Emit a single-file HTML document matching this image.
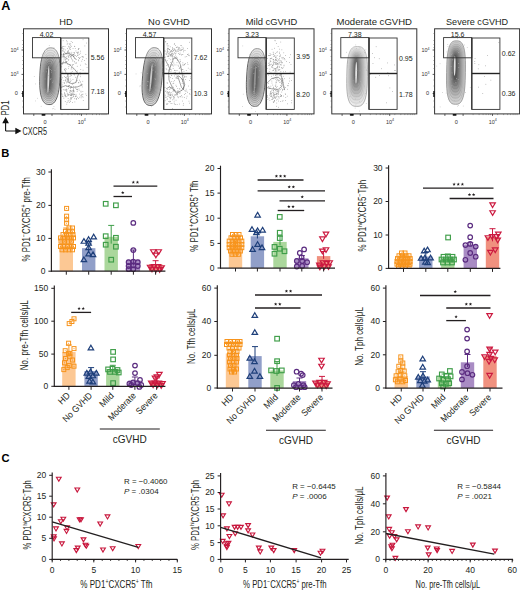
<!DOCTYPE html>
<html><head><meta charset="utf-8"><style>
html,body{margin:0;padding:0;background:#fff;}
svg{display:block;}
text{font-family:"Liberation Sans", sans-serif;}
</style></head><body>
<svg width="520" height="591" viewBox="0 0 520 591" fill="#231f20">
<rect width="520" height="591" fill="#fff"/>
<text x="1.20" y="10.40" font-size="12.6" font-weight="bold" fill="#000">A</text>
<text x="66.00" y="24.80" font-size="9" text-anchor="middle" textLength="13.40" lengthAdjust="spacingAndGlyphs">HD</text>
<g transform="rotate(2 49.90 76.20)"><path d="M60.00,76.20 L59.93,81.77 L59.72,85.83 L59.38,89.37 L58.90,92.51 L58.29,95.29 L57.55,97.72 L56.69,99.80 L55.70,101.51 L54.58,102.86 L53.33,103.82 L51.88,104.41 L49.90,104.60 L47.92,104.41 L46.47,103.82 L45.22,102.86 L44.10,101.51 L43.11,99.80 L42.25,97.72 L41.51,95.29 L40.90,92.51 L40.42,89.37 L40.08,85.83 L39.87,81.77 L39.80,76.20 L39.87,70.63 L40.08,66.57 L40.42,63.03 L40.90,59.89 L41.51,57.11 L42.25,54.68 L43.11,52.60 L44.10,50.89 L45.22,49.54 L46.47,48.58 L47.92,47.99 L49.90,47.80 L51.88,47.99 L53.33,48.58 L54.58,49.54 L55.70,50.89 L56.69,52.60 L57.55,54.68 L58.29,57.11 L58.90,59.89 L59.38,63.03 L59.72,66.57 L59.93,70.63 Z" fill="#dcdcdc" stroke="#3a3a3a" stroke-width="0.75"/><path d="M58.89,76.45 L58.83,81.60 L58.64,85.35 L58.33,88.62 L57.90,91.52 L57.35,94.09 L56.68,96.34 L55.90,98.25 L55.01,99.84 L54.00,101.08 L52.87,101.97 L51.56,102.51 L49.78,102.69 L47.99,102.51 L46.68,101.97 L45.55,101.08 L44.54,99.84 L43.65,98.25 L42.87,96.34 L42.20,94.09 L41.65,91.52 L41.22,88.62 L40.91,85.35 L40.72,81.60 L40.66,76.45 L40.72,71.30 L40.91,67.55 L41.22,64.28 L41.65,61.38 L42.20,58.81 L42.87,56.56 L43.65,54.65 L44.54,53.06 L45.55,51.82 L46.68,50.93 L47.99,50.39 L49.77,50.21 L51.56,50.39 L52.87,50.93 L54.00,51.82 L55.01,53.06 L55.90,54.65 L56.68,56.56 L57.35,58.81 L57.90,61.38 L58.33,64.28 L58.64,67.55 L58.83,71.30 Z" fill="#d3d3d3" stroke="#555555" stroke-width="0.3"/><path d="M57.78,76.70 L57.72,81.42 L57.56,84.87 L57.28,87.87 L56.90,90.53 L56.41,92.89 L55.81,94.95 L55.12,96.71 L54.32,98.16 L53.42,99.30 L52.41,100.12 L51.24,100.62 L49.65,100.78 L48.06,100.62 L46.89,100.12 L45.88,99.30 L44.98,98.16 L44.18,96.71 L43.49,94.95 L42.89,92.89 L42.40,90.53 L42.02,87.87 L41.74,84.87 L41.58,81.42 L41.52,76.70 L41.58,71.98 L41.74,68.53 L42.02,65.53 L42.40,62.87 L42.89,60.51 L43.49,58.45 L44.18,56.69 L44.98,55.24 L45.88,54.10 L46.89,53.28 L48.06,52.78 L49.65,52.62 L51.24,52.78 L52.41,53.28 L53.42,54.10 L54.32,55.24 L55.12,56.69 L55.81,58.45 L56.41,60.51 L56.90,62.87 L57.28,65.53 L57.56,68.53 L57.72,71.98 Z" fill="#c6c6c6" stroke="#555555" stroke-width="0.3"/><path d="M56.67,76.95 L56.62,81.25 L56.48,84.38 L56.23,87.12 L55.89,89.54 L55.46,91.69 L54.94,93.56 L54.33,95.16 L53.63,96.49 L52.84,97.53 L51.95,98.27 L50.93,98.72 L49.53,98.87 L48.12,98.72 L47.10,98.27 L46.21,97.53 L45.42,96.49 L44.72,95.16 L44.11,93.56 L43.59,91.69 L43.16,89.54 L42.82,87.12 L42.57,84.38 L42.43,81.25 L42.38,76.95 L42.43,72.65 L42.57,69.52 L42.82,66.78 L43.16,64.36 L43.59,62.21 L44.11,60.34 L44.72,58.74 L45.42,57.41 L46.21,56.37 L47.10,55.63 L48.12,55.18 L49.52,55.03 L50.93,55.18 L51.95,55.63 L52.84,56.37 L53.63,57.41 L54.33,58.74 L54.94,60.34 L55.46,62.21 L55.89,64.36 L56.23,66.78 L56.48,69.52 L56.62,72.65 Z" fill="#b8b8b8" stroke="#555555" stroke-width="0.3"/><path d="M55.56,77.20 L55.52,81.08 L55.39,83.90 L55.18,86.36 L54.89,88.55 L54.52,90.48 L54.07,92.18 L53.54,93.62 L52.94,94.81 L52.26,95.75 L51.49,96.42 L50.61,96.83 L49.40,96.96 L48.19,96.83 L47.31,96.42 L46.54,95.75 L45.86,94.81 L45.26,93.62 L44.73,92.18 L44.28,90.48 L43.91,88.55 L43.62,86.36 L43.41,83.90 L43.28,81.08 L43.24,77.20 L43.28,73.32 L43.41,70.50 L43.62,68.04 L43.91,65.85 L44.28,63.92 L44.73,62.22 L45.26,60.78 L45.86,59.59 L46.54,58.65 L47.31,57.98 L48.19,57.57 L49.40,57.44 L50.61,57.57 L51.49,57.98 L52.26,58.65 L52.94,59.59 L53.54,60.78 L54.07,62.22 L54.52,63.92 L54.89,65.85 L55.18,68.04 L55.39,70.50 L55.52,73.32 Z" fill="#a9a9a9" stroke="#555555" stroke-width="0.3"/><path d="M54.45,77.45 L54.42,80.90 L54.31,83.42 L54.13,85.61 L53.89,87.56 L53.58,89.28 L53.20,90.79 L52.75,92.08 L52.25,93.14 L51.68,93.97 L51.03,94.57 L50.29,94.93 L49.28,95.05 L48.26,94.93 L47.52,94.57 L46.87,93.97 L46.30,93.14 L45.80,92.08 L45.35,90.79 L44.97,89.28 L44.66,87.56 L44.42,85.61 L44.24,83.42 L44.13,80.90 L44.10,77.45 L44.13,74.00 L44.24,71.48 L44.42,69.29 L44.66,67.34 L44.97,65.62 L45.35,64.11 L45.80,62.82 L46.30,61.76 L46.87,60.93 L47.52,60.33 L48.26,59.97 L49.27,59.85 L50.29,59.97 L51.03,60.33 L51.68,60.93 L52.25,61.76 L52.75,62.82 L53.20,64.11 L53.58,65.62 L53.89,67.34 L54.13,69.29 L54.31,71.48 L54.42,74.00 Z" fill="#989898" stroke="#555555" stroke-width="0.3"/><path d="M53.34,77.70 L53.31,80.73 L53.23,82.94 L53.08,84.86 L52.89,86.57 L52.63,88.08 L52.33,89.40 L51.97,90.53 L51.56,91.46 L51.09,92.19 L50.57,92.72 L49.97,93.04 L49.15,93.14 L48.33,93.04 L47.73,92.72 L47.21,92.19 L46.74,91.46 L46.33,90.53 L45.97,89.40 L45.67,88.08 L45.41,86.57 L45.22,84.86 L45.07,82.94 L44.99,80.73 L44.96,77.70 L44.99,74.67 L45.07,72.46 L45.22,70.54 L45.41,68.83 L45.67,67.32 L45.97,66.00 L46.33,64.87 L46.74,63.94 L47.21,63.21 L47.73,62.68 L48.33,62.36 L49.15,62.26 L49.97,62.36 L50.57,62.68 L51.09,63.21 L51.56,63.94 L51.97,64.87 L52.33,66.00 L52.63,67.32 L52.89,68.83 L53.08,70.54 L53.23,72.46 L53.31,74.67 Z" fill="#878787" stroke="#555555" stroke-width="0.3"/><path d="M52.23,77.95 L52.21,80.55 L52.14,82.45 L52.03,84.11 L51.88,85.58 L51.69,86.88 L51.46,88.02 L51.18,88.99 L50.87,89.79 L50.51,90.42 L50.11,90.87 L49.65,91.14 L49.03,91.23 L48.40,91.14 L47.94,90.87 L47.54,90.42 L47.18,89.79 L46.87,88.99 L46.59,88.02 L46.36,86.88 L46.17,85.58 L46.02,84.11 L45.91,82.45 L45.84,80.55 L45.82,77.95 L45.84,75.35 L45.91,73.45 L46.02,71.79 L46.17,70.32 L46.36,69.02 L46.59,67.88 L46.87,66.91 L47.18,66.11 L47.54,65.48 L47.94,65.03 L48.40,64.76 L49.02,64.67 L49.65,64.76 L50.11,65.03 L50.51,65.48 L50.87,66.11 L51.18,66.91 L51.46,67.88 L51.69,69.02 L51.88,70.32 L52.03,71.79 L52.14,73.45 L52.21,75.35 Z" fill="#757575" stroke="#555555" stroke-width="0.3"/><path d="M51.12,78.20 L51.11,80.38 L51.06,81.97 L50.99,83.36 L50.88,84.59 L50.75,85.68 L50.58,86.63 L50.39,87.44 L50.18,88.11 L49.93,88.64 L49.65,89.02 L49.34,89.25 L48.90,89.32 L48.46,89.25 L48.15,89.02 L47.87,88.64 L47.62,88.11 L47.41,87.44 L47.22,86.63 L47.05,85.68 L46.92,84.59 L46.81,83.36 L46.74,81.97 L46.69,80.38 L46.68,78.20 L46.69,76.02 L46.74,74.43 L46.81,73.04 L46.92,71.81 L47.05,70.72 L47.22,69.77 L47.41,68.96 L47.62,68.29 L47.87,67.76 L48.15,67.38 L48.46,67.15 L48.90,67.08 L49.34,67.15 L49.65,67.38 L49.93,67.76 L50.18,68.29 L50.39,68.96 L50.58,69.77 L50.75,70.72 L50.88,71.81 L50.99,73.04 L51.06,74.43 L51.11,76.02 Z" fill="#626262" stroke="#555555" stroke-width="0.3"/><ellipse cx="48.50" cy="79.50" rx="0.9" ry="13.50" fill="#f2f2f2" opacity="0.85"/></g>
<rect x="32.50" y="37.6" width="28.2" height="20.2" fill="#fff" opacity="0.35"/>
<g fill="#b4b4b4"><rect x="46.0" y="55.6" width="0.7" height="0.7"/><rect x="52.6" y="60.1" width="0.7" height="0.7"/><rect x="50.2" y="69.0" width="0.7" height="0.7"/><rect x="44.6" y="88.8" width="0.7" height="0.7"/><rect x="33.9" y="76.0" width="0.7" height="0.7"/><rect x="45.9" y="71.5" width="0.7" height="0.7"/><rect x="46.2" y="103.2" width="0.7" height="0.7"/><rect x="46.7" y="68.4" width="0.7" height="0.7"/><rect x="41.8" y="53.8" width="0.7" height="0.7"/><rect x="56.8" y="87.3" width="0.7" height="0.7"/><rect x="53.6" y="106.1" width="0.7" height="0.7"/><rect x="44.7" y="78.6" width="0.7" height="0.7"/><rect x="51.1" y="70.3" width="0.7" height="0.7"/><rect x="42.1" y="61.5" width="0.7" height="0.7"/><rect x="54.6" y="108.9" width="0.7" height="0.7"/><rect x="50.1" y="79.0" width="0.7" height="0.7"/><rect x="35.3" y="83.6" width="0.7" height="0.7"/><rect x="53.4" y="108.1" width="0.7" height="0.7"/><rect x="46.8" y="104.4" width="0.7" height="0.7"/><rect x="53.7" y="54.4" width="0.7" height="0.7"/><rect x="52.3" y="108.5" width="0.7" height="0.7"/><rect x="40.8" y="105.9" width="0.7" height="0.7"/><rect x="48.9" y="45.3" width="0.7" height="0.7"/><rect x="48.3" y="75.0" width="0.7" height="0.7"/><rect x="51.1" y="71.8" width="0.7" height="0.7"/><rect x="47.3" y="49.5" width="0.7" height="0.7"/><rect x="49.6" y="65.5" width="0.7" height="0.7"/><rect x="50.6" y="78.2" width="0.7" height="0.7"/><rect x="53.6" y="47.4" width="0.7" height="0.7"/><rect x="49.6" y="94.1" width="0.7" height="0.7"/><rect x="57.0" y="67.1" width="0.7" height="0.7"/><rect x="44.5" y="52.4" width="0.7" height="0.7"/><rect x="35.0" y="100.6" width="0.7" height="0.7"/><rect x="40.5" y="83.8" width="0.7" height="0.7"/><rect x="43.1" y="70.7" width="0.7" height="0.7"/><rect x="53.1" y="55.3" width="0.7" height="0.7"/><rect x="52.1" y="55.5" width="0.7" height="0.7"/><rect x="52.8" y="80.7" width="0.7" height="0.7"/><rect x="53.7" y="94.5" width="0.7" height="0.7"/><rect x="53.9" y="51.5" width="0.7" height="0.7"/><rect x="37.0" y="97.9" width="0.7" height="0.7"/><rect x="51.0" y="62.7" width="0.7" height="0.7"/><rect x="52.4" y="82.3" width="0.7" height="0.7"/><rect x="54.6" y="70.1" width="0.7" height="0.7"/></g>
<g fill="#8e8e8e"><rect x="61.6" y="48.1" width="0.7" height="0.7"/><rect x="70.8" y="41.2" width="0.7" height="0.7"/><rect x="66.8" y="41.5" width="0.7" height="0.7"/><rect x="73.0" y="56.2" width="0.7" height="0.7"/><rect x="74.3" y="52.0" width="0.7" height="0.7"/><rect x="69.5" y="53.3" width="0.7" height="0.7"/><rect x="63.8" y="55.9" width="0.7" height="0.7"/><rect x="71.0" y="55.3" width="0.7" height="0.7"/><rect x="65.4" y="68.1" width="0.7" height="0.7"/><rect x="67.8" y="51.5" width="0.7" height="0.7"/><rect x="68.3" y="51.9" width="0.7" height="0.7"/><rect x="65.6" y="52.9" width="0.7" height="0.7"/><rect x="77.6" y="55.1" width="0.7" height="0.7"/><rect x="68.4" y="59.0" width="0.7" height="0.7"/><rect x="77.6" y="53.7" width="0.7" height="0.7"/><rect x="64.4" y="69.8" width="0.7" height="0.7"/><rect x="70.8" y="68.7" width="0.7" height="0.7"/><rect x="62.8" y="40.4" width="0.7" height="0.7"/><rect x="70.8" y="51.9" width="0.7" height="0.7"/><rect x="65.6" y="57.8" width="0.7" height="0.7"/><rect x="68.6" y="56.7" width="0.7" height="0.7"/><rect x="65.3" y="62.7" width="0.7" height="0.7"/><rect x="75.0" y="55.2" width="0.7" height="0.7"/><rect x="65.2" y="59.4" width="0.7" height="0.7"/><rect x="69.9" y="48.8" width="0.7" height="0.7"/><rect x="65.2" y="61.3" width="0.7" height="0.7"/><rect x="67.0" y="53.0" width="0.7" height="0.7"/><rect x="68.6" y="54.8" width="0.7" height="0.7"/><rect x="67.5" y="43.4" width="0.7" height="0.7"/><rect x="76.2" y="56.2" width="0.7" height="0.7"/><rect x="63.1" y="60.9" width="0.7" height="0.7"/><rect x="69.0" y="55.1" width="0.7" height="0.7"/><rect x="72.7" y="68.6" width="0.7" height="0.7"/><rect x="70.3" y="64.5" width="0.7" height="0.7"/><rect x="78.3" y="48.9" width="0.7" height="0.7"/><rect x="64.9" y="59.7" width="0.7" height="0.7"/><rect x="74.0" y="61.3" width="0.7" height="0.7"/><rect x="70.4" y="43.6" width="0.7" height="0.7"/><rect x="79.3" y="58.3" width="0.7" height="0.7"/><rect x="71.3" y="58.0" width="0.7" height="0.7"/><rect x="61.4" y="66.5" width="0.7" height="0.7"/><rect x="63.3" y="53.5" width="0.7" height="0.7"/><rect x="66.2" y="58.4" width="0.7" height="0.7"/><rect x="70.0" y="56.6" width="0.7" height="0.7"/><rect x="68.3" y="56.6" width="0.7" height="0.7"/><rect x="73.7" y="54.4" width="0.7" height="0.7"/><rect x="64.4" y="57.5" width="0.7" height="0.7"/><rect x="62.5" y="56.7" width="0.7" height="0.7"/><rect x="78.0" y="59.6" width="0.7" height="0.7"/><rect x="73.2" y="56.4" width="0.7" height="0.7"/><rect x="68.9" y="52.3" width="0.7" height="0.7"/><rect x="66.1" y="40.4" width="0.7" height="0.7"/><rect x="61.5" y="47.3" width="0.7" height="0.7"/><rect x="71.7" y="59.0" width="0.7" height="0.7"/><rect x="73.2" y="64.3" width="0.7" height="0.7"/><rect x="66.0" y="61.3" width="0.7" height="0.7"/><rect x="77.3" y="54.9" width="0.7" height="0.7"/><rect x="72.9" y="54.0" width="0.7" height="0.7"/><rect x="63.4" y="55.7" width="0.7" height="0.7"/><rect x="65.2" y="56.9" width="0.7" height="0.7"/><rect x="74.3" y="52.9" width="0.7" height="0.7"/><rect x="63.0" y="55.0" width="0.7" height="0.7"/><rect x="70.9" y="57.5" width="0.7" height="0.7"/><rect x="69.5" y="43.2" width="0.7" height="0.7"/><rect x="61.8" y="63.1" width="0.7" height="0.7"/><rect x="68.7" y="45.9" width="0.7" height="0.7"/><rect x="63.2" y="46.3" width="0.7" height="0.7"/><rect x="62.4" y="62.1" width="0.7" height="0.7"/><rect x="66.4" y="61.8" width="0.7" height="0.7"/><rect x="68.4" y="45.9" width="0.7" height="0.7"/><rect x="64.2" y="68.9" width="0.7" height="0.7"/><rect x="63.6" y="48.6" width="0.7" height="0.7"/><rect x="73.8" y="55.5" width="0.7" height="0.7"/><rect x="67.5" y="64.0" width="0.7" height="0.7"/><rect x="62.1" y="46.4" width="0.7" height="0.7"/><rect x="63.4" y="62.0" width="0.7" height="0.7"/><rect x="66.8" y="43.8" width="0.7" height="0.7"/><rect x="61.8" y="64.3" width="0.7" height="0.7"/><rect x="72.7" y="48.3" width="0.7" height="0.7"/><rect x="79.9" y="52.8" width="0.7" height="0.7"/><rect x="61.4" y="54.2" width="0.7" height="0.7"/><rect x="72.3" y="64.9" width="0.7" height="0.7"/><rect x="72.8" y="52.4" width="0.7" height="0.7"/><rect x="64.6" y="46.1" width="0.7" height="0.7"/><rect x="67.1" y="51.3" width="0.7" height="0.7"/><rect x="68.8" y="47.2" width="0.7" height="0.7"/><rect x="64.9" y="49.6" width="0.7" height="0.7"/><rect x="61.3" y="47.7" width="0.7" height="0.7"/><rect x="62.3" y="47.7" width="0.7" height="0.7"/><rect x="70.4" y="55.6" width="0.7" height="0.7"/><rect x="69.0" y="64.0" width="0.7" height="0.7"/><rect x="66.5" y="53.7" width="0.7" height="0.7"/><rect x="64.0" y="55.8" width="0.7" height="0.7"/><rect x="70.0" y="56.1" width="0.7" height="0.7"/><rect x="66.2" y="58.5" width="0.7" height="0.7"/><rect x="68.0" y="56.5" width="0.7" height="0.7"/><rect x="62.7" y="56.3" width="0.7" height="0.7"/><rect x="62.4" y="49.8" width="0.7" height="0.7"/><rect x="68.3" y="67.9" width="0.7" height="0.7"/><rect x="72.6" y="55.0" width="0.7" height="0.7"/><rect x="66.6" y="61.1" width="0.7" height="0.7"/><rect x="74.6" y="62.5" width="0.7" height="0.7"/><rect x="66.5" y="56.2" width="0.7" height="0.7"/><rect x="65.8" y="53.2" width="0.7" height="0.7"/><rect x="63.1" y="53.5" width="0.7" height="0.7"/><rect x="69.7" y="49.3" width="0.7" height="0.7"/><rect x="70.3" y="47.1" width="0.7" height="0.7"/><rect x="65.6" y="57.4" width="0.7" height="0.7"/><rect x="62.2" y="50.6" width="0.7" height="0.7"/><rect x="80.1" y="50.8" width="0.7" height="0.7"/><rect x="63.9" y="51.5" width="0.7" height="0.7"/><rect x="67.7" y="54.8" width="0.7" height="0.7"/><rect x="72.5" y="59.9" width="0.7" height="0.7"/><rect x="65.4" y="52.8" width="0.7" height="0.7"/><rect x="63.7" y="59.5" width="0.7" height="0.7"/><rect x="68.1" y="59.9" width="0.7" height="0.7"/><rect x="72.3" y="54.0" width="0.7" height="0.7"/><rect x="78.2" y="51.8" width="0.7" height="0.7"/><rect x="64.3" y="52.4" width="0.7" height="0.7"/><rect x="73.3" y="54.2" width="0.7" height="0.7"/><rect x="63.7" y="57.7" width="0.7" height="0.7"/><rect x="73.3" y="54.3" width="0.7" height="0.7"/><rect x="66.2" y="61.7" width="0.7" height="0.7"/><rect x="72.5" y="60.8" width="0.7" height="0.7"/><rect x="63.6" y="56.7" width="0.7" height="0.7"/><rect x="69.4" y="44.0" width="0.7" height="0.7"/><rect x="73.6" y="55.6" width="0.7" height="0.7"/><rect x="65.8" y="68.9" width="0.7" height="0.7"/><rect x="68.2" y="50.6" width="0.7" height="0.7"/><rect x="67.2" y="58.5" width="0.7" height="0.7"/><rect x="71.7" y="54.6" width="0.7" height="0.7"/><rect x="63.1" y="50.7" width="0.7" height="0.7"/><rect x="63.3" y="48.6" width="0.7" height="0.7"/><rect x="67.4" y="52.0" width="0.7" height="0.7"/><rect x="67.8" y="49.9" width="0.7" height="0.7"/><rect x="63.1" y="53.9" width="0.7" height="0.7"/><rect x="65.7" y="62.1" width="0.7" height="0.7"/><rect x="62.9" y="56.3" width="0.7" height="0.7"/><rect x="70.2" y="86.3" width="0.7" height="0.7"/><rect x="75.7" y="93.9" width="0.7" height="0.7"/><rect x="77.2" y="88.9" width="0.7" height="0.7"/><rect x="82.6" y="93.8" width="0.7" height="0.7"/><rect x="62.3" y="95.9" width="0.7" height="0.7"/><rect x="67.9" y="86.2" width="0.7" height="0.7"/><rect x="65.2" y="96.3" width="0.7" height="0.7"/><rect x="73.3" y="90.3" width="0.7" height="0.7"/><rect x="66.7" y="102.0" width="0.7" height="0.7"/><rect x="82.7" y="96.8" width="0.7" height="0.7"/><rect x="68.0" y="88.0" width="0.7" height="0.7"/><rect x="67.7" y="101.5" width="0.7" height="0.7"/><rect x="73.8" y="91.5" width="0.7" height="0.7"/><rect x="61.7" y="93.9" width="0.7" height="0.7"/><rect x="64.2" y="93.1" width="0.7" height="0.7"/><rect x="75.8" y="98.5" width="0.7" height="0.7"/><rect x="71.5" y="91.3" width="0.7" height="0.7"/><rect x="72.1" y="102.2" width="0.7" height="0.7"/><rect x="73.2" y="85.9" width="0.7" height="0.7"/><rect x="81.6" y="94.3" width="0.7" height="0.7"/><rect x="69.8" y="91.5" width="0.7" height="0.7"/><rect x="73.2" y="90.1" width="0.7" height="0.7"/><rect x="69.6" y="90.4" width="0.7" height="0.7"/><rect x="66.4" y="103.8" width="0.7" height="0.7"/><rect x="76.2" y="98.5" width="0.7" height="0.7"/><rect x="66.9" y="94.5" width="0.7" height="0.7"/><rect x="69.0" y="92.0" width="0.7" height="0.7"/><rect x="75.8" y="96.1" width="0.7" height="0.7"/><rect x="72.7" y="93.8" width="0.7" height="0.7"/><rect x="73.2" y="91.1" width="0.7" height="0.7"/><rect x="65.0" y="94.8" width="0.7" height="0.7"/><rect x="63.9" y="89.6" width="0.7" height="0.7"/><rect x="76.8" y="91.2" width="0.7" height="0.7"/><rect x="80.7" y="95.7" width="0.7" height="0.7"/><rect x="76.3" y="98.7" width="0.7" height="0.7"/><rect x="61.3" y="90.6" width="0.7" height="0.7"/><rect x="69.8" y="99.3" width="0.7" height="0.7"/><rect x="70.2" y="101.3" width="0.7" height="0.7"/><rect x="66.8" y="92.7" width="0.7" height="0.7"/><rect x="71.2" y="97.8" width="0.7" height="0.7"/><rect x="70.1" y="89.9" width="0.7" height="0.7"/><rect x="68.2" y="85.9" width="0.7" height="0.7"/><rect x="79.4" y="96.8" width="0.7" height="0.7"/><rect x="73.5" y="94.4" width="0.7" height="0.7"/><rect x="66.2" y="90.9" width="0.7" height="0.7"/><rect x="76.2" y="89.0" width="0.7" height="0.7"/><rect x="64.9" y="101.0" width="0.7" height="0.7"/><rect x="81.6" y="94.5" width="0.7" height="0.7"/><rect x="74.3" y="93.9" width="0.7" height="0.7"/><rect x="80.6" y="90.8" width="0.7" height="0.7"/><rect x="71.1" y="95.4" width="0.7" height="0.7"/><rect x="80.7" y="91.7" width="0.7" height="0.7"/><rect x="72.1" y="90.5" width="0.7" height="0.7"/><rect x="65.9" y="89.7" width="0.7" height="0.7"/><rect x="71.1" y="97.5" width="0.7" height="0.7"/><rect x="65.6" y="90.0" width="0.7" height="0.7"/><rect x="67.6" y="94.8" width="0.7" height="0.7"/><rect x="75.4" y="86.7" width="0.7" height="0.7"/><rect x="73.0" y="88.0" width="0.7" height="0.7"/><rect x="75.5" y="88.2" width="0.7" height="0.7"/><rect x="62.9" y="89.4" width="0.7" height="0.7"/><rect x="70.1" y="88.0" width="0.7" height="0.7"/><rect x="72.0" y="93.7" width="0.7" height="0.7"/><rect x="71.1" y="94.4" width="0.7" height="0.7"/><rect x="76.7" y="89.3" width="0.7" height="0.7"/><rect x="70.5" y="92.9" width="0.7" height="0.7"/><rect x="65.1" y="89.4" width="0.7" height="0.7"/><rect x="67.4" y="93.5" width="0.7" height="0.7"/><rect x="72.8" y="95.4" width="0.7" height="0.7"/><rect x="65.6" y="96.5" width="0.7" height="0.7"/><rect x="73.4" y="91.0" width="0.7" height="0.7"/><rect x="70.4" y="97.0" width="0.7" height="0.7"/><rect x="73.5" y="96.5" width="0.7" height="0.7"/><rect x="71.2" y="98.7" width="0.7" height="0.7"/><rect x="86.1" y="95.3" width="0.7" height="0.7"/><rect x="66.5" y="86.1" width="0.7" height="0.7"/><rect x="78.2" y="98.0" width="0.7" height="0.7"/><rect x="67.8" y="100.2" width="0.7" height="0.7"/><rect x="70.0" y="90.0" width="0.7" height="0.7"/><rect x="71.0" y="94.1" width="0.7" height="0.7"/><rect x="70.8" y="95.0" width="0.7" height="0.7"/><rect x="66.5" y="96.3" width="0.7" height="0.7"/><rect x="64.9" y="93.8" width="0.7" height="0.7"/><rect x="69.3" y="85.1" width="0.7" height="0.7"/><rect x="73.2" y="96.2" width="0.7" height="0.7"/><rect x="62.7" y="82.5" width="0.7" height="0.7"/><rect x="66.0" y="88.8" width="0.7" height="0.7"/><rect x="71.3" y="92.9" width="0.7" height="0.7"/><rect x="81.8" y="96.2" width="0.7" height="0.7"/><rect x="68.7" y="93.8" width="0.7" height="0.7"/><rect x="64.0" y="92.4" width="0.7" height="0.7"/><rect x="72.7" y="94.1" width="0.7" height="0.7"/><rect x="77.0" y="89.5" width="0.7" height="0.7"/><rect x="72.6" y="92.3" width="0.7" height="0.7"/><rect x="70.6" y="94.6" width="0.7" height="0.7"/><rect x="68.5" y="94.1" width="0.7" height="0.7"/><rect x="70.3" y="98.1" width="0.7" height="0.7"/><rect x="69.7" y="94.5" width="0.7" height="0.7"/><rect x="74.1" y="98.4" width="0.7" height="0.7"/><rect x="63.5" y="96.5" width="0.7" height="0.7"/><rect x="75.7" y="95.2" width="0.7" height="0.7"/><rect x="77.3" y="96.9" width="0.7" height="0.7"/><rect x="78.8" y="89.8" width="0.7" height="0.7"/><rect x="73.5" y="90.3" width="0.7" height="0.7"/><rect x="79.2" y="93.7" width="0.7" height="0.7"/><rect x="61.4" y="93.5" width="0.7" height="0.7"/><rect x="63.5" y="97.9" width="0.7" height="0.7"/><rect x="68.1" y="82.1" width="0.7" height="0.7"/><rect x="67.8" y="98.1" width="0.7" height="0.7"/><rect x="72.8" y="89.8" width="0.7" height="0.7"/><rect x="75.0" y="95.9" width="0.7" height="0.7"/><rect x="80.8" y="97.5" width="0.7" height="0.7"/><rect x="73.1" y="89.1" width="0.7" height="0.7"/><rect x="72.5" y="94.5" width="0.7" height="0.7"/><rect x="70.6" y="95.1" width="0.7" height="0.7"/><rect x="62.2" y="95.8" width="0.7" height="0.7"/><rect x="70.6" y="94.8" width="0.7" height="0.7"/><rect x="69.8" y="91.5" width="0.7" height="0.7"/><rect x="72.3" y="96.9" width="0.7" height="0.7"/><rect x="68.3" y="94.6" width="0.7" height="0.7"/><rect x="65.2" y="95.1" width="0.7" height="0.7"/><rect x="70.6" y="86.6" width="0.7" height="0.7"/><rect x="78.6" y="88.6" width="0.7" height="0.7"/><rect x="71.1" y="86.5" width="0.7" height="0.7"/><rect x="69.0" y="85.3" width="0.7" height="0.7"/><rect x="69.1" y="102.1" width="0.7" height="0.7"/><rect x="67.8" y="94.8" width="0.7" height="0.7"/><rect x="74.4" y="94.2" width="0.7" height="0.7"/><rect x="69.7" y="100.5" width="0.7" height="0.7"/><rect x="69.9" y="94.8" width="0.7" height="0.7"/><rect x="71.3" y="86.6" width="0.7" height="0.7"/><rect x="72.7" y="93.3" width="0.7" height="0.7"/><rect x="75.0" y="96.4" width="0.7" height="0.7"/><rect x="81.4" y="83.6" width="0.7" height="0.7"/><rect x="66.6" y="90.7" width="0.7" height="0.7"/><rect x="64.5" y="95.0" width="0.7" height="0.7"/><rect x="67.2" y="78.7" width="0.7" height="0.7"/><rect x="67.2" y="75.8" width="0.7" height="0.7"/><rect x="65.1" y="77.4" width="0.7" height="0.7"/><rect x="66.4" y="72.7" width="0.7" height="0.7"/><rect x="74.1" y="74.6" width="0.7" height="0.7"/><rect x="70.1" y="81.0" width="0.7" height="0.7"/><rect x="71.3" y="75.2" width="0.7" height="0.7"/><rect x="63.5" y="80.2" width="0.7" height="0.7"/><rect x="68.5" y="66.3" width="0.7" height="0.7"/><rect x="66.0" y="76.7" width="0.7" height="0.7"/><rect x="69.1" y="73.2" width="0.7" height="0.7"/><rect x="78.0" y="82.5" width="0.7" height="0.7"/><rect x="72.6" y="79.3" width="0.7" height="0.7"/><rect x="65.3" y="80.2" width="0.7" height="0.7"/><rect x="67.0" y="81.3" width="0.7" height="0.7"/><rect x="64.0" y="76.2" width="0.7" height="0.7"/><rect x="67.5" y="74.3" width="0.7" height="0.7"/><rect x="65.7" y="81.0" width="0.7" height="0.7"/><rect x="75.1" y="76.9" width="0.7" height="0.7"/><rect x="70.8" y="72.4" width="0.7" height="0.7"/><rect x="65.7" y="79.6" width="0.7" height="0.7"/><rect x="69.8" y="72.9" width="0.7" height="0.7"/><rect x="69.9" y="78.7" width="0.7" height="0.7"/><rect x="72.7" y="82.6" width="0.7" height="0.7"/><rect x="69.7" y="76.0" width="0.7" height="0.7"/><rect x="68.5" y="73.8" width="0.7" height="0.7"/><rect x="64.2" y="68.9" width="0.7" height="0.7"/><rect x="62.4" y="71.7" width="0.7" height="0.7"/><rect x="67.1" y="78.5" width="0.7" height="0.7"/><rect x="62.2" y="77.5" width="0.7" height="0.7"/><rect x="69.1" y="82.6" width="0.7" height="0.7"/><rect x="67.1" y="79.1" width="0.7" height="0.7"/><rect x="66.0" y="82.5" width="0.7" height="0.7"/><rect x="61.3" y="79.2" width="0.7" height="0.7"/><rect x="71.1" y="67.6" width="0.7" height="0.7"/><rect x="65.4" y="71.0" width="0.7" height="0.7"/><rect x="64.0" y="83.1" width="0.7" height="0.7"/><rect x="65.4" y="72.5" width="0.7" height="0.7"/><rect x="67.2" y="80.0" width="0.7" height="0.7"/><rect x="70.7" y="80.4" width="0.7" height="0.7"/><rect x="69.6" y="53.5" width="0.7" height="0.7"/><rect x="77.4" y="53.3" width="0.7" height="0.7"/><rect x="82.8" y="57.2" width="0.7" height="0.7"/><rect x="78.0" y="57.0" width="0.7" height="0.7"/><rect x="78.7" y="48.1" width="0.7" height="0.7"/><rect x="74.1" y="45.9" width="0.7" height="0.7"/><rect x="77.9" y="49.0" width="0.7" height="0.7"/><rect x="80.4" y="69.3" width="0.7" height="0.7"/><rect x="82.0" y="56.4" width="0.7" height="0.7"/><rect x="85.9" y="58.4" width="0.7" height="0.7"/><rect x="78.1" y="60.4" width="0.7" height="0.7"/><rect x="75.6" y="63.2" width="0.7" height="0.7"/><rect x="71.1" y="45.9" width="0.7" height="0.7"/><rect x="85.5" y="54.1" width="0.7" height="0.7"/><rect x="76.3" y="62.5" width="0.7" height="0.7"/><rect x="75.6" y="50.6" width="0.7" height="0.7"/><rect x="77.2" y="52.4" width="0.7" height="0.7"/><rect x="81.6" y="56.4" width="0.7" height="0.7"/><rect x="76.9" y="65.9" width="0.7" height="0.7"/><rect x="69.3" y="48.1" width="0.7" height="0.7"/><rect x="82.7" y="69.8" width="0.7" height="0.7"/><rect x="78.9" y="54.3" width="0.7" height="0.7"/><rect x="85.7" y="64.0" width="0.7" height="0.7"/><rect x="84.5" y="45.6" width="0.7" height="0.7"/><rect x="77.6" y="51.8" width="0.7" height="0.7"/><rect x="71.9" y="64.4" width="0.7" height="0.7"/><rect x="82.7" y="56.2" width="0.7" height="0.7"/><rect x="76.9" y="70.7" width="0.7" height="0.7"/><rect x="82.3" y="58.9" width="0.7" height="0.7"/><rect x="81.4" y="60.8" width="0.7" height="0.7"/><rect x="71.0" y="55.8" width="0.7" height="0.7"/><rect x="80.1" y="64.8" width="0.7" height="0.7"/><rect x="71.3" y="53.5" width="0.7" height="0.7"/><rect x="74.9" y="48.0" width="0.7" height="0.7"/><rect x="84.9" y="63.5" width="0.7" height="0.7"/><rect x="86.1" y="42.7" width="0.7" height="0.7"/><rect x="73.6" y="74.2" width="0.7" height="0.7"/><rect x="70.1" y="45.5" width="0.7" height="0.7"/><rect x="79.7" y="72.3" width="0.7" height="0.7"/><rect x="79.0" y="57.8" width="0.7" height="0.7"/><rect x="78.3" y="82.0" width="0.7" height="0.7"/><rect x="75.7" y="81.6" width="0.7" height="0.7"/><rect x="80.7" y="95.3" width="0.7" height="0.7"/><rect x="85.5" y="93.6" width="0.7" height="0.7"/><rect x="72.1" y="42.0" width="0.7" height="0.7"/><rect x="78.2" y="48.2" width="0.7" height="0.7"/><rect x="76.8" y="80.1" width="0.7" height="0.7"/><rect x="79.1" y="79.8" width="0.7" height="0.7"/><rect x="66.5" y="89.2" width="0.7" height="0.7"/><rect x="67.2" y="48.1" width="0.7" height="0.7"/><rect x="81.4" y="84.2" width="0.7" height="0.7"/><rect x="65.1" y="70.3" width="0.7" height="0.7"/><rect x="82.5" y="91.3" width="0.7" height="0.7"/><rect x="63.9" y="94.4" width="0.7" height="0.7"/><rect x="76.8" y="72.6" width="0.7" height="0.7"/><rect x="74.4" y="46.3" width="0.7" height="0.7"/><rect x="72.2" y="83.6" width="0.7" height="0.7"/><rect x="65.2" y="77.2" width="0.7" height="0.7"/><rect x="68.0" y="85.1" width="0.7" height="0.7"/><rect x="76.4" y="52.1" width="0.7" height="0.7"/><rect x="71.2" y="90.6" width="0.7" height="0.7"/><rect x="79.8" y="57.2" width="0.7" height="0.7"/><rect x="82.4" y="80.9" width="0.7" height="0.7"/><rect x="74.5" y="101.6" width="0.7" height="0.7"/><rect x="79.9" y="81.4" width="0.7" height="0.7"/><rect x="81.9" y="86.6" width="0.7" height="0.7"/><rect x="84.7" y="72.8" width="0.7" height="0.7"/><rect x="80.6" y="84.2" width="0.7" height="0.7"/><rect x="73.8" y="73.3" width="0.7" height="0.7"/><rect x="74.4" y="58.0" width="0.7" height="0.7"/><rect x="80.3" y="76.4" width="0.7" height="0.7"/><rect x="65.0" y="79.6" width="0.7" height="0.7"/><rect x="70.5" y="74.4" width="0.7" height="0.7"/><rect x="64.0" y="82.2" width="0.7" height="0.7"/><rect x="79.8" y="82.4" width="0.7" height="0.7"/><rect x="86.7" y="67.3" width="0.7" height="0.7"/><rect x="70.5" y="74.7" width="0.7" height="0.7"/><rect x="62.4" y="84.6" width="0.7" height="0.7"/><rect x="84.1" y="60.1" width="0.7" height="0.7"/><rect x="71.9" y="71.3" width="0.7" height="0.7"/><rect x="82.7" y="39.4" width="0.7" height="0.7"/><rect x="82.9" y="100.2" width="0.7" height="0.7"/><rect x="79.8" y="74.5" width="0.7" height="0.7"/><rect x="67.2" y="81.8" width="0.7" height="0.7"/><rect x="66.2" y="77.8" width="0.7" height="0.7"/><rect x="71.2" y="67.0" width="0.7" height="0.7"/></g>
<path d="M61.2,63.7 65.7,62.4 70.9,65.6 74.7,69.5 77.3,72.7" fill="none" stroke="#666" stroke-width="0.6" stroke-linejoin="round"/>
<path d="M67.7,74.0 68.9,82.4 72.2,83.9 76.0,82.4 77.3,77.2 78.6,74.0" fill="none" stroke="#666" stroke-width="0.6" stroke-linejoin="round"/>
<path d="M60.6,87.5 65.7,85.6 70.9,87.5 77.3,86.9 82.5,84.9" fill="none" stroke="#666" stroke-width="0.6" stroke-linejoin="round"/>
<path d="M62.5,55.0 67.5,53.0 72.5,55.5 76.5,60.0" fill="none" stroke="#666" stroke-width="0.6" stroke-linejoin="round"/>
<rect x="32.50" y="37.6" width="28.2" height="20.2" fill="none" stroke="#333" stroke-width="0.9"/>
<rect x="60.70" y="38.0" width="28.1" height="71.4" fill="none" stroke="#333" stroke-width="0.9"/>
<line x1="60.70" y1="73.50" x2="88.80" y2="73.50" stroke="#222" stroke-width="1.4"/>
<line x1="60.70" y1="38.00" x2="60.70" y2="109.40" stroke="#333" stroke-width="1.2"/>
<rect x="23.50" y="28.8" width="85.0" height="85.10" fill="none" stroke="#333" stroke-width="1"/>
<text x="46.50" y="37.30" font-size="7" text-anchor="middle">4.02</text>
<text x="90.70" y="59.90" font-size="7">5.56</text>
<text x="90.70" y="94.30" font-size="7">7.18</text>
<line x1="21.50" y1="50.00" x2="23.50" y2="50.00" stroke="#333" stroke-width="0.8"/>
<line x1="21.50" y1="74.40" x2="23.50" y2="74.40" stroke="#333" stroke-width="0.8"/>
<line x1="21.50" y1="93.50" x2="23.50" y2="93.50" stroke="#333" stroke-width="0.8"/>
<line x1="22.30" y1="33.50" x2="23.50" y2="33.50" stroke="#555" stroke-width="0.5"/>
<line x1="22.30" y1="40.50" x2="23.50" y2="40.50" stroke="#555" stroke-width="0.5"/>
<line x1="22.30" y1="44.50" x2="23.50" y2="44.50" stroke="#555" stroke-width="0.5"/>
<line x1="22.30" y1="47.50" x2="23.50" y2="47.50" stroke="#555" stroke-width="0.5"/>
<line x1="22.30" y1="56.50" x2="23.50" y2="56.50" stroke="#555" stroke-width="0.5"/>
<line x1="22.30" y1="60.50" x2="23.50" y2="60.50" stroke="#555" stroke-width="0.5"/>
<line x1="22.30" y1="64.50" x2="23.50" y2="64.50" stroke="#555" stroke-width="0.5"/>
<line x1="22.30" y1="68.50" x2="23.50" y2="68.50" stroke="#555" stroke-width="0.5"/>
<line x1="22.30" y1="80.00" x2="23.50" y2="80.00" stroke="#555" stroke-width="0.5"/>
<line x1="22.30" y1="86.00" x2="23.50" y2="86.00" stroke="#555" stroke-width="0.5"/>
<line x1="22.30" y1="101.00" x2="23.50" y2="101.00" stroke="#555" stroke-width="0.5"/>
<line x1="22.30" y1="107.00" x2="23.50" y2="107.00" stroke="#555" stroke-width="0.5"/>
<text x="18.50" y="52.00" font-size="5.4" text-anchor="end" fill="#333">10<tspan dy="-2.2" font-size="3.6">4</tspan></text>
<text x="18.50" y="76.40" font-size="5.4" text-anchor="end" fill="#333">10<tspan dy="-2.2" font-size="3.6">3</tspan></text>
<text x="17.90" y="95.20" font-size="5.6" text-anchor="end" fill="#333">0</text>
<line x1="33.80" y1="113.90" x2="33.80" y2="115.90" stroke="#333" stroke-width="0.8"/>
<line x1="52.00" y1="113.90" x2="52.00" y2="115.90" stroke="#333" stroke-width="0.8"/>
<line x1="81.40" y1="113.90" x2="81.40" y2="115.90" stroke="#333" stroke-width="0.8"/>
<line x1="62.00" y1="113.90" x2="62.00" y2="115.10" stroke="#555" stroke-width="0.5"/>
<line x1="68.00" y1="113.90" x2="68.00" y2="115.10" stroke="#555" stroke-width="0.5"/>
<line x1="72.00" y1="113.90" x2="72.00" y2="115.10" stroke="#555" stroke-width="0.5"/>
<line x1="75.00" y1="113.90" x2="75.00" y2="115.10" stroke="#555" stroke-width="0.5"/>
<line x1="77.50" y1="113.90" x2="77.50" y2="115.10" stroke="#555" stroke-width="0.5"/>
<line x1="79.50" y1="113.90" x2="79.50" y2="115.10" stroke="#555" stroke-width="0.5"/>
<line x1="86.50" y1="113.90" x2="86.50" y2="115.10" stroke="#555" stroke-width="0.5"/>
<line x1="92.50" y1="113.90" x2="92.50" y2="115.10" stroke="#555" stroke-width="0.5"/>
<line x1="96.50" y1="113.90" x2="96.50" y2="115.10" stroke="#555" stroke-width="0.5"/>
<line x1="99.50" y1="113.90" x2="99.50" y2="115.10" stroke="#555" stroke-width="0.5"/>
<line x1="102.00" y1="113.90" x2="102.00" y2="115.10" stroke="#555" stroke-width="0.5"/>
<line x1="104.00" y1="113.90" x2="104.00" y2="115.10" stroke="#555" stroke-width="0.5"/>
<line x1="106.00" y1="113.90" x2="106.00" y2="115.10" stroke="#555" stroke-width="0.5"/>
<rect x="41.50" y="113.90" width="4" height="1.8" rx="0.8" fill="#111"/>
<rect x="22.20" y="91" width="1.3" height="6" fill="#111"/>
<text x="45.10" y="123.60" font-size="5.6" text-anchor="middle" fill="#333">0</text>
<text x="81.70" y="123.60" font-size="5.4" text-anchor="middle" fill="#333">10<tspan dy="-2.2" font-size="3.6">4</tspan></text>
<text x="169.00" y="24.80" font-size="9" text-anchor="middle" textLength="41.80" lengthAdjust="spacingAndGlyphs">No GVHD</text>
<g transform="rotate(5 152.40 76.60)"><path d="M162.20,76.60 L162.13,82.29 L161.93,86.44 L161.60,90.05 L161.13,93.26 L160.54,96.10 L159.83,98.58 L158.99,100.70 L158.03,102.45 L156.94,103.82 L155.72,104.81 L154.32,105.40 L152.40,105.60 L150.48,105.40 L149.08,104.81 L147.86,103.82 L146.77,102.45 L145.81,100.70 L144.97,98.58 L144.26,96.10 L143.67,93.26 L143.20,90.05 L142.87,86.44 L142.67,82.29 L142.60,76.60 L142.67,70.91 L142.87,66.76 L143.20,63.15 L143.67,59.94 L144.26,57.10 L144.97,54.62 L145.81,52.50 L146.77,50.75 L147.86,49.38 L149.08,48.39 L150.48,47.80 L152.40,47.60 L154.32,47.80 L155.72,48.39 L156.94,49.38 L158.03,50.75 L158.99,52.50 L159.83,54.62 L160.54,57.10 L161.13,59.94 L161.60,63.15 L161.93,66.76 L162.13,70.91 Z" fill="#dcdcdc" stroke="#3a3a3a" stroke-width="0.75"/><path d="M161.12,76.85 L161.06,82.11 L160.88,85.94 L160.58,89.28 L160.16,92.24 L159.62,94.86 L158.98,97.16 L158.22,99.11 L157.35,100.73 L156.38,102.00 L155.27,102.91 L154.01,103.46 L152.28,103.64 L150.54,103.46 L149.28,102.91 L148.17,102.00 L147.20,100.73 L146.33,99.11 L145.57,97.16 L144.93,94.86 L144.39,92.24 L143.97,89.28 L143.67,85.94 L143.49,82.11 L143.43,76.85 L143.49,71.59 L143.67,67.76 L143.97,64.42 L144.39,61.46 L144.93,58.84 L145.57,56.54 L146.33,54.59 L147.20,52.97 L148.17,51.70 L149.28,50.79 L150.54,50.24 L152.27,50.06 L154.01,50.24 L155.27,50.79 L156.38,51.70 L157.35,52.97 L158.22,54.59 L158.98,56.54 L159.62,58.84 L160.16,61.46 L160.58,64.42 L160.88,67.76 L161.06,71.59 Z" fill="#d3d3d3" stroke="#555555" stroke-width="0.3"/><path d="M160.04,77.10 L159.98,81.92 L159.82,85.44 L159.55,88.50 L159.18,91.22 L158.71,93.63 L158.13,95.74 L157.45,97.53 L156.68,99.02 L155.81,100.18 L154.83,101.02 L153.70,101.52 L152.15,101.69 L150.60,101.52 L149.47,101.02 L148.49,100.18 L147.62,99.02 L146.85,97.53 L146.17,95.74 L145.59,93.63 L145.12,91.22 L144.75,88.50 L144.48,85.44 L144.32,81.92 L144.26,77.10 L144.32,72.28 L144.48,68.76 L144.75,65.70 L145.12,62.98 L145.59,60.57 L146.17,58.46 L146.85,56.67 L147.62,55.18 L148.49,54.02 L149.47,53.18 L150.60,52.68 L152.15,52.51 L153.70,52.68 L154.83,53.18 L155.81,54.02 L156.68,55.18 L157.45,56.67 L158.13,58.46 L158.71,60.57 L159.18,62.98 L159.55,65.70 L159.82,68.76 L159.98,72.28 Z" fill="#c6c6c6" stroke="#555555" stroke-width="0.3"/><path d="M158.96,77.35 L158.91,81.74 L158.77,84.94 L158.53,87.73 L158.20,90.21 L157.79,92.40 L157.28,94.31 L156.69,95.95 L156.01,97.30 L155.24,98.36 L154.38,99.12 L153.38,99.58 L152.03,99.73 L150.67,99.58 L149.67,99.12 L148.81,98.36 L148.04,97.30 L147.36,95.95 L146.77,94.31 L146.26,92.40 L145.85,90.21 L145.52,87.73 L145.28,84.94 L145.14,81.74 L145.09,77.35 L145.14,72.96 L145.28,69.76 L145.52,66.97 L145.85,64.49 L146.26,62.30 L146.77,60.39 L147.36,58.75 L148.04,57.40 L148.81,56.34 L149.67,55.58 L150.67,55.12 L152.02,54.97 L153.38,55.12 L154.38,55.58 L155.24,56.34 L156.01,57.40 L156.69,58.75 L157.28,60.39 L157.79,62.30 L158.20,64.49 L158.53,66.97 L158.77,69.76 L158.91,72.96 Z" fill="#b8b8b8" stroke="#555555" stroke-width="0.3"/><path d="M157.88,77.60 L157.84,81.56 L157.71,84.44 L157.51,86.96 L157.23,89.19 L156.87,91.17 L156.43,92.89 L155.92,94.37 L155.33,95.58 L154.67,96.54 L153.93,97.23 L153.07,97.64 L151.90,97.78 L150.73,97.64 L149.87,97.23 L149.13,96.54 L148.47,95.58 L147.88,94.37 L147.37,92.89 L146.93,91.17 L146.57,89.19 L146.29,86.96 L146.09,84.44 L145.96,81.56 L145.92,77.60 L145.96,73.64 L146.09,70.76 L146.29,68.24 L146.57,66.01 L146.93,64.03 L147.37,62.31 L147.88,60.83 L148.47,59.62 L149.13,58.66 L149.87,57.97 L150.73,57.56 L151.90,57.42 L153.07,57.56 L153.93,57.97 L154.67,58.66 L155.33,59.62 L155.92,60.83 L156.43,62.31 L156.87,64.03 L157.23,66.01 L157.51,68.24 L157.71,70.76 L157.84,73.64 Z" fill="#a9a9a9" stroke="#555555" stroke-width="0.3"/><path d="M156.80,77.85 L156.76,81.38 L156.66,83.95 L156.49,86.18 L156.25,88.17 L155.95,89.93 L155.58,91.47 L155.15,92.78 L154.66,93.87 L154.10,94.72 L153.48,95.33 L152.76,95.70 L151.78,95.82 L150.79,95.70 L150.07,95.33 L149.45,94.72 L148.89,93.87 L148.40,92.78 L147.97,91.47 L147.60,89.93 L147.30,88.17 L147.06,86.18 L146.89,83.95 L146.79,81.38 L146.75,77.85 L146.79,74.32 L146.89,71.75 L147.06,69.52 L147.30,67.53 L147.60,65.77 L147.97,64.23 L148.40,62.92 L148.89,61.83 L149.45,60.98 L150.07,60.37 L150.79,60.00 L151.77,59.88 L152.76,60.00 L153.48,60.37 L154.10,60.98 L154.66,61.83 L155.15,62.92 L155.58,64.23 L155.95,65.77 L156.25,67.53 L156.49,69.52 L156.66,71.75 L156.76,74.32 Z" fill="#989898" stroke="#555555" stroke-width="0.3"/><path d="M155.72,78.10 L155.69,81.19 L155.61,83.45 L155.47,85.41 L155.27,87.16 L155.03,88.70 L154.73,90.05 L154.38,91.20 L153.99,92.15 L153.54,92.90 L153.03,93.44 L152.45,93.76 L151.65,93.87 L150.85,93.76 L150.27,93.44 L149.76,92.90 L149.31,92.15 L148.92,91.20 L148.57,90.05 L148.27,88.70 L148.03,87.16 L147.83,85.41 L147.69,83.45 L147.61,81.19 L147.58,78.10 L147.61,75.01 L147.69,72.75 L147.83,70.79 L148.03,69.04 L148.27,67.50 L148.57,66.15 L148.92,65.00 L149.31,64.05 L149.76,63.30 L150.27,62.76 L150.85,62.44 L151.65,62.33 L152.45,62.44 L153.03,62.76 L153.54,63.30 L153.99,64.05 L154.38,65.00 L154.73,66.15 L155.03,67.50 L155.27,69.04 L155.47,70.79 L155.61,72.75 L155.69,75.01 Z" fill="#878787" stroke="#555555" stroke-width="0.3"/><path d="M154.64,78.35 L154.62,81.01 L154.55,82.95 L154.45,84.64 L154.30,86.14 L154.11,87.47 L153.88,88.63 L153.62,89.62 L153.31,90.44 L152.97,91.08 L152.58,91.54 L152.14,91.82 L151.53,91.91 L150.91,91.82 L150.47,91.54 L150.08,91.08 L149.74,90.44 L149.43,89.62 L149.17,88.63 L148.94,87.47 L148.75,86.14 L148.60,84.64 L148.50,82.95 L148.43,81.01 L148.41,78.35 L148.43,75.69 L148.50,73.75 L148.60,72.06 L148.75,70.56 L148.94,69.23 L149.17,68.07 L149.43,67.08 L149.74,66.26 L150.08,65.62 L150.47,65.16 L150.91,64.88 L151.52,64.79 L152.14,64.88 L152.58,65.16 L152.97,65.62 L153.31,66.26 L153.62,67.08 L153.88,68.07 L154.11,69.23 L154.30,70.56 L154.45,72.06 L154.55,73.75 L154.62,75.69 Z" fill="#757575" stroke="#555555" stroke-width="0.3"/><path d="M153.56,78.60 L153.54,80.83 L153.50,82.45 L153.42,83.87 L153.32,85.12 L153.19,86.23 L153.03,87.21 L152.85,88.04 L152.64,88.72 L152.40,89.26 L152.13,89.65 L151.82,89.88 L151.40,89.96 L150.98,89.88 L150.67,89.65 L150.40,89.26 L150.16,88.72 L149.95,88.04 L149.77,87.21 L149.61,86.23 L149.48,85.12 L149.38,83.87 L149.30,82.45 L149.26,80.83 L149.24,78.60 L149.26,76.37 L149.30,74.75 L149.38,73.33 L149.48,72.08 L149.61,70.97 L149.77,69.99 L149.95,69.16 L150.16,68.48 L150.40,67.94 L150.67,67.55 L150.98,67.32 L151.40,67.24 L151.82,67.32 L152.13,67.55 L152.40,67.94 L152.64,68.48 L152.85,69.16 L153.03,69.99 L153.19,70.97 L153.32,72.08 L153.42,73.33 L153.50,74.75 L153.54,76.37 Z" fill="#626262" stroke="#555555" stroke-width="0.3"/><ellipse cx="151.10" cy="78.00" rx="0.9" ry="14.00" fill="#f2f2f2" opacity="0.7"/></g>
<rect x="135.50" y="37.6" width="28.2" height="20.2" fill="#fff" opacity="0.3"/>
<g fill="#b4b4b4"><rect x="158.2" y="55.0" width="0.7" height="0.7"/><rect x="160.2" y="91.3" width="0.7" height="0.7"/><rect x="147.0" y="85.0" width="0.7" height="0.7"/><rect x="148.1" y="81.5" width="0.7" height="0.7"/><rect x="160.7" y="85.1" width="0.7" height="0.7"/><rect x="154.7" y="78.4" width="0.7" height="0.7"/><rect x="160.7" y="68.9" width="0.7" height="0.7"/><rect x="144.6" y="58.8" width="0.7" height="0.7"/><rect x="161.2" y="89.8" width="0.7" height="0.7"/><rect x="161.6" y="84.4" width="0.7" height="0.7"/><rect x="144.7" y="58.5" width="0.7" height="0.7"/><rect x="155.4" y="79.1" width="0.7" height="0.7"/><rect x="158.4" y="85.8" width="0.7" height="0.7"/><rect x="160.1" y="88.5" width="0.7" height="0.7"/><rect x="152.5" y="65.9" width="0.7" height="0.7"/><rect x="155.5" y="89.7" width="0.7" height="0.7"/><rect x="140.8" y="72.5" width="0.7" height="0.7"/><rect x="151.7" y="70.3" width="0.7" height="0.7"/><rect x="155.9" y="57.5" width="0.7" height="0.7"/><rect x="150.1" y="83.1" width="0.7" height="0.7"/><rect x="147.3" y="81.0" width="0.7" height="0.7"/><rect x="146.9" y="73.1" width="0.7" height="0.7"/><rect x="145.2" y="98.9" width="0.7" height="0.7"/><rect x="139.6" y="86.4" width="0.7" height="0.7"/><rect x="135.7" y="73.6" width="0.7" height="0.7"/><rect x="155.6" y="85.5" width="0.7" height="0.7"/><rect x="159.6" y="69.8" width="0.7" height="0.7"/><rect x="144.6" y="93.4" width="0.7" height="0.7"/><rect x="139.8" y="85.3" width="0.7" height="0.7"/><rect x="143.2" y="79.4" width="0.7" height="0.7"/><rect x="160.9" y="70.3" width="0.7" height="0.7"/><rect x="151.0" y="106.4" width="0.7" height="0.7"/><rect x="156.4" y="48.5" width="0.7" height="0.7"/><rect x="150.9" y="101.1" width="0.7" height="0.7"/><rect x="157.5" y="60.7" width="0.7" height="0.7"/><rect x="147.8" y="89.5" width="0.7" height="0.7"/><rect x="156.9" y="73.6" width="0.7" height="0.7"/><rect x="150.6" y="88.0" width="0.7" height="0.7"/><rect x="153.7" y="53.2" width="0.7" height="0.7"/><rect x="159.5" y="75.7" width="0.7" height="0.7"/><rect x="152.8" y="69.7" width="0.7" height="0.7"/><rect x="155.2" y="53.7" width="0.7" height="0.7"/><rect x="155.3" y="71.6" width="0.7" height="0.7"/><rect x="155.1" y="64.9" width="0.7" height="0.7"/><rect x="151.4" y="59.9" width="0.7" height="0.7"/></g>
<g fill="#8e8e8e"><rect x="175.2" y="51.3" width="0.7" height="0.7"/><rect x="172.9" y="54.3" width="0.7" height="0.7"/><rect x="167.8" y="48.3" width="0.7" height="0.7"/><rect x="175.4" y="49.7" width="0.7" height="0.7"/><rect x="177.4" y="50.9" width="0.7" height="0.7"/><rect x="165.2" y="41.6" width="0.7" height="0.7"/><rect x="170.9" y="50.5" width="0.7" height="0.7"/><rect x="178.4" y="47.5" width="0.7" height="0.7"/><rect x="169.8" y="55.0" width="0.7" height="0.7"/><rect x="176.9" y="46.6" width="0.7" height="0.7"/><rect x="182.7" y="48.7" width="0.7" height="0.7"/><rect x="180.3" y="50.4" width="0.7" height="0.7"/><rect x="168.4" y="45.5" width="0.7" height="0.7"/><rect x="170.6" y="64.5" width="0.7" height="0.7"/><rect x="166.8" y="60.1" width="0.7" height="0.7"/><rect x="181.2" y="50.0" width="0.7" height="0.7"/><rect x="179.7" y="59.3" width="0.7" height="0.7"/><rect x="169.3" y="49.2" width="0.7" height="0.7"/><rect x="179.7" y="53.9" width="0.7" height="0.7"/><rect x="187.1" y="54.3" width="0.7" height="0.7"/><rect x="176.7" y="49.9" width="0.7" height="0.7"/><rect x="165.0" y="56.7" width="0.7" height="0.7"/><rect x="168.7" y="58.4" width="0.7" height="0.7"/><rect x="164.3" y="50.6" width="0.7" height="0.7"/><rect x="167.5" y="46.6" width="0.7" height="0.7"/><rect x="166.9" y="56.2" width="0.7" height="0.7"/><rect x="179.5" y="50.2" width="0.7" height="0.7"/><rect x="168.9" y="53.3" width="0.7" height="0.7"/><rect x="174.9" y="50.1" width="0.7" height="0.7"/><rect x="165.3" y="50.7" width="0.7" height="0.7"/><rect x="168.4" y="56.1" width="0.7" height="0.7"/><rect x="172.2" y="53.3" width="0.7" height="0.7"/><rect x="168.7" y="49.3" width="0.7" height="0.7"/><rect x="170.7" y="50.5" width="0.7" height="0.7"/><rect x="178.3" y="49.4" width="0.7" height="0.7"/><rect x="176.2" y="47.2" width="0.7" height="0.7"/><rect x="183.0" y="51.5" width="0.7" height="0.7"/><rect x="167.4" y="48.3" width="0.7" height="0.7"/><rect x="174.3" y="43.0" width="0.7" height="0.7"/><rect x="179.7" y="52.7" width="0.7" height="0.7"/><rect x="167.3" y="48.6" width="0.7" height="0.7"/><rect x="176.6" y="58.8" width="0.7" height="0.7"/><rect x="166.4" y="53.6" width="0.7" height="0.7"/><rect x="189.2" y="55.4" width="0.7" height="0.7"/><rect x="169.4" y="54.0" width="0.7" height="0.7"/><rect x="172.6" y="55.8" width="0.7" height="0.7"/><rect x="174.4" y="49.6" width="0.7" height="0.7"/><rect x="171.0" y="54.2" width="0.7" height="0.7"/><rect x="166.8" y="52.6" width="0.7" height="0.7"/><rect x="165.1" y="58.8" width="0.7" height="0.7"/><rect x="183.3" y="47.7" width="0.7" height="0.7"/><rect x="178.1" y="53.2" width="0.7" height="0.7"/><rect x="172.6" y="50.9" width="0.7" height="0.7"/><rect x="173.9" y="57.6" width="0.7" height="0.7"/><rect x="169.9" y="46.5" width="0.7" height="0.7"/><rect x="171.5" y="55.6" width="0.7" height="0.7"/><rect x="171.2" y="53.8" width="0.7" height="0.7"/><rect x="169.4" y="49.5" width="0.7" height="0.7"/><rect x="179.2" y="47.4" width="0.7" height="0.7"/><rect x="179.2" y="54.1" width="0.7" height="0.7"/><rect x="169.9" y="51.1" width="0.7" height="0.7"/><rect x="169.8" y="52.1" width="0.7" height="0.7"/><rect x="171.6" y="51.6" width="0.7" height="0.7"/><rect x="174.4" y="49.0" width="0.7" height="0.7"/><rect x="167.7" y="51.4" width="0.7" height="0.7"/><rect x="171.9" y="51.4" width="0.7" height="0.7"/><rect x="177.2" y="60.0" width="0.7" height="0.7"/><rect x="178.4" y="48.1" width="0.7" height="0.7"/><rect x="167.0" y="51.7" width="0.7" height="0.7"/><rect x="170.8" y="54.9" width="0.7" height="0.7"/><rect x="175.9" y="46.9" width="0.7" height="0.7"/><rect x="167.3" y="43.3" width="0.7" height="0.7"/><rect x="176.0" y="51.5" width="0.7" height="0.7"/><rect x="172.0" y="47.1" width="0.7" height="0.7"/><rect x="168.9" y="49.3" width="0.7" height="0.7"/><rect x="172.7" y="53.4" width="0.7" height="0.7"/><rect x="167.8" y="54.5" width="0.7" height="0.7"/><rect x="176.6" y="57.2" width="0.7" height="0.7"/><rect x="177.7" y="46.9" width="0.7" height="0.7"/><rect x="188.4" y="53.7" width="0.7" height="0.7"/><rect x="166.6" y="43.6" width="0.7" height="0.7"/><rect x="173.0" y="50.0" width="0.7" height="0.7"/><rect x="175.5" y="53.3" width="0.7" height="0.7"/><rect x="177.6" y="49.2" width="0.7" height="0.7"/><rect x="182.0" y="49.1" width="0.7" height="0.7"/><rect x="181.7" y="46.8" width="0.7" height="0.7"/><rect x="167.9" y="48.4" width="0.7" height="0.7"/><rect x="170.5" y="55.6" width="0.7" height="0.7"/><rect x="186.4" y="56.0" width="0.7" height="0.7"/><rect x="171.0" y="53.0" width="0.7" height="0.7"/><rect x="170.2" y="54.1" width="0.7" height="0.7"/><rect x="165.6" y="53.5" width="0.7" height="0.7"/><rect x="175.1" y="57.1" width="0.7" height="0.7"/><rect x="165.9" y="54.4" width="0.7" height="0.7"/><rect x="173.8" y="48.1" width="0.7" height="0.7"/><rect x="178.1" y="50.8" width="0.7" height="0.7"/><rect x="188.1" y="55.1" width="0.7" height="0.7"/><rect x="166.6" y="51.7" width="0.7" height="0.7"/><rect x="175.1" y="54.7" width="0.7" height="0.7"/><rect x="170.1" y="54.5" width="0.7" height="0.7"/><rect x="173.0" y="49.8" width="0.7" height="0.7"/><rect x="168.8" y="51.9" width="0.7" height="0.7"/><rect x="167.8" y="56.1" width="0.7" height="0.7"/><rect x="179.5" y="48.6" width="0.7" height="0.7"/><rect x="181.7" y="54.3" width="0.7" height="0.7"/><rect x="175.2" y="45.0" width="0.7" height="0.7"/><rect x="167.8" y="55.1" width="0.7" height="0.7"/><rect x="174.4" y="52.1" width="0.7" height="0.7"/><rect x="175.8" y="56.5" width="0.7" height="0.7"/><rect x="172.4" y="48.6" width="0.7" height="0.7"/><rect x="170.5" y="51.3" width="0.7" height="0.7"/><rect x="179.7" y="48.8" width="0.7" height="0.7"/><rect x="169.8" y="55.5" width="0.7" height="0.7"/><rect x="165.4" y="41.2" width="0.7" height="0.7"/><rect x="167.8" y="56.3" width="0.7" height="0.7"/><rect x="167.4" y="50.9" width="0.7" height="0.7"/><rect x="170.4" y="62.0" width="0.7" height="0.7"/><rect x="172.5" y="48.5" width="0.7" height="0.7"/><rect x="172.1" y="58.3" width="0.7" height="0.7"/><rect x="167.1" y="50.3" width="0.7" height="0.7"/><rect x="168.3" y="53.3" width="0.7" height="0.7"/><rect x="171.3" y="50.5" width="0.7" height="0.7"/><rect x="166.8" y="49.4" width="0.7" height="0.7"/><rect x="172.1" y="49.4" width="0.7" height="0.7"/><rect x="166.8" y="44.8" width="0.7" height="0.7"/><rect x="171.9" y="54.6" width="0.7" height="0.7"/><rect x="164.4" y="57.2" width="0.7" height="0.7"/><rect x="172.4" y="93.8" width="0.7" height="0.7"/><rect x="182.9" y="104.9" width="0.7" height="0.7"/><rect x="167.8" y="92.8" width="0.7" height="0.7"/><rect x="178.7" y="96.4" width="0.7" height="0.7"/><rect x="167.6" y="93.6" width="0.7" height="0.7"/><rect x="180.6" y="96.6" width="0.7" height="0.7"/><rect x="172.3" y="99.5" width="0.7" height="0.7"/><rect x="167.4" y="91.0" width="0.7" height="0.7"/><rect x="179.3" y="103.7" width="0.7" height="0.7"/><rect x="176.4" y="94.0" width="0.7" height="0.7"/><rect x="186.0" y="97.8" width="0.7" height="0.7"/><rect x="167.4" y="89.1" width="0.7" height="0.7"/><rect x="174.2" y="103.7" width="0.7" height="0.7"/><rect x="170.5" y="94.0" width="0.7" height="0.7"/><rect x="166.8" y="99.4" width="0.7" height="0.7"/><rect x="183.0" y="103.4" width="0.7" height="0.7"/><rect x="181.1" y="89.8" width="0.7" height="0.7"/><rect x="182.6" y="87.8" width="0.7" height="0.7"/><rect x="167.9" y="92.2" width="0.7" height="0.7"/><rect x="189.7" y="89.1" width="0.7" height="0.7"/><rect x="165.0" y="94.8" width="0.7" height="0.7"/><rect x="182.4" y="96.7" width="0.7" height="0.7"/><rect x="177.4" y="88.3" width="0.7" height="0.7"/><rect x="169.8" y="101.0" width="0.7" height="0.7"/><rect x="173.8" y="89.5" width="0.7" height="0.7"/><rect x="170.2" y="101.4" width="0.7" height="0.7"/><rect x="186.7" y="95.8" width="0.7" height="0.7"/><rect x="166.5" y="103.4" width="0.7" height="0.7"/><rect x="167.9" y="94.0" width="0.7" height="0.7"/><rect x="176.4" y="93.4" width="0.7" height="0.7"/><rect x="171.6" y="103.1" width="0.7" height="0.7"/><rect x="175.6" y="84.8" width="0.7" height="0.7"/><rect x="168.3" y="101.3" width="0.7" height="0.7"/><rect x="171.7" y="87.3" width="0.7" height="0.7"/><rect x="180.3" y="96.3" width="0.7" height="0.7"/><rect x="173.4" y="96.8" width="0.7" height="0.7"/><rect x="170.1" y="94.5" width="0.7" height="0.7"/><rect x="177.7" y="90.1" width="0.7" height="0.7"/><rect x="183.0" y="87.2" width="0.7" height="0.7"/><rect x="189.6" y="93.9" width="0.7" height="0.7"/><rect x="176.1" y="86.2" width="0.7" height="0.7"/><rect x="179.3" y="88.5" width="0.7" height="0.7"/><rect x="177.0" y="93.5" width="0.7" height="0.7"/><rect x="166.6" y="104.0" width="0.7" height="0.7"/><rect x="174.4" y="90.4" width="0.7" height="0.7"/><rect x="170.2" y="95.4" width="0.7" height="0.7"/><rect x="173.5" y="98.5" width="0.7" height="0.7"/><rect x="168.6" y="94.8" width="0.7" height="0.7"/><rect x="169.2" y="89.3" width="0.7" height="0.7"/><rect x="179.6" y="88.6" width="0.7" height="0.7"/><rect x="169.0" y="96.8" width="0.7" height="0.7"/><rect x="177.3" y="96.5" width="0.7" height="0.7"/><rect x="173.8" y="102.7" width="0.7" height="0.7"/><rect x="164.8" y="100.4" width="0.7" height="0.7"/><rect x="172.0" y="95.3" width="0.7" height="0.7"/><rect x="169.8" y="98.6" width="0.7" height="0.7"/><rect x="177.0" y="90.9" width="0.7" height="0.7"/><rect x="173.6" y="96.4" width="0.7" height="0.7"/><rect x="172.1" y="108.2" width="0.7" height="0.7"/><rect x="177.7" y="91.2" width="0.7" height="0.7"/><rect x="181.3" y="95.1" width="0.7" height="0.7"/><rect x="169.1" y="91.5" width="0.7" height="0.7"/><rect x="185.2" y="93.1" width="0.7" height="0.7"/><rect x="166.9" y="83.3" width="0.7" height="0.7"/><rect x="168.2" y="92.6" width="0.7" height="0.7"/><rect x="166.6" y="92.6" width="0.7" height="0.7"/><rect x="171.5" y="94.6" width="0.7" height="0.7"/><rect x="174.0" y="94.7" width="0.7" height="0.7"/><rect x="166.8" y="91.9" width="0.7" height="0.7"/><rect x="172.9" y="96.1" width="0.7" height="0.7"/><rect x="169.0" y="86.4" width="0.7" height="0.7"/><rect x="170.9" y="92.4" width="0.7" height="0.7"/><rect x="167.5" y="103.1" width="0.7" height="0.7"/><rect x="169.8" y="95.0" width="0.7" height="0.7"/><rect x="175.7" y="94.7" width="0.7" height="0.7"/><rect x="167.8" y="95.9" width="0.7" height="0.7"/><rect x="172.9" y="90.3" width="0.7" height="0.7"/><rect x="169.5" y="100.8" width="0.7" height="0.7"/><rect x="181.8" y="83.3" width="0.7" height="0.7"/><rect x="169.6" y="97.2" width="0.7" height="0.7"/><rect x="169.8" y="95.3" width="0.7" height="0.7"/><rect x="170.6" y="103.1" width="0.7" height="0.7"/><rect x="178.8" y="92.4" width="0.7" height="0.7"/><rect x="184.3" y="97.3" width="0.7" height="0.7"/><rect x="186.4" y="90.7" width="0.7" height="0.7"/><rect x="173.4" y="83.1" width="0.7" height="0.7"/><rect x="173.6" y="88.7" width="0.7" height="0.7"/><rect x="169.4" y="94.1" width="0.7" height="0.7"/><rect x="173.1" y="90.5" width="0.7" height="0.7"/><rect x="166.9" y="98.5" width="0.7" height="0.7"/><rect x="185.8" y="88.8" width="0.7" height="0.7"/><rect x="165.9" y="96.8" width="0.7" height="0.7"/><rect x="173.2" y="87.2" width="0.7" height="0.7"/><rect x="183.1" y="87.5" width="0.7" height="0.7"/><rect x="184.5" y="90.4" width="0.7" height="0.7"/><rect x="165.6" y="90.6" width="0.7" height="0.7"/><rect x="184.2" y="94.0" width="0.7" height="0.7"/><rect x="172.6" y="83.4" width="0.7" height="0.7"/><rect x="172.6" y="91.4" width="0.7" height="0.7"/><rect x="169.9" y="88.5" width="0.7" height="0.7"/><rect x="165.1" y="96.8" width="0.7" height="0.7"/><rect x="177.3" y="94.2" width="0.7" height="0.7"/><rect x="173.9" y="97.0" width="0.7" height="0.7"/><rect x="170.0" y="92.7" width="0.7" height="0.7"/><rect x="175.4" y="94.4" width="0.7" height="0.7"/><rect x="170.3" y="77.2" width="0.7" height="0.7"/><rect x="172.5" y="85.8" width="0.7" height="0.7"/><rect x="182.1" y="100.7" width="0.7" height="0.7"/><rect x="174.7" y="94.7" width="0.7" height="0.7"/><rect x="166.6" y="104.1" width="0.7" height="0.7"/><rect x="171.4" y="81.0" width="0.7" height="0.7"/><rect x="187.2" y="91.9" width="0.7" height="0.7"/><rect x="175.7" y="99.8" width="0.7" height="0.7"/><rect x="173.8" y="100.8" width="0.7" height="0.7"/><rect x="171.4" y="96.7" width="0.7" height="0.7"/><rect x="165.4" y="91.1" width="0.7" height="0.7"/><rect x="173.6" y="98.6" width="0.7" height="0.7"/><rect x="167.4" y="95.8" width="0.7" height="0.7"/><rect x="170.4" y="97.0" width="0.7" height="0.7"/><rect x="169.2" y="101.6" width="0.7" height="0.7"/><rect x="164.6" y="87.0" width="0.7" height="0.7"/><rect x="183.0" y="88.9" width="0.7" height="0.7"/><rect x="178.1" y="97.4" width="0.7" height="0.7"/><rect x="169.0" y="92.5" width="0.7" height="0.7"/><rect x="179.9" y="61.5" width="0.7" height="0.7"/><rect x="178.9" y="72.0" width="0.7" height="0.7"/><rect x="168.5" y="69.7" width="0.7" height="0.7"/><rect x="184.1" y="76.2" width="0.7" height="0.7"/><rect x="172.2" y="64.1" width="0.7" height="0.7"/><rect x="178.8" y="73.5" width="0.7" height="0.7"/><rect x="183.6" y="70.9" width="0.7" height="0.7"/><rect x="183.5" y="65.0" width="0.7" height="0.7"/><rect x="189.7" y="68.8" width="0.7" height="0.7"/><rect x="172.9" y="65.7" width="0.7" height="0.7"/><rect x="167.9" y="64.2" width="0.7" height="0.7"/><rect x="176.7" y="74.0" width="0.7" height="0.7"/><rect x="185.3" y="63.3" width="0.7" height="0.7"/><rect x="174.1" y="75.6" width="0.7" height="0.7"/><rect x="184.7" y="76.1" width="0.7" height="0.7"/><rect x="180.1" y="60.8" width="0.7" height="0.7"/><rect x="175.3" y="57.6" width="0.7" height="0.7"/><rect x="174.3" y="80.0" width="0.7" height="0.7"/><rect x="187.9" y="67.8" width="0.7" height="0.7"/><rect x="182.1" y="80.8" width="0.7" height="0.7"/><rect x="172.1" y="59.1" width="0.7" height="0.7"/><rect x="174.6" y="53.1" width="0.7" height="0.7"/><rect x="182.6" y="69.2" width="0.7" height="0.7"/><rect x="176.7" y="70.3" width="0.7" height="0.7"/><rect x="181.3" y="69.7" width="0.7" height="0.7"/><rect x="171.1" y="74.9" width="0.7" height="0.7"/><rect x="175.2" y="72.1" width="0.7" height="0.7"/><rect x="174.2" y="69.9" width="0.7" height="0.7"/><rect x="169.0" y="70.8" width="0.7" height="0.7"/><rect x="176.5" y="78.3" width="0.7" height="0.7"/><rect x="173.5" y="62.7" width="0.7" height="0.7"/><rect x="182.5" y="54.0" width="0.7" height="0.7"/><rect x="182.0" y="69.0" width="0.7" height="0.7"/><rect x="175.5" y="70.4" width="0.7" height="0.7"/><rect x="176.6" y="62.4" width="0.7" height="0.7"/><rect x="182.5" y="62.5" width="0.7" height="0.7"/><rect x="178.9" y="68.1" width="0.7" height="0.7"/><rect x="173.8" y="64.6" width="0.7" height="0.7"/><rect x="179.9" y="66.8" width="0.7" height="0.7"/><rect x="186.3" y="76.5" width="0.7" height="0.7"/><rect x="175.5" y="77.6" width="0.7" height="0.7"/><rect x="170.4" y="59.4" width="0.7" height="0.7"/><rect x="184.8" y="56.6" width="0.7" height="0.7"/><rect x="173.8" y="72.2" width="0.7" height="0.7"/><rect x="165.8" y="68.4" width="0.7" height="0.7"/><rect x="183.6" y="63.9" width="0.7" height="0.7"/><rect x="187.0" y="62.5" width="0.7" height="0.7"/><rect x="186.7" y="72.8" width="0.7" height="0.7"/><rect x="179.0" y="67.7" width="0.7" height="0.7"/><rect x="172.3" y="78.0" width="0.7" height="0.7"/><rect x="171.1" y="69.6" width="0.7" height="0.7"/><rect x="182.4" y="73.3" width="0.7" height="0.7"/><rect x="182.3" y="64.6" width="0.7" height="0.7"/><rect x="170.6" y="71.4" width="0.7" height="0.7"/><rect x="177.2" y="78.1" width="0.7" height="0.7"/><rect x="166.4" y="69.4" width="0.7" height="0.7"/><rect x="180.6" y="65.8" width="0.7" height="0.7"/><rect x="168.5" y="69.7" width="0.7" height="0.7"/><rect x="184.4" y="64.0" width="0.7" height="0.7"/><rect x="172.6" y="61.5" width="0.7" height="0.7"/><rect x="172.2" y="55.3" width="0.7" height="0.7"/><rect x="185.3" y="79.0" width="0.7" height="0.7"/><rect x="174.8" y="74.2" width="0.7" height="0.7"/><rect x="189.2" y="80.3" width="0.7" height="0.7"/><rect x="184.3" y="63.9" width="0.7" height="0.7"/><rect x="174.4" y="70.1" width="0.7" height="0.7"/><rect x="187.6" y="64.1" width="0.7" height="0.7"/><rect x="182.4" y="79.1" width="0.7" height="0.7"/><rect x="183.5" y="74.6" width="0.7" height="0.7"/><rect x="170.5" y="87.2" width="0.7" height="0.7"/><rect x="173.4" y="81.5" width="0.7" height="0.7"/><rect x="171.8" y="65.3" width="0.7" height="0.7"/><rect x="172.2" y="56.7" width="0.7" height="0.7"/><rect x="184.7" y="50.1" width="0.7" height="0.7"/><rect x="179.8" y="66.9" width="0.7" height="0.7"/><rect x="180.8" y="45.1" width="0.7" height="0.7"/><rect x="176.4" y="75.7" width="0.7" height="0.7"/><rect x="189.1" y="93.1" width="0.7" height="0.7"/><rect x="179.8" y="73.7" width="0.7" height="0.7"/><rect x="176.9" y="93.2" width="0.7" height="0.7"/><rect x="188.2" y="85.7" width="0.7" height="0.7"/><rect x="187.3" y="48.1" width="0.7" height="0.7"/><rect x="177.7" y="64.8" width="0.7" height="0.7"/><rect x="189.1" y="41.9" width="0.7" height="0.7"/><rect x="187.4" y="54.3" width="0.7" height="0.7"/><rect x="181.0" y="54.7" width="0.7" height="0.7"/><rect x="190.0" y="76.5" width="0.7" height="0.7"/><rect x="171.4" y="75.0" width="0.7" height="0.7"/><rect x="189.0" y="102.8" width="0.7" height="0.7"/><rect x="178.9" y="71.7" width="0.7" height="0.7"/><rect x="190.3" y="78.3" width="0.7" height="0.7"/><rect x="179.5" y="93.1" width="0.7" height="0.7"/><rect x="168.6" y="76.4" width="0.7" height="0.7"/><rect x="176.9" y="94.6" width="0.7" height="0.7"/><rect x="181.5" y="78.4" width="0.7" height="0.7"/><rect x="188.6" y="100.8" width="0.7" height="0.7"/><rect x="180.9" y="68.7" width="0.7" height="0.7"/><rect x="166.8" y="82.3" width="0.7" height="0.7"/><rect x="171.7" y="56.4" width="0.7" height="0.7"/><rect x="175.3" y="104.1" width="0.7" height="0.7"/><rect x="178.2" y="92.4" width="0.7" height="0.7"/><rect x="184.4" y="77.3" width="0.7" height="0.7"/><rect x="178.2" y="65.8" width="0.7" height="0.7"/><rect x="179.8" y="91.8" width="0.7" height="0.7"/><rect x="176.2" y="77.0" width="0.7" height="0.7"/><rect x="182.2" y="79.0" width="0.7" height="0.7"/><rect x="180.6" y="45.0" width="0.7" height="0.7"/><rect x="181.3" y="49.0" width="0.7" height="0.7"/><rect x="183.5" y="74.8" width="0.7" height="0.7"/><rect x="173.9" y="56.0" width="0.7" height="0.7"/><rect x="185.9" y="70.2" width="0.7" height="0.7"/><rect x="173.9" y="44.3" width="0.7" height="0.7"/><rect x="170.4" y="98.0" width="0.7" height="0.7"/><rect x="176.8" y="104.1" width="0.7" height="0.7"/><rect x="175.6" y="64.6" width="0.7" height="0.7"/><rect x="185.0" y="90.7" width="0.7" height="0.7"/><rect x="170.0" y="65.7" width="0.7" height="0.7"/><rect x="172.8" y="68.1" width="0.7" height="0.7"/><rect x="166.5" y="65.2" width="0.7" height="0.7"/><rect x="183.5" y="49.9" width="0.7" height="0.7"/></g>
<path d="M173.9,57.9 171.3,64.0 168.7,72.0 169.0,80.0 172.5,88.0 177.0,92.7 182.5,90.0 184.8,84.9 182.5,76.0 180.3,64.3 177.0,58.5 173.9,57.9" fill="none" stroke="#666" stroke-width="0.6" stroke-linejoin="round"/>
<path d="M177.5,76.0 179.0,80.0 181.5,87.5 183.5,89.5 184.0,85.0 182.0,79.0 179.0,76.0 177.5,76.0" fill="none" stroke="#666" stroke-width="0.6" stroke-linejoin="round"/>
<path d="M164.9,59.2 167.5,64.0 170.5,70.0" fill="none" stroke="#666" stroke-width="0.6" stroke-linejoin="round"/>
<path d="M166.2,88.8 169.5,87.0 173.5,89.5 176.5,93.5" fill="none" stroke="#666" stroke-width="0.6" stroke-linejoin="round"/>
<rect x="135.50" y="37.6" width="28.2" height="20.2" fill="none" stroke="#333" stroke-width="0.9"/>
<rect x="163.70" y="38.0" width="28.1" height="71.4" fill="none" stroke="#333" stroke-width="0.9"/>
<line x1="163.70" y1="73.50" x2="191.80" y2="73.50" stroke="#222" stroke-width="1.4"/>
<line x1="163.70" y1="38.00" x2="163.70" y2="109.40" stroke="#333" stroke-width="1.2"/>
<rect x="126.50" y="28.8" width="85.0" height="85.10" fill="none" stroke="#333" stroke-width="1"/>
<text x="149.50" y="37.30" font-size="7" text-anchor="middle">4.57</text>
<text x="193.70" y="60.00" font-size="7">7.62</text>
<text x="193.70" y="96.20" font-size="7">10.3</text>
<line x1="124.50" y1="50.00" x2="126.50" y2="50.00" stroke="#333" stroke-width="0.8"/>
<line x1="124.50" y1="74.40" x2="126.50" y2="74.40" stroke="#333" stroke-width="0.8"/>
<line x1="124.50" y1="93.50" x2="126.50" y2="93.50" stroke="#333" stroke-width="0.8"/>
<line x1="125.30" y1="33.50" x2="126.50" y2="33.50" stroke="#555" stroke-width="0.5"/>
<line x1="125.30" y1="40.50" x2="126.50" y2="40.50" stroke="#555" stroke-width="0.5"/>
<line x1="125.30" y1="44.50" x2="126.50" y2="44.50" stroke="#555" stroke-width="0.5"/>
<line x1="125.30" y1="47.50" x2="126.50" y2="47.50" stroke="#555" stroke-width="0.5"/>
<line x1="125.30" y1="56.50" x2="126.50" y2="56.50" stroke="#555" stroke-width="0.5"/>
<line x1="125.30" y1="60.50" x2="126.50" y2="60.50" stroke="#555" stroke-width="0.5"/>
<line x1="125.30" y1="64.50" x2="126.50" y2="64.50" stroke="#555" stroke-width="0.5"/>
<line x1="125.30" y1="68.50" x2="126.50" y2="68.50" stroke="#555" stroke-width="0.5"/>
<line x1="125.30" y1="80.00" x2="126.50" y2="80.00" stroke="#555" stroke-width="0.5"/>
<line x1="125.30" y1="86.00" x2="126.50" y2="86.00" stroke="#555" stroke-width="0.5"/>
<line x1="125.30" y1="101.00" x2="126.50" y2="101.00" stroke="#555" stroke-width="0.5"/>
<line x1="125.30" y1="107.00" x2="126.50" y2="107.00" stroke="#555" stroke-width="0.5"/>
<text x="121.50" y="52.00" font-size="5.4" text-anchor="end" fill="#333">10<tspan dy="-2.2" font-size="3.6">4</tspan></text>
<text x="121.50" y="76.40" font-size="5.4" text-anchor="end" fill="#333">10<tspan dy="-2.2" font-size="3.6">3</tspan></text>
<text x="120.90" y="95.20" font-size="5.6" text-anchor="end" fill="#333">0</text>
<line x1="136.80" y1="113.90" x2="136.80" y2="115.90" stroke="#333" stroke-width="0.8"/>
<line x1="155.00" y1="113.90" x2="155.00" y2="115.90" stroke="#333" stroke-width="0.8"/>
<line x1="184.40" y1="113.90" x2="184.40" y2="115.90" stroke="#333" stroke-width="0.8"/>
<line x1="165.00" y1="113.90" x2="165.00" y2="115.10" stroke="#555" stroke-width="0.5"/>
<line x1="171.00" y1="113.90" x2="171.00" y2="115.10" stroke="#555" stroke-width="0.5"/>
<line x1="175.00" y1="113.90" x2="175.00" y2="115.10" stroke="#555" stroke-width="0.5"/>
<line x1="178.00" y1="113.90" x2="178.00" y2="115.10" stroke="#555" stroke-width="0.5"/>
<line x1="180.50" y1="113.90" x2="180.50" y2="115.10" stroke="#555" stroke-width="0.5"/>
<line x1="182.50" y1="113.90" x2="182.50" y2="115.10" stroke="#555" stroke-width="0.5"/>
<line x1="189.50" y1="113.90" x2="189.50" y2="115.10" stroke="#555" stroke-width="0.5"/>
<line x1="195.50" y1="113.90" x2="195.50" y2="115.10" stroke="#555" stroke-width="0.5"/>
<line x1="199.50" y1="113.90" x2="199.50" y2="115.10" stroke="#555" stroke-width="0.5"/>
<line x1="202.50" y1="113.90" x2="202.50" y2="115.10" stroke="#555" stroke-width="0.5"/>
<line x1="205.00" y1="113.90" x2="205.00" y2="115.10" stroke="#555" stroke-width="0.5"/>
<line x1="207.00" y1="113.90" x2="207.00" y2="115.10" stroke="#555" stroke-width="0.5"/>
<line x1="209.00" y1="113.90" x2="209.00" y2="115.10" stroke="#555" stroke-width="0.5"/>
<rect x="144.50" y="113.90" width="4" height="1.8" rx="0.8" fill="#111"/>
<rect x="125.20" y="91" width="1.3" height="6" fill="#111"/>
<text x="148.10" y="123.60" font-size="5.6" text-anchor="middle" fill="#333">0</text>
<text x="184.70" y="123.60" font-size="5.4" text-anchor="middle" fill="#333">10<tspan dy="-2.2" font-size="3.6">4</tspan></text>
<text x="271.50" y="24.80" font-size="9" text-anchor="middle" textLength="51.40" lengthAdjust="spacingAndGlyphs">Mild cGVHD</text>
<g transform="rotate(3 256.00 77.50)"><path d="M265.40,77.50 L265.34,83.17 L265.14,87.30 L264.82,90.90 L264.38,94.10 L263.81,96.93 L263.12,99.40 L262.32,101.51 L261.40,103.26 L260.36,104.63 L259.19,105.61 L257.84,106.20 L256.00,106.40 L254.16,106.20 L252.81,105.61 L251.64,104.63 L250.60,103.26 L249.68,101.51 L248.88,99.40 L248.19,96.93 L247.62,94.10 L247.18,90.90 L246.86,87.30 L246.66,83.17 L246.60,77.50 L246.66,71.83 L246.86,67.70 L247.18,64.10 L247.62,60.90 L248.19,58.07 L248.88,55.60 L249.68,53.49 L250.60,51.74 L251.64,50.37 L252.81,49.39 L254.16,48.80 L256.00,48.60 L257.84,48.80 L259.19,49.39 L260.36,50.37 L261.40,51.74 L262.32,53.49 L263.12,55.60 L263.81,58.07 L264.38,60.90 L264.82,64.10 L265.14,67.70 L265.34,71.83 Z" fill="#dcdcdc" stroke="#3a3a3a" stroke-width="0.75"/><path d="M264.36,77.75 L264.30,82.99 L264.13,86.81 L263.84,90.13 L263.44,93.09 L262.92,95.70 L262.30,97.99 L261.58,99.94 L260.75,101.55 L259.81,102.81 L258.75,103.72 L257.54,104.27 L255.88,104.45 L254.21,104.27 L253.00,103.72 L251.94,102.81 L251.00,101.55 L250.17,99.94 L249.45,97.99 L248.83,95.70 L248.31,93.09 L247.91,90.13 L247.62,86.81 L247.45,82.99 L247.39,77.75 L247.45,72.51 L247.62,68.69 L247.91,65.37 L248.31,62.41 L248.83,59.80 L249.45,57.51 L250.17,55.56 L251.00,53.95 L251.94,52.69 L253.00,51.78 L254.21,51.23 L255.87,51.05 L257.54,51.23 L258.75,51.78 L259.81,52.69 L260.75,53.95 L261.58,55.56 L262.30,57.51 L262.92,59.80 L263.44,62.41 L263.84,65.37 L264.13,68.69 L264.30,72.51 Z" fill="#d3d3d3" stroke="#555555" stroke-width="0.3"/><path d="M263.32,78.00 L263.27,82.81 L263.11,86.31 L262.85,89.36 L262.49,92.07 L262.04,94.47 L261.48,96.57 L260.84,98.36 L260.10,99.84 L259.26,101.00 L258.32,101.83 L257.23,102.34 L255.75,102.50 L254.27,102.34 L253.18,101.83 L252.24,101.00 L251.40,99.84 L250.66,98.36 L250.02,96.57 L249.46,94.47 L249.01,92.07 L248.65,89.36 L248.39,86.31 L248.23,82.81 L248.18,78.00 L248.23,73.19 L248.39,69.69 L248.65,66.64 L249.01,63.93 L249.46,61.53 L250.02,59.43 L250.66,57.64 L251.40,56.16 L252.24,55.00 L253.18,54.17 L254.27,53.66 L255.75,53.50 L257.23,53.66 L258.32,54.17 L259.26,55.00 L260.10,56.16 L260.84,57.64 L261.48,59.43 L262.04,61.53 L262.49,63.93 L262.85,66.64 L263.11,69.69 L263.27,73.19 Z" fill="#c6c6c6" stroke="#555555" stroke-width="0.3"/><path d="M262.28,78.25 L262.23,82.63 L262.09,85.82 L261.87,88.59 L261.55,91.06 L261.15,93.25 L260.67,95.16 L260.10,96.79 L259.44,98.13 L258.71,99.19 L257.88,99.95 L256.93,100.40 L255.63,100.56 L254.32,100.40 L253.37,99.95 L252.54,99.19 L251.81,98.13 L251.15,96.79 L250.58,95.16 L250.10,93.25 L249.70,91.06 L249.38,88.59 L249.16,85.82 L249.02,82.63 L248.97,78.25 L249.02,73.87 L249.16,70.68 L249.38,67.91 L249.70,65.44 L250.10,63.25 L250.58,61.34 L251.15,59.71 L251.81,58.37 L252.54,57.31 L253.37,56.55 L254.32,56.10 L255.62,55.94 L256.93,56.10 L257.88,56.55 L258.71,57.31 L259.44,58.37 L260.10,59.71 L260.67,61.34 L261.15,63.25 L261.55,65.44 L261.87,67.91 L262.09,70.68 L262.23,73.87 Z" fill="#b8b8b8" stroke="#555555" stroke-width="0.3"/><path d="M261.23,78.50 L261.19,82.44 L261.08,85.32 L260.88,87.83 L260.61,90.05 L260.26,92.02 L259.85,93.74 L259.35,95.21 L258.79,96.42 L258.16,97.37 L257.44,98.06 L256.62,98.47 L255.50,98.61 L254.38,98.47 L253.56,98.06 L252.84,97.37 L252.21,96.42 L251.65,95.21 L251.15,93.74 L250.74,92.02 L250.39,90.05 L250.12,87.83 L249.92,85.32 L249.81,82.44 L249.77,78.50 L249.81,74.56 L249.92,71.68 L250.12,69.17 L250.39,66.95 L250.74,64.98 L251.15,63.26 L251.65,61.79 L252.21,60.58 L252.84,59.63 L253.56,58.94 L254.38,58.53 L255.50,58.39 L256.62,58.53 L257.44,58.94 L258.16,59.63 L258.79,60.58 L259.35,61.79 L259.85,63.26 L260.26,64.98 L260.61,66.95 L260.88,69.17 L261.08,71.68 L261.19,74.56 Z" fill="#a9a9a9" stroke="#555555" stroke-width="0.3"/><path d="M260.19,78.75 L260.16,82.26 L260.06,84.82 L259.90,87.06 L259.67,89.04 L259.38,90.79 L259.03,92.32 L258.61,93.63 L258.14,94.71 L257.61,95.56 L257.01,96.17 L256.32,96.54 L255.38,96.66 L254.43,96.54 L253.74,96.17 L253.14,95.56 L252.61,94.71 L252.14,93.63 L251.72,92.32 L251.37,90.79 L251.08,89.04 L250.85,87.06 L250.69,84.82 L250.59,82.26 L250.56,78.75 L250.59,75.24 L250.69,72.68 L250.85,70.44 L251.08,68.46 L251.37,66.71 L251.72,65.18 L252.14,63.87 L252.61,62.79 L253.14,61.94 L253.74,61.33 L254.43,60.96 L255.37,60.84 L256.32,60.96 L257.01,61.33 L257.61,61.94 L258.14,62.79 L258.61,63.87 L259.03,65.18 L259.38,66.71 L259.67,68.46 L259.90,70.44 L260.06,72.68 L260.16,75.24 Z" fill="#989898" stroke="#555555" stroke-width="0.3"/><path d="M259.15,79.00 L259.12,82.08 L259.04,84.33 L258.91,86.29 L258.73,88.02 L258.49,89.56 L258.21,90.91 L257.87,92.06 L257.49,93.00 L257.06,93.75 L256.57,94.28 L256.02,94.61 L255.25,94.71 L254.48,94.61 L253.93,94.28 L253.44,93.75 L253.01,93.00 L252.63,92.06 L252.29,90.91 L252.01,89.56 L251.77,88.02 L251.59,86.29 L251.46,84.33 L251.38,82.08 L251.35,79.00 L251.38,75.92 L251.46,73.67 L251.59,71.71 L251.77,69.98 L252.01,68.44 L252.29,67.09 L252.63,65.94 L253.01,65.00 L253.44,64.25 L253.93,63.72 L254.48,63.39 L255.25,63.29 L256.02,63.39 L256.57,63.72 L257.06,64.25 L257.49,65.00 L257.87,65.94 L258.21,67.09 L258.49,68.44 L258.73,69.98 L258.91,71.71 L259.04,73.67 L259.12,75.92 Z" fill="#878787" stroke="#555555" stroke-width="0.3"/><path d="M258.11,79.25 L258.09,81.90 L258.03,83.83 L257.93,85.52 L257.79,87.01 L257.60,88.34 L257.39,89.49 L257.13,90.48 L256.84,91.30 L256.51,91.94 L256.14,92.40 L255.71,92.67 L255.13,92.77 L254.54,92.67 L254.11,92.40 L253.74,91.94 L253.41,91.30 L253.12,90.48 L252.86,89.49 L252.65,88.34 L252.46,87.01 L252.32,85.52 L252.22,83.83 L252.16,81.90 L252.14,79.25 L252.16,76.60 L252.22,74.67 L252.32,72.98 L252.46,71.49 L252.65,70.16 L252.86,69.01 L253.12,68.02 L253.41,67.20 L253.74,66.56 L254.11,66.10 L254.54,65.83 L255.12,65.73 L255.71,65.83 L256.14,66.10 L256.51,66.56 L256.84,67.20 L257.13,68.02 L257.39,69.01 L257.60,70.16 L257.79,71.49 L257.93,72.98 L258.03,74.67 L258.09,76.60 Z" fill="#757575" stroke="#555555" stroke-width="0.3"/><path d="M257.07,79.50 L257.05,81.72 L257.01,83.34 L256.94,84.75 L256.84,86.00 L256.72,87.11 L256.57,88.08 L256.39,88.90 L256.19,89.59 L255.96,90.12 L255.70,90.51 L255.41,90.74 L255.00,90.82 L254.59,90.74 L254.30,90.51 L254.04,90.12 L253.81,89.59 L253.61,88.90 L253.43,88.08 L253.28,87.11 L253.16,86.00 L253.06,84.75 L252.99,83.34 L252.95,81.72 L252.93,79.50 L252.95,77.28 L252.99,75.66 L253.06,74.25 L253.16,73.00 L253.28,71.89 L253.43,70.92 L253.61,70.10 L253.81,69.41 L254.04,68.88 L254.30,68.49 L254.59,68.26 L255.00,68.18 L255.41,68.26 L255.70,68.49 L255.96,68.88 L256.19,69.41 L256.39,70.10 L256.57,70.92 L256.72,71.89 L256.84,73.00 L256.94,74.25 L257.01,75.66 L257.05,77.28 Z" fill="#626262" stroke="#555555" stroke-width="0.3"/><ellipse cx="255.00" cy="80.50" rx="0.9" ry="14.50" fill="#f2f2f2" opacity="0.35"/></g>
<rect x="238.00" y="37.6" width="28.2" height="20.2" fill="#fff" opacity="0.3"/>
<g fill="#b4b4b4"><rect x="260.7" y="97.4" width="0.7" height="0.7"/><rect x="251.5" y="108.2" width="0.7" height="0.7"/><rect x="251.4" y="67.0" width="0.7" height="0.7"/><rect x="249.2" y="54.5" width="0.7" height="0.7"/><rect x="265.5" y="88.6" width="0.7" height="0.7"/><rect x="253.5" y="73.3" width="0.7" height="0.7"/><rect x="259.4" y="70.4" width="0.7" height="0.7"/><rect x="242.0" y="106.1" width="0.7" height="0.7"/><rect x="259.6" y="59.8" width="0.7" height="0.7"/><rect x="265.6" y="108.7" width="0.7" height="0.7"/><rect x="255.3" y="99.2" width="0.7" height="0.7"/><rect x="250.7" y="106.7" width="0.7" height="0.7"/><rect x="255.1" y="111.3" width="0.7" height="0.7"/><rect x="253.5" y="99.6" width="0.7" height="0.7"/><rect x="253.5" y="95.7" width="0.7" height="0.7"/><rect x="242.9" y="93.8" width="0.7" height="0.7"/><rect x="249.3" y="78.3" width="0.7" height="0.7"/><rect x="261.4" y="95.4" width="0.7" height="0.7"/><rect x="246.8" y="79.0" width="0.7" height="0.7"/><rect x="246.7" y="84.0" width="0.7" height="0.7"/><rect x="253.2" y="91.3" width="0.7" height="0.7"/><rect x="261.2" y="64.0" width="0.7" height="0.7"/><rect x="261.1" y="62.1" width="0.7" height="0.7"/><rect x="258.4" y="76.7" width="0.7" height="0.7"/><rect x="258.4" y="96.9" width="0.7" height="0.7"/><rect x="242.4" y="45.6" width="0.7" height="0.7"/><rect x="256.9" y="102.6" width="0.7" height="0.7"/><rect x="258.2" y="66.0" width="0.7" height="0.7"/><rect x="254.7" y="83.6" width="0.7" height="0.7"/><rect x="248.4" y="101.5" width="0.7" height="0.7"/><rect x="254.5" y="87.0" width="0.7" height="0.7"/><rect x="253.7" y="68.4" width="0.7" height="0.7"/><rect x="261.5" y="60.8" width="0.7" height="0.7"/><rect x="255.2" y="106.2" width="0.7" height="0.7"/><rect x="253.5" y="97.8" width="0.7" height="0.7"/><rect x="257.5" y="106.0" width="0.7" height="0.7"/><rect x="251.8" y="102.5" width="0.7" height="0.7"/><rect x="256.2" y="67.3" width="0.7" height="0.7"/><rect x="256.1" y="103.5" width="0.7" height="0.7"/><rect x="258.1" y="60.3" width="0.7" height="0.7"/><rect x="260.8" y="91.4" width="0.7" height="0.7"/></g>
<g fill="#8e8e8e"><rect x="275.2" y="68.7" width="0.7" height="0.7"/><rect x="275.7" y="68.6" width="0.7" height="0.7"/><rect x="267.3" y="58.1" width="0.7" height="0.7"/><rect x="273.9" y="68.6" width="0.7" height="0.7"/><rect x="278.0" y="73.6" width="0.7" height="0.7"/><rect x="271.2" y="75.9" width="0.7" height="0.7"/><rect x="274.6" y="62.4" width="0.7" height="0.7"/><rect x="269.4" y="65.4" width="0.7" height="0.7"/><rect x="274.1" y="47.9" width="0.7" height="0.7"/><rect x="269.8" y="61.5" width="0.7" height="0.7"/><rect x="272.8" y="54.4" width="0.7" height="0.7"/><rect x="273.8" y="68.1" width="0.7" height="0.7"/><rect x="281.9" y="62.0" width="0.7" height="0.7"/><rect x="277.1" y="63.3" width="0.7" height="0.7"/><rect x="268.9" y="55.3" width="0.7" height="0.7"/><rect x="268.8" y="55.3" width="0.7" height="0.7"/><rect x="277.8" y="46.0" width="0.7" height="0.7"/><rect x="278.8" y="60.6" width="0.7" height="0.7"/><rect x="272.4" y="65.0" width="0.7" height="0.7"/><rect x="271.2" y="63.8" width="0.7" height="0.7"/><rect x="281.7" y="57.3" width="0.7" height="0.7"/><rect x="274.7" y="72.7" width="0.7" height="0.7"/><rect x="273.3" y="59.0" width="0.7" height="0.7"/><rect x="276.9" y="51.4" width="0.7" height="0.7"/><rect x="275.1" y="63.0" width="0.7" height="0.7"/><rect x="272.8" y="51.8" width="0.7" height="0.7"/><rect x="280.8" y="62.3" width="0.7" height="0.7"/><rect x="269.9" y="58.3" width="0.7" height="0.7"/><rect x="280.5" y="71.2" width="0.7" height="0.7"/><rect x="279.0" y="56.4" width="0.7" height="0.7"/><rect x="275.1" y="70.6" width="0.7" height="0.7"/><rect x="270.3" y="55.3" width="0.7" height="0.7"/><rect x="275.2" y="57.3" width="0.7" height="0.7"/><rect x="279.9" y="54.5" width="0.7" height="0.7"/><rect x="275.5" y="64.2" width="0.7" height="0.7"/><rect x="274.8" y="55.8" width="0.7" height="0.7"/><rect x="283.4" y="52.5" width="0.7" height="0.7"/><rect x="272.4" y="73.3" width="0.7" height="0.7"/><rect x="275.2" y="70.1" width="0.7" height="0.7"/><rect x="277.3" y="73.6" width="0.7" height="0.7"/><rect x="281.0" y="74.2" width="0.7" height="0.7"/><rect x="271.4" y="66.4" width="0.7" height="0.7"/><rect x="277.3" y="63.2" width="0.7" height="0.7"/><rect x="277.3" y="63.9" width="0.7" height="0.7"/><rect x="281.2" y="60.7" width="0.7" height="0.7"/><rect x="275.8" y="64.2" width="0.7" height="0.7"/><rect x="269.5" y="63.9" width="0.7" height="0.7"/><rect x="272.7" y="58.9" width="0.7" height="0.7"/><rect x="276.5" y="69.9" width="0.7" height="0.7"/><rect x="276.8" y="55.3" width="0.7" height="0.7"/><rect x="272.5" y="70.4" width="0.7" height="0.7"/><rect x="275.1" y="57.5" width="0.7" height="0.7"/><rect x="277.5" y="68.6" width="0.7" height="0.7"/><rect x="272.5" y="65.3" width="0.7" height="0.7"/><rect x="276.4" y="75.6" width="0.7" height="0.7"/><rect x="275.4" y="68.1" width="0.7" height="0.7"/><rect x="278.5" y="59.7" width="0.7" height="0.7"/><rect x="282.9" y="57.2" width="0.7" height="0.7"/><rect x="268.5" y="63.0" width="0.7" height="0.7"/><rect x="278.9" y="62.8" width="0.7" height="0.7"/><rect x="282.3" y="68.0" width="0.7" height="0.7"/><rect x="284.0" y="58.2" width="0.7" height="0.7"/><rect x="273.3" y="63.3" width="0.7" height="0.7"/><rect x="266.9" y="68.0" width="0.7" height="0.7"/><rect x="278.9" y="66.2" width="0.7" height="0.7"/><rect x="276.5" y="63.4" width="0.7" height="0.7"/><rect x="274.8" y="60.3" width="0.7" height="0.7"/><rect x="271.2" y="58.0" width="0.7" height="0.7"/><rect x="271.7" y="78.2" width="0.7" height="0.7"/><rect x="268.0" y="65.2" width="0.7" height="0.7"/><rect x="279.8" y="55.7" width="0.7" height="0.7"/><rect x="277.0" y="66.5" width="0.7" height="0.7"/><rect x="276.0" y="56.7" width="0.7" height="0.7"/><rect x="277.3" y="65.7" width="0.7" height="0.7"/><rect x="272.9" y="69.9" width="0.7" height="0.7"/><rect x="279.8" y="72.8" width="0.7" height="0.7"/><rect x="277.3" y="61.4" width="0.7" height="0.7"/><rect x="270.5" y="61.0" width="0.7" height="0.7"/><rect x="271.5" y="57.7" width="0.7" height="0.7"/><rect x="274.9" y="62.0" width="0.7" height="0.7"/><rect x="278.1" y="62.7" width="0.7" height="0.7"/><rect x="272.9" y="54.1" width="0.7" height="0.7"/><rect x="272.0" y="65.0" width="0.7" height="0.7"/><rect x="281.5" y="49.5" width="0.7" height="0.7"/><rect x="277.1" y="67.0" width="0.7" height="0.7"/><rect x="269.7" y="64.2" width="0.7" height="0.7"/><rect x="281.4" y="67.3" width="0.7" height="0.7"/><rect x="273.2" y="61.5" width="0.7" height="0.7"/><rect x="281.6" y="62.7" width="0.7" height="0.7"/><rect x="269.6" y="64.7" width="0.7" height="0.7"/><rect x="274.7" y="60.6" width="0.7" height="0.7"/><rect x="284.6" y="59.5" width="0.7" height="0.7"/><rect x="268.8" y="62.5" width="0.7" height="0.7"/><rect x="278.6" y="70.1" width="0.7" height="0.7"/><rect x="269.7" y="59.7" width="0.7" height="0.7"/><rect x="272.9" y="59.3" width="0.7" height="0.7"/><rect x="279.6" y="82.2" width="0.7" height="0.7"/><rect x="268.9" y="71.4" width="0.7" height="0.7"/><rect x="275.5" y="59.2" width="0.7" height="0.7"/><rect x="276.7" y="59.9" width="0.7" height="0.7"/><rect x="273.2" y="69.8" width="0.7" height="0.7"/><rect x="278.2" y="69.6" width="0.7" height="0.7"/><rect x="275.8" y="63.5" width="0.7" height="0.7"/><rect x="276.5" y="71.4" width="0.7" height="0.7"/><rect x="268.3" y="74.7" width="0.7" height="0.7"/><rect x="277.6" y="66.6" width="0.7" height="0.7"/><rect x="274.6" y="39.9" width="0.7" height="0.7"/><rect x="279.0" y="67.0" width="0.7" height="0.7"/><rect x="271.7" y="48.9" width="0.7" height="0.7"/><rect x="274.4" y="54.9" width="0.7" height="0.7"/><rect x="276.5" y="52.3" width="0.7" height="0.7"/><rect x="271.6" y="67.1" width="0.7" height="0.7"/><rect x="277.9" y="64.4" width="0.7" height="0.7"/><rect x="278.9" y="75.1" width="0.7" height="0.7"/><rect x="279.1" y="53.1" width="0.7" height="0.7"/><rect x="281.3" y="64.6" width="0.7" height="0.7"/><rect x="271.9" y="66.6" width="0.7" height="0.7"/><rect x="273.5" y="64.3" width="0.7" height="0.7"/><rect x="276.1" y="60.3" width="0.7" height="0.7"/><rect x="275.5" y="79.1" width="0.7" height="0.7"/><rect x="279.1" y="58.1" width="0.7" height="0.7"/><rect x="275.2" y="77.0" width="0.7" height="0.7"/><rect x="280.0" y="64.4" width="0.7" height="0.7"/><rect x="283.7" y="64.8" width="0.7" height="0.7"/><rect x="273.4" y="56.2" width="0.7" height="0.7"/><rect x="276.3" y="62.1" width="0.7" height="0.7"/><rect x="272.6" y="67.5" width="0.7" height="0.7"/><rect x="279.2" y="51.8" width="0.7" height="0.7"/><rect x="282.7" y="82.1" width="0.7" height="0.7"/><rect x="270.3" y="58.2" width="0.7" height="0.7"/><rect x="272.8" y="62.0" width="0.7" height="0.7"/><rect x="279.7" y="64.5" width="0.7" height="0.7"/><rect x="276.1" y="43.2" width="0.7" height="0.7"/><rect x="279.4" y="62.3" width="0.7" height="0.7"/><rect x="270.2" y="60.7" width="0.7" height="0.7"/><rect x="274.0" y="62.4" width="0.7" height="0.7"/><rect x="276.7" y="58.2" width="0.7" height="0.7"/><rect x="279.8" y="55.6" width="0.7" height="0.7"/><rect x="280.8" y="61.6" width="0.7" height="0.7"/><rect x="275.1" y="53.0" width="0.7" height="0.7"/><rect x="280.9" y="67.6" width="0.7" height="0.7"/><rect x="279.3" y="48.8" width="0.7" height="0.7"/><rect x="269.6" y="68.7" width="0.7" height="0.7"/><rect x="275.7" y="59.2" width="0.7" height="0.7"/><rect x="272.9" y="60.6" width="0.7" height="0.7"/><rect x="272.7" y="64.3" width="0.7" height="0.7"/><rect x="275.2" y="74.6" width="0.7" height="0.7"/><rect x="280.1" y="60.5" width="0.7" height="0.7"/><rect x="273.4" y="52.7" width="0.7" height="0.7"/><rect x="281.6" y="57.7" width="0.7" height="0.7"/><rect x="275.1" y="59.2" width="0.7" height="0.7"/><rect x="278.5" y="91.3" width="0.7" height="0.7"/><rect x="271.0" y="93.2" width="0.7" height="0.7"/><rect x="274.2" y="100.1" width="0.7" height="0.7"/><rect x="275.0" y="86.3" width="0.7" height="0.7"/><rect x="276.2" y="87.2" width="0.7" height="0.7"/><rect x="271.1" y="95.4" width="0.7" height="0.7"/><rect x="274.6" y="97.8" width="0.7" height="0.7"/><rect x="271.0" y="93.6" width="0.7" height="0.7"/><rect x="268.9" y="88.1" width="0.7" height="0.7"/><rect x="277.4" y="92.8" width="0.7" height="0.7"/><rect x="278.2" y="92.6" width="0.7" height="0.7"/><rect x="285.0" y="100.1" width="0.7" height="0.7"/><rect x="271.4" y="99.3" width="0.7" height="0.7"/><rect x="273.1" y="94.5" width="0.7" height="0.7"/><rect x="271.5" y="96.4" width="0.7" height="0.7"/><rect x="280.3" y="95.8" width="0.7" height="0.7"/><rect x="281.3" y="95.3" width="0.7" height="0.7"/><rect x="283.9" y="88.7" width="0.7" height="0.7"/><rect x="280.2" y="94.1" width="0.7" height="0.7"/><rect x="275.1" y="97.9" width="0.7" height="0.7"/><rect x="274.1" y="97.2" width="0.7" height="0.7"/><rect x="268.6" y="86.6" width="0.7" height="0.7"/><rect x="275.7" y="96.9" width="0.7" height="0.7"/><rect x="280.0" y="101.3" width="0.7" height="0.7"/><rect x="280.0" y="89.4" width="0.7" height="0.7"/><rect x="274.7" y="91.8" width="0.7" height="0.7"/><rect x="271.5" y="80.7" width="0.7" height="0.7"/><rect x="274.9" y="94.0" width="0.7" height="0.7"/><rect x="278.6" y="96.5" width="0.7" height="0.7"/><rect x="266.9" y="95.4" width="0.7" height="0.7"/><rect x="276.3" y="93.9" width="0.7" height="0.7"/><rect x="267.5" y="99.3" width="0.7" height="0.7"/><rect x="269.7" y="87.7" width="0.7" height="0.7"/><rect x="280.2" y="96.0" width="0.7" height="0.7"/><rect x="278.1" y="100.7" width="0.7" height="0.7"/><rect x="276.4" y="102.7" width="0.7" height="0.7"/><rect x="286.9" y="95.8" width="0.7" height="0.7"/><rect x="273.7" y="95.1" width="0.7" height="0.7"/><rect x="274.7" y="88.5" width="0.7" height="0.7"/><rect x="281.9" y="100.8" width="0.7" height="0.7"/><rect x="270.3" y="96.0" width="0.7" height="0.7"/><rect x="276.0" y="89.7" width="0.7" height="0.7"/><rect x="272.8" y="87.9" width="0.7" height="0.7"/><rect x="281.3" y="96.2" width="0.7" height="0.7"/><rect x="276.4" y="96.4" width="0.7" height="0.7"/><rect x="274.9" y="85.5" width="0.7" height="0.7"/><rect x="278.2" y="90.9" width="0.7" height="0.7"/><rect x="276.1" y="105.9" width="0.7" height="0.7"/><rect x="273.6" y="95.9" width="0.7" height="0.7"/><rect x="275.2" y="96.7" width="0.7" height="0.7"/><rect x="271.6" y="82.7" width="0.7" height="0.7"/><rect x="279.0" y="89.6" width="0.7" height="0.7"/><rect x="274.2" y="100.1" width="0.7" height="0.7"/><rect x="272.7" y="96.8" width="0.7" height="0.7"/><rect x="270.0" y="92.9" width="0.7" height="0.7"/><rect x="272.8" y="94.7" width="0.7" height="0.7"/><rect x="273.0" y="86.8" width="0.7" height="0.7"/><rect x="282.7" y="89.1" width="0.7" height="0.7"/><rect x="277.5" y="98.8" width="0.7" height="0.7"/><rect x="272.0" y="97.5" width="0.7" height="0.7"/><rect x="276.6" y="89.3" width="0.7" height="0.7"/><rect x="271.7" y="92.2" width="0.7" height="0.7"/><rect x="268.3" y="86.2" width="0.7" height="0.7"/><rect x="271.0" y="90.6" width="0.7" height="0.7"/><rect x="270.3" y="93.4" width="0.7" height="0.7"/><rect x="283.1" y="95.7" width="0.7" height="0.7"/><rect x="273.4" y="92.6" width="0.7" height="0.7"/><rect x="291.2" y="102.5" width="0.7" height="0.7"/><rect x="274.0" y="96.6" width="0.7" height="0.7"/><rect x="272.5" y="98.5" width="0.7" height="0.7"/><rect x="271.0" y="96.0" width="0.7" height="0.7"/><rect x="270.3" y="91.1" width="0.7" height="0.7"/><rect x="274.4" y="89.2" width="0.7" height="0.7"/><rect x="273.0" y="97.9" width="0.7" height="0.7"/><rect x="269.6" y="95.3" width="0.7" height="0.7"/><rect x="278.0" y="90.2" width="0.7" height="0.7"/><rect x="274.1" y="101.2" width="0.7" height="0.7"/><rect x="285.0" y="94.1" width="0.7" height="0.7"/><rect x="278.8" y="97.7" width="0.7" height="0.7"/><rect x="272.3" y="99.0" width="0.7" height="0.7"/><rect x="272.9" y="101.5" width="0.7" height="0.7"/><rect x="278.1" y="106.9" width="0.7" height="0.7"/><rect x="268.7" y="97.8" width="0.7" height="0.7"/><rect x="274.2" y="93.9" width="0.7" height="0.7"/><rect x="276.8" y="95.7" width="0.7" height="0.7"/><rect x="273.0" y="90.7" width="0.7" height="0.7"/><rect x="274.3" y="94.4" width="0.7" height="0.7"/><rect x="270.5" y="94.2" width="0.7" height="0.7"/><rect x="276.4" y="92.8" width="0.7" height="0.7"/><rect x="273.3" y="93.3" width="0.7" height="0.7"/><rect x="284.9" y="93.5" width="0.7" height="0.7"/><rect x="280.8" y="95.4" width="0.7" height="0.7"/><rect x="275.3" y="90.2" width="0.7" height="0.7"/><rect x="277.7" y="93.6" width="0.7" height="0.7"/><rect x="278.1" y="92.5" width="0.7" height="0.7"/><rect x="273.1" y="90.3" width="0.7" height="0.7"/><rect x="273.5" y="95.4" width="0.7" height="0.7"/><rect x="270.5" y="85.8" width="0.7" height="0.7"/><rect x="277.9" y="94.1" width="0.7" height="0.7"/><rect x="278.0" y="96.5" width="0.7" height="0.7"/><rect x="277.1" y="91.3" width="0.7" height="0.7"/><rect x="269.6" y="93.7" width="0.7" height="0.7"/><rect x="282.2" y="89.2" width="0.7" height="0.7"/><rect x="266.9" y="95.7" width="0.7" height="0.7"/><rect x="276.4" y="94.4" width="0.7" height="0.7"/><rect x="281.3" y="95.3" width="0.7" height="0.7"/><rect x="272.6" y="92.4" width="0.7" height="0.7"/><rect x="285.4" y="97.2" width="0.7" height="0.7"/><rect x="276.1" y="93.3" width="0.7" height="0.7"/><rect x="267.2" y="96.9" width="0.7" height="0.7"/><rect x="282.7" y="100.4" width="0.7" height="0.7"/><rect x="276.6" y="92.9" width="0.7" height="0.7"/><rect x="267.9" y="83.0" width="0.7" height="0.7"/><rect x="274.8" y="93.8" width="0.7" height="0.7"/><rect x="282.1" y="90.0" width="0.7" height="0.7"/><rect x="276.4" y="73.2" width="0.7" height="0.7"/><rect x="276.1" y="74.3" width="0.7" height="0.7"/><rect x="289.3" y="77.8" width="0.7" height="0.7"/><rect x="277.9" y="80.7" width="0.7" height="0.7"/><rect x="287.3" y="85.4" width="0.7" height="0.7"/><rect x="276.3" y="77.8" width="0.7" height="0.7"/><rect x="284.0" y="78.4" width="0.7" height="0.7"/><rect x="279.3" y="73.6" width="0.7" height="0.7"/><rect x="283.0" y="71.5" width="0.7" height="0.7"/><rect x="272.4" y="84.7" width="0.7" height="0.7"/><rect x="277.2" y="74.5" width="0.7" height="0.7"/><rect x="277.1" y="79.3" width="0.7" height="0.7"/><rect x="275.3" y="75.1" width="0.7" height="0.7"/><rect x="274.8" y="71.5" width="0.7" height="0.7"/><rect x="287.9" y="85.4" width="0.7" height="0.7"/><rect x="285.0" y="87.0" width="0.7" height="0.7"/><rect x="291.1" y="80.0" width="0.7" height="0.7"/><rect x="282.3" y="78.2" width="0.7" height="0.7"/><rect x="274.5" y="77.5" width="0.7" height="0.7"/><rect x="276.8" y="86.1" width="0.7" height="0.7"/><rect x="287.3" y="88.9" width="0.7" height="0.7"/><rect x="285.1" y="71.4" width="0.7" height="0.7"/><rect x="277.4" y="77.6" width="0.7" height="0.7"/><rect x="276.5" y="80.3" width="0.7" height="0.7"/><rect x="289.3" y="80.7" width="0.7" height="0.7"/><rect x="270.0" y="91.9" width="0.7" height="0.7"/><rect x="278.6" y="79.8" width="0.7" height="0.7"/><rect x="282.9" y="75.9" width="0.7" height="0.7"/><rect x="277.4" y="90.0" width="0.7" height="0.7"/><rect x="281.1" y="82.9" width="0.7" height="0.7"/><rect x="283.4" y="86.4" width="0.7" height="0.7"/><rect x="272.7" y="89.8" width="0.7" height="0.7"/><rect x="280.3" y="75.5" width="0.7" height="0.7"/><rect x="279.5" y="81.8" width="0.7" height="0.7"/><rect x="267.1" y="73.5" width="0.7" height="0.7"/><rect x="281.5" y="80.0" width="0.7" height="0.7"/><rect x="275.5" y="84.6" width="0.7" height="0.7"/><rect x="277.8" y="79.8" width="0.7" height="0.7"/><rect x="280.2" y="85.0" width="0.7" height="0.7"/><rect x="273.4" y="102.2" width="0.7" height="0.7"/><rect x="270.6" y="54.1" width="0.7" height="0.7"/><rect x="276.1" y="81.8" width="0.7" height="0.7"/><rect x="290.3" y="54.4" width="0.7" height="0.7"/><rect x="283.6" y="65.6" width="0.7" height="0.7"/><rect x="281.4" y="91.7" width="0.7" height="0.7"/><rect x="279.5" y="69.0" width="0.7" height="0.7"/><rect x="269.7" y="53.2" width="0.7" height="0.7"/><rect x="283.8" y="58.5" width="0.7" height="0.7"/><rect x="283.4" y="87.1" width="0.7" height="0.7"/><rect x="289.1" y="57.0" width="0.7" height="0.7"/><rect x="280.9" y="81.2" width="0.7" height="0.7"/><rect x="282.8" y="67.4" width="0.7" height="0.7"/><rect x="278.5" y="59.4" width="0.7" height="0.7"/><rect x="279.7" y="73.8" width="0.7" height="0.7"/><rect x="285.2" y="55.3" width="0.7" height="0.7"/><rect x="273.2" y="78.4" width="0.7" height="0.7"/><rect x="290.6" y="64.2" width="0.7" height="0.7"/><rect x="278.8" y="80.1" width="0.7" height="0.7"/><rect x="268.2" y="55.3" width="0.7" height="0.7"/><rect x="281.4" y="87.9" width="0.7" height="0.7"/><rect x="280.4" y="41.7" width="0.7" height="0.7"/><rect x="276.6" y="91.3" width="0.7" height="0.7"/><rect x="274.8" y="40.5" width="0.7" height="0.7"/><rect x="276.2" y="99.7" width="0.7" height="0.7"/><rect x="274.7" y="68.8" width="0.7" height="0.7"/><rect x="289.2" y="62.1" width="0.7" height="0.7"/><rect x="282.6" y="58.6" width="0.7" height="0.7"/><rect x="281.1" y="78.4" width="0.7" height="0.7"/><rect x="291.4" y="100.3" width="0.7" height="0.7"/><rect x="288.0" y="83.3" width="0.7" height="0.7"/><rect x="273.2" y="87.6" width="0.7" height="0.7"/><rect x="275.7" y="81.7" width="0.7" height="0.7"/><rect x="273.3" y="101.7" width="0.7" height="0.7"/><rect x="275.6" y="68.5" width="0.7" height="0.7"/><rect x="273.3" y="74.7" width="0.7" height="0.7"/><rect x="276.4" y="67.0" width="0.7" height="0.7"/><rect x="269.5" y="99.9" width="0.7" height="0.7"/><rect x="274.0" y="55.7" width="0.7" height="0.7"/><rect x="278.8" y="69.1" width="0.7" height="0.7"/><rect x="275.6" y="82.6" width="0.7" height="0.7"/><rect x="270.6" y="71.9" width="0.7" height="0.7"/><rect x="289.8" y="71.7" width="0.7" height="0.7"/><rect x="286.0" y="61.0" width="0.7" height="0.7"/><rect x="287.3" y="103.5" width="0.7" height="0.7"/><rect x="282.7" y="79.6" width="0.7" height="0.7"/></g>
<path d="M266.6,83.6 271.7,78.5 278.2,77.2 282.0,80.4 282.0,86.2 278.2,89.4 271.7,88.8 266.6,87.5" fill="none" stroke="#666" stroke-width="0.6" stroke-linejoin="round"/>
<path d="M280.7,74.0 282.5,80.0 283.5,85.0 284.6,90.1" fill="none" stroke="#666" stroke-width="0.6" stroke-linejoin="round"/>
<rect x="238.00" y="37.6" width="28.2" height="20.2" fill="none" stroke="#333" stroke-width="0.9"/>
<rect x="266.20" y="38.0" width="28.1" height="71.4" fill="none" stroke="#333" stroke-width="0.9"/>
<line x1="266.20" y1="73.50" x2="294.30" y2="73.50" stroke="#222" stroke-width="1.4"/>
<line x1="266.20" y1="38.00" x2="266.20" y2="109.40" stroke="#333" stroke-width="1.2"/>
<rect x="229.00" y="28.8" width="85.0" height="85.10" fill="none" stroke="#333" stroke-width="1"/>
<text x="252.00" y="37.30" font-size="7" text-anchor="middle">3.23</text>
<text x="296.20" y="59.30" font-size="7">3.95</text>
<text x="296.20" y="96.80" font-size="7">8.20</text>
<line x1="227.00" y1="50.00" x2="229.00" y2="50.00" stroke="#333" stroke-width="0.8"/>
<line x1="227.00" y1="74.40" x2="229.00" y2="74.40" stroke="#333" stroke-width="0.8"/>
<line x1="227.00" y1="93.50" x2="229.00" y2="93.50" stroke="#333" stroke-width="0.8"/>
<line x1="227.80" y1="33.50" x2="229.00" y2="33.50" stroke="#555" stroke-width="0.5"/>
<line x1="227.80" y1="40.50" x2="229.00" y2="40.50" stroke="#555" stroke-width="0.5"/>
<line x1="227.80" y1="44.50" x2="229.00" y2="44.50" stroke="#555" stroke-width="0.5"/>
<line x1="227.80" y1="47.50" x2="229.00" y2="47.50" stroke="#555" stroke-width="0.5"/>
<line x1="227.80" y1="56.50" x2="229.00" y2="56.50" stroke="#555" stroke-width="0.5"/>
<line x1="227.80" y1="60.50" x2="229.00" y2="60.50" stroke="#555" stroke-width="0.5"/>
<line x1="227.80" y1="64.50" x2="229.00" y2="64.50" stroke="#555" stroke-width="0.5"/>
<line x1="227.80" y1="68.50" x2="229.00" y2="68.50" stroke="#555" stroke-width="0.5"/>
<line x1="227.80" y1="80.00" x2="229.00" y2="80.00" stroke="#555" stroke-width="0.5"/>
<line x1="227.80" y1="86.00" x2="229.00" y2="86.00" stroke="#555" stroke-width="0.5"/>
<line x1="227.80" y1="101.00" x2="229.00" y2="101.00" stroke="#555" stroke-width="0.5"/>
<line x1="227.80" y1="107.00" x2="229.00" y2="107.00" stroke="#555" stroke-width="0.5"/>
<text x="224.00" y="52.00" font-size="5.4" text-anchor="end" fill="#333">10<tspan dy="-2.2" font-size="3.6">4</tspan></text>
<text x="224.00" y="76.40" font-size="5.4" text-anchor="end" fill="#333">10<tspan dy="-2.2" font-size="3.6">3</tspan></text>
<text x="223.40" y="95.20" font-size="5.6" text-anchor="end" fill="#333">0</text>
<line x1="239.30" y1="113.90" x2="239.30" y2="115.90" stroke="#333" stroke-width="0.8"/>
<line x1="257.50" y1="113.90" x2="257.50" y2="115.90" stroke="#333" stroke-width="0.8"/>
<line x1="286.90" y1="113.90" x2="286.90" y2="115.90" stroke="#333" stroke-width="0.8"/>
<line x1="267.50" y1="113.90" x2="267.50" y2="115.10" stroke="#555" stroke-width="0.5"/>
<line x1="273.50" y1="113.90" x2="273.50" y2="115.10" stroke="#555" stroke-width="0.5"/>
<line x1="277.50" y1="113.90" x2="277.50" y2="115.10" stroke="#555" stroke-width="0.5"/>
<line x1="280.50" y1="113.90" x2="280.50" y2="115.10" stroke="#555" stroke-width="0.5"/>
<line x1="283.00" y1="113.90" x2="283.00" y2="115.10" stroke="#555" stroke-width="0.5"/>
<line x1="285.00" y1="113.90" x2="285.00" y2="115.10" stroke="#555" stroke-width="0.5"/>
<line x1="292.00" y1="113.90" x2="292.00" y2="115.10" stroke="#555" stroke-width="0.5"/>
<line x1="298.00" y1="113.90" x2="298.00" y2="115.10" stroke="#555" stroke-width="0.5"/>
<line x1="302.00" y1="113.90" x2="302.00" y2="115.10" stroke="#555" stroke-width="0.5"/>
<line x1="305.00" y1="113.90" x2="305.00" y2="115.10" stroke="#555" stroke-width="0.5"/>
<line x1="307.50" y1="113.90" x2="307.50" y2="115.10" stroke="#555" stroke-width="0.5"/>
<line x1="309.50" y1="113.90" x2="309.50" y2="115.10" stroke="#555" stroke-width="0.5"/>
<line x1="311.50" y1="113.90" x2="311.50" y2="115.10" stroke="#555" stroke-width="0.5"/>
<rect x="247.00" y="113.90" width="4" height="1.8" rx="0.8" fill="#111"/>
<rect x="227.70" y="91" width="1.3" height="6" fill="#111"/>
<text x="250.60" y="123.60" font-size="5.6" text-anchor="middle" fill="#333">0</text>
<text x="287.20" y="123.60" font-size="5.4" text-anchor="middle" fill="#333">10<tspan dy="-2.2" font-size="3.6">4</tspan></text>
<text x="374.30" y="24.80" font-size="9" text-anchor="middle" textLength="75.40" lengthAdjust="spacingAndGlyphs">Moderate cGVHD</text>
<g transform="rotate(1 357.10 76.45)"><path d="M367.40,76.45 L367.34,83.80 L367.16,88.24 L366.85,91.89 L366.43,95.02 L365.88,97.72 L365.21,100.03 L364.41,101.98 L363.49,103.57 L362.41,104.81 L361.16,105.69 L359.63,106.22 L357.10,106.40 L354.57,106.22 L353.04,105.69 L351.79,104.81 L350.71,103.57 L349.79,101.98 L348.99,100.03 L348.32,97.72 L347.77,95.02 L347.35,91.89 L347.04,88.24 L346.86,83.80 L346.80,76.45 L346.86,69.10 L347.04,64.66 L347.35,61.01 L347.77,57.88 L348.32,55.18 L348.99,52.87 L349.79,50.92 L350.71,49.33 L351.79,48.09 L353.04,47.21 L354.57,46.68 L357.10,46.50 L359.63,46.68 L361.16,47.21 L362.41,48.09 L363.49,49.33 L364.41,50.92 L365.21,52.87 L365.88,55.18 L366.43,57.88 L366.85,61.01 L367.16,64.66 L367.34,69.10 Z" fill="#ebebeb" stroke="#9a9a9a" stroke-width="0.75"/><path d="M366.25,75.58 L366.19,82.37 L366.03,86.47 L365.75,89.84 L365.37,92.73 L364.87,95.23 L364.27,97.36 L363.55,99.16 L362.71,100.63 L361.74,101.78 L360.61,102.59 L359.23,103.08 L356.95,103.25 L354.67,103.08 L353.29,102.59 L352.16,101.78 L351.19,100.63 L350.35,99.16 L349.63,97.36 L349.03,95.23 L348.53,92.73 L348.15,89.84 L347.87,86.47 L347.71,82.37 L347.65,75.58 L347.71,68.78 L347.87,64.68 L348.15,61.31 L348.53,58.42 L349.03,55.92 L349.63,53.79 L350.35,51.99 L351.19,50.52 L352.16,49.37 L353.29,48.56 L354.67,48.07 L356.95,47.90 L359.23,48.07 L360.61,48.56 L361.74,49.37 L362.71,50.52 L363.55,51.99 L364.27,53.79 L364.87,55.92 L365.37,58.42 L365.75,61.31 L366.03,64.68 L366.19,68.78 Z" fill="#e1e1e1" stroke="#8a8a8a" stroke-width="0.22"/><path d="M365.09,74.70 L365.04,80.94 L364.90,84.70 L364.65,87.79 L364.31,90.44 L363.87,92.73 L363.33,94.70 L362.69,96.35 L361.94,97.70 L361.08,98.75 L360.06,99.49 L358.84,99.94 L356.80,100.09 L354.76,99.94 L353.54,99.49 L352.52,98.75 L351.66,97.70 L350.91,96.35 L350.27,94.70 L349.73,92.73 L349.29,90.44 L348.95,87.79 L348.70,84.70 L348.56,80.94 L348.51,74.70 L348.56,68.46 L348.70,64.70 L348.95,61.61 L349.29,58.96 L349.73,56.67 L350.27,54.70 L350.91,53.05 L351.66,51.70 L352.52,50.65 L353.54,49.91 L354.76,49.46 L356.80,49.31 L358.84,49.46 L360.06,49.91 L361.08,50.65 L361.94,51.70 L362.69,53.05 L363.33,54.70 L363.87,56.67 L364.31,58.96 L364.65,61.61 L364.90,64.70 L365.04,68.46 Z" fill="#d4d4d4" stroke="#8a8a8a" stroke-width="0.22"/><path d="M363.94,73.83 L363.89,79.50 L363.77,82.93 L363.55,85.74 L363.25,88.16 L362.86,90.24 L362.39,92.03 L361.82,93.53 L361.17,94.76 L360.41,95.71 L359.52,96.40 L358.44,96.81 L356.65,96.94 L354.86,96.81 L353.78,96.40 L352.89,95.71 L352.13,94.76 L351.48,93.53 L350.91,92.03 L350.44,90.24 L350.05,88.16 L349.75,85.74 L349.53,82.93 L349.41,79.50 L349.36,73.83 L349.41,68.15 L349.53,64.72 L349.75,61.91 L350.05,59.49 L350.44,57.41 L350.91,55.62 L351.48,54.12 L352.13,52.89 L352.89,51.94 L353.78,51.25 L354.86,50.84 L356.65,50.71 L358.44,50.84 L359.52,51.25 L360.41,51.94 L361.17,52.89 L361.82,54.12 L362.39,55.62 L362.86,57.41 L363.25,59.49 L363.55,61.91 L363.77,64.72 L363.89,68.15 Z" fill="#c5c5c5" stroke="#8a8a8a" stroke-width="0.22"/><path d="M362.78,72.95 L362.75,78.07 L362.63,81.15 L362.45,83.69 L362.19,85.87 L361.86,87.75 L361.45,89.36 L360.96,90.71 L360.40,91.82 L359.74,92.68 L358.97,93.30 L358.04,93.67 L356.50,93.79 L354.96,93.67 L354.03,93.30 L353.26,92.68 L352.60,91.82 L352.04,90.71 L351.55,89.36 L351.14,87.75 L350.81,85.87 L350.55,83.69 L350.37,81.15 L350.25,78.07 L350.22,72.95 L350.25,67.83 L350.37,64.75 L350.55,62.21 L350.81,60.03 L351.14,58.15 L351.55,56.54 L352.04,55.19 L352.60,54.08 L353.26,53.22 L354.03,52.60 L354.96,52.23 L356.50,52.11 L358.04,52.23 L358.97,52.60 L359.74,53.22 L360.40,54.08 L360.96,55.19 L361.45,56.54 L361.86,58.15 L362.19,60.03 L362.45,62.21 L362.63,64.75 L362.75,67.83 Z" fill="#b5b5b5" stroke="#8a8a8a" stroke-width="0.22"/><path d="M361.63,72.08 L361.60,76.63 L361.50,79.38 L361.35,81.65 L361.13,83.58 L360.85,85.26 L360.51,86.69 L360.10,87.90 L359.62,88.88 L359.07,89.65 L358.43,90.20 L357.65,90.53 L356.35,90.64 L355.05,90.53 L354.27,90.20 L353.63,89.65 L353.08,88.88 L352.60,87.90 L352.19,86.69 L351.85,85.26 L351.57,83.58 L351.35,81.65 L351.20,79.38 L351.10,76.63 L351.07,72.08 L351.10,67.52 L351.20,64.77 L351.35,62.50 L351.57,60.57 L351.85,58.89 L352.19,57.46 L352.60,56.25 L353.08,55.27 L353.63,54.50 L354.27,53.95 L355.05,53.62 L356.35,53.51 L357.65,53.62 L358.43,53.95 L359.07,54.50 L359.62,55.27 L360.10,56.25 L360.51,57.46 L360.85,58.89 L361.13,60.57 L361.35,62.50 L361.50,64.77 L361.60,67.52 Z" fill="#a3a3a3" stroke="#8a8a8a" stroke-width="0.22"/><path d="M360.47,71.20 L360.45,75.20 L360.37,77.61 L360.25,79.60 L360.07,81.30 L359.84,82.76 L359.57,84.02 L359.24,85.08 L358.85,85.95 L358.40,86.62 L357.88,87.10 L357.25,87.39 L356.20,87.48 L355.15,87.39 L354.52,87.10 L354.00,86.62 L353.55,85.95 L353.16,85.08 L352.83,84.02 L352.56,82.76 L352.33,81.30 L352.15,79.60 L352.03,77.61 L351.95,75.20 L351.93,71.20 L351.95,67.20 L352.03,64.79 L352.15,62.80 L352.33,61.10 L352.56,59.64 L352.83,58.38 L353.16,57.32 L353.55,56.45 L354.00,55.78 L354.52,55.30 L355.15,55.01 L356.20,54.92 L357.25,55.01 L357.88,55.30 L358.40,55.78 L358.85,56.45 L359.24,57.32 L359.57,58.38 L359.84,59.64 L360.07,61.10 L360.25,62.80 L360.37,64.79 L360.45,67.20 Z" fill="#919191" stroke="#8a8a8a" stroke-width="0.22"/><path d="M359.32,70.33 L359.30,73.76 L359.24,75.84 L359.15,77.55 L359.01,79.01 L358.84,80.27 L358.63,81.35 L358.37,82.26 L358.08,83.01 L357.74,83.59 L357.34,84.00 L356.85,84.25 L356.05,84.33 L355.25,84.25 L354.76,84.00 L354.36,83.59 L354.02,83.01 L353.73,82.26 L353.47,81.35 L353.26,80.27 L353.09,79.01 L352.95,77.55 L352.86,75.84 L352.80,73.76 L352.78,70.33 L352.80,66.89 L352.86,64.81 L352.95,63.10 L353.09,61.64 L353.26,60.38 L353.47,59.30 L353.73,58.39 L354.02,57.64 L354.36,57.06 L354.76,56.65 L355.25,56.40 L356.05,56.32 L356.85,56.40 L357.34,56.65 L357.74,57.06 L358.08,57.64 L358.37,58.39 L358.63,59.30 L358.84,60.38 L359.01,61.64 L359.15,63.10 L359.24,64.81 L359.30,66.89 Z" fill="#7e7e7e" stroke="#8a8a8a" stroke-width="0.22"/><path d="M358.17,69.45 L358.15,72.33 L358.11,74.07 L358.05,75.50 L357.95,76.72 L357.83,77.78 L357.68,78.68 L357.51,79.45 L357.30,80.07 L357.07,80.56 L356.79,80.90 L356.46,81.11 L355.90,81.18 L355.34,81.11 L355.01,80.90 L354.73,80.56 L354.50,80.07 L354.29,79.45 L354.12,78.68 L353.97,77.78 L353.85,76.72 L353.75,75.50 L353.69,74.07 L353.65,72.33 L353.63,69.45 L353.65,66.57 L353.69,64.83 L353.75,63.40 L353.85,62.18 L353.97,61.12 L354.12,60.22 L354.29,59.45 L354.50,58.83 L354.73,58.34 L355.01,58.00 L355.34,57.79 L355.90,57.72 L356.46,57.79 L356.79,58.00 L357.07,58.34 L357.30,58.83 L357.51,59.45 L357.68,60.22 L357.83,61.12 L357.95,62.18 L358.05,63.40 L358.11,64.83 L358.15,66.57 Z" fill="#6a6a6a" stroke="#8a8a8a" stroke-width="0.22"/><ellipse cx="356.10" cy="73.00" rx="0.9" ry="11.00" fill="#f2f2f2" opacity="0.9"/></g>
<rect x="340.80" y="37.6" width="28.2" height="20.2" fill="#fff" opacity="0.2"/>
<g fill="#b4b4b4"><rect x="365.9" y="103.2" width="0.7" height="0.7"/><rect x="366.5" y="69.0" width="0.7" height="0.7"/><rect x="356.3" y="48.1" width="0.7" height="0.7"/><rect x="361.7" y="57.3" width="0.7" height="0.7"/><rect x="361.2" y="55.6" width="0.7" height="0.7"/><rect x="350.3" y="64.7" width="0.7" height="0.7"/><rect x="364.0" y="85.7" width="0.7" height="0.7"/><rect x="356.6" y="90.1" width="0.7" height="0.7"/><rect x="355.7" y="92.3" width="0.7" height="0.7"/><rect x="355.2" y="98.6" width="0.7" height="0.7"/><rect x="351.0" y="92.3" width="0.7" height="0.7"/><rect x="359.2" y="110.7" width="0.7" height="0.7"/><rect x="361.5" y="94.8" width="0.7" height="0.7"/><rect x="355.4" y="76.3" width="0.7" height="0.7"/><rect x="355.6" y="104.6" width="0.7" height="0.7"/><rect x="359.6" y="70.5" width="0.7" height="0.7"/><rect x="354.8" y="107.7" width="0.7" height="0.7"/><rect x="357.8" y="85.8" width="0.7" height="0.7"/><rect x="364.6" y="66.8" width="0.7" height="0.7"/><rect x="358.1" y="83.7" width="0.7" height="0.7"/><rect x="352.8" y="80.5" width="0.7" height="0.7"/><rect x="359.2" y="101.2" width="0.7" height="0.7"/><rect x="360.2" y="52.9" width="0.7" height="0.7"/><rect x="365.1" y="93.0" width="0.7" height="0.7"/><rect x="346.0" y="51.9" width="0.7" height="0.7"/><rect x="347.4" y="59.9" width="0.7" height="0.7"/><rect x="364.1" y="52.2" width="0.7" height="0.7"/><rect x="356.6" y="70.2" width="0.7" height="0.7"/><rect x="349.5" y="96.4" width="0.7" height="0.7"/><rect x="356.2" y="62.6" width="0.7" height="0.7"/><rect x="349.1" y="69.2" width="0.7" height="0.7"/><rect x="353.7" y="54.4" width="0.7" height="0.7"/><rect x="360.0" y="81.1" width="0.7" height="0.7"/><rect x="366.2" y="70.3" width="0.7" height="0.7"/><rect x="355.4" y="44.6" width="0.7" height="0.7"/><rect x="362.5" y="62.8" width="0.7" height="0.7"/><rect x="354.2" y="92.0" width="0.7" height="0.7"/><rect x="359.6" y="47.4" width="0.7" height="0.7"/><rect x="354.8" y="57.4" width="0.7" height="0.7"/><rect x="365.5" y="49.6" width="0.7" height="0.7"/></g>
<g fill="#8e8e8e"><rect x="394.3" y="64.6" width="0.7" height="0.7"/><rect x="369.8" y="74.0" width="0.7" height="0.7"/><rect x="375.4" y="76.9" width="0.7" height="0.7"/><rect x="379.2" y="75.3" width="0.7" height="0.7"/><rect x="386.3" y="102.5" width="0.7" height="0.7"/><rect x="372.6" y="63.1" width="0.7" height="0.7"/><rect x="387.5" y="72.2" width="0.7" height="0.7"/><rect x="387.0" y="62.6" width="0.7" height="0.7"/><rect x="372.2" y="53.1" width="0.7" height="0.7"/><rect x="392.3" y="91.2" width="0.7" height="0.7"/><rect x="388.2" y="75.4" width="0.7" height="0.7"/><rect x="378.9" y="58.4" width="0.7" height="0.7"/><rect x="389.5" y="87.6" width="0.7" height="0.7"/><rect x="381.1" y="68.4" width="0.7" height="0.7"/><rect x="375.8" y="46.4" width="0.7" height="0.7"/><rect x="394.8" y="70.1" width="0.7" height="0.7"/><rect x="394.5" y="70.2" width="0.7" height="0.7"/><rect x="374.2" y="57.4" width="0.7" height="0.7"/></g>
<rect x="340.80" y="37.6" width="28.2" height="20.2" fill="none" stroke="#333" stroke-width="0.9"/>
<rect x="369.00" y="38.0" width="28.1" height="71.4" fill="none" stroke="#333" stroke-width="0.9"/>
<line x1="369.00" y1="73.50" x2="397.10" y2="73.50" stroke="#222" stroke-width="1.4"/>
<line x1="369.00" y1="38.00" x2="369.00" y2="109.40" stroke="#333" stroke-width="1.2"/>
<rect x="331.80" y="28.8" width="85.0" height="85.10" fill="none" stroke="#333" stroke-width="1"/>
<text x="354.80" y="37.30" font-size="7" text-anchor="middle">7.38</text>
<text x="399.00" y="60.80" font-size="7">0.95</text>
<text x="399.00" y="96.80" font-size="7">1.78</text>
<line x1="329.80" y1="50.00" x2="331.80" y2="50.00" stroke="#333" stroke-width="0.8"/>
<line x1="329.80" y1="74.40" x2="331.80" y2="74.40" stroke="#333" stroke-width="0.8"/>
<line x1="329.80" y1="93.50" x2="331.80" y2="93.50" stroke="#333" stroke-width="0.8"/>
<line x1="330.60" y1="33.50" x2="331.80" y2="33.50" stroke="#555" stroke-width="0.5"/>
<line x1="330.60" y1="40.50" x2="331.80" y2="40.50" stroke="#555" stroke-width="0.5"/>
<line x1="330.60" y1="44.50" x2="331.80" y2="44.50" stroke="#555" stroke-width="0.5"/>
<line x1="330.60" y1="47.50" x2="331.80" y2="47.50" stroke="#555" stroke-width="0.5"/>
<line x1="330.60" y1="56.50" x2="331.80" y2="56.50" stroke="#555" stroke-width="0.5"/>
<line x1="330.60" y1="60.50" x2="331.80" y2="60.50" stroke="#555" stroke-width="0.5"/>
<line x1="330.60" y1="64.50" x2="331.80" y2="64.50" stroke="#555" stroke-width="0.5"/>
<line x1="330.60" y1="68.50" x2="331.80" y2="68.50" stroke="#555" stroke-width="0.5"/>
<line x1="330.60" y1="80.00" x2="331.80" y2="80.00" stroke="#555" stroke-width="0.5"/>
<line x1="330.60" y1="86.00" x2="331.80" y2="86.00" stroke="#555" stroke-width="0.5"/>
<line x1="330.60" y1="101.00" x2="331.80" y2="101.00" stroke="#555" stroke-width="0.5"/>
<line x1="330.60" y1="107.00" x2="331.80" y2="107.00" stroke="#555" stroke-width="0.5"/>
<text x="326.80" y="52.00" font-size="5.4" text-anchor="end" fill="#333">10<tspan dy="-2.2" font-size="3.6">4</tspan></text>
<text x="326.80" y="76.40" font-size="5.4" text-anchor="end" fill="#333">10<tspan dy="-2.2" font-size="3.6">3</tspan></text>
<text x="326.20" y="95.20" font-size="5.6" text-anchor="end" fill="#333">0</text>
<line x1="342.10" y1="113.90" x2="342.10" y2="115.90" stroke="#333" stroke-width="0.8"/>
<line x1="360.30" y1="113.90" x2="360.30" y2="115.90" stroke="#333" stroke-width="0.8"/>
<line x1="389.70" y1="113.90" x2="389.70" y2="115.90" stroke="#333" stroke-width="0.8"/>
<line x1="370.30" y1="113.90" x2="370.30" y2="115.10" stroke="#555" stroke-width="0.5"/>
<line x1="376.30" y1="113.90" x2="376.30" y2="115.10" stroke="#555" stroke-width="0.5"/>
<line x1="380.30" y1="113.90" x2="380.30" y2="115.10" stroke="#555" stroke-width="0.5"/>
<line x1="383.30" y1="113.90" x2="383.30" y2="115.10" stroke="#555" stroke-width="0.5"/>
<line x1="385.80" y1="113.90" x2="385.80" y2="115.10" stroke="#555" stroke-width="0.5"/>
<line x1="387.80" y1="113.90" x2="387.80" y2="115.10" stroke="#555" stroke-width="0.5"/>
<line x1="394.80" y1="113.90" x2="394.80" y2="115.10" stroke="#555" stroke-width="0.5"/>
<line x1="400.80" y1="113.90" x2="400.80" y2="115.10" stroke="#555" stroke-width="0.5"/>
<line x1="404.80" y1="113.90" x2="404.80" y2="115.10" stroke="#555" stroke-width="0.5"/>
<line x1="407.80" y1="113.90" x2="407.80" y2="115.10" stroke="#555" stroke-width="0.5"/>
<line x1="410.30" y1="113.90" x2="410.30" y2="115.10" stroke="#555" stroke-width="0.5"/>
<line x1="412.30" y1="113.90" x2="412.30" y2="115.10" stroke="#555" stroke-width="0.5"/>
<line x1="414.30" y1="113.90" x2="414.30" y2="115.10" stroke="#555" stroke-width="0.5"/>
<rect x="349.80" y="113.90" width="4" height="1.8" rx="0.8" fill="#111"/>
<rect x="330.50" y="91" width="1.3" height="6" fill="#111"/>
<text x="353.40" y="123.60" font-size="5.6" text-anchor="middle" fill="#333">0</text>
<text x="390.00" y="123.60" font-size="5.4" text-anchor="middle" fill="#333">10<tspan dy="-2.2" font-size="3.6">4</tspan></text>
<text x="477.10" y="24.80" font-size="9" text-anchor="middle" textLength="62.10" lengthAdjust="spacingAndGlyphs">Severe cGVHD</text>
<g transform="rotate(1 456.00 72.55)"><path d="M465.40,72.55 L465.34,80.35 L465.18,85.05 L464.90,88.92 L464.51,92.24 L464.01,95.10 L463.40,97.55 L462.68,99.62 L461.83,101.30 L460.85,102.61 L459.70,103.55 L458.31,104.11 L456.00,104.30 L453.69,104.11 L452.30,103.55 L451.15,102.61 L450.17,101.30 L449.32,99.62 L448.60,97.55 L447.99,95.10 L447.49,92.24 L447.10,88.92 L446.82,85.05 L446.66,80.35 L446.60,72.55 L446.66,64.75 L446.82,60.05 L447.10,56.18 L447.49,52.86 L447.99,50.00 L448.60,47.55 L449.32,45.48 L450.17,43.80 L451.15,42.49 L452.30,41.55 L453.69,40.99 L456.00,40.80 L458.31,40.99 L459.70,41.55 L460.85,42.49 L461.83,43.80 L462.68,45.48 L463.40,47.55 L464.01,50.00 L464.51,52.86 L464.90,56.18 L465.18,60.05 L465.34,64.75 Z" fill="#d4d4d4" stroke="#8a8a8a" stroke-width="0.75"/><path d="M464.38,71.92 L464.33,79.13 L464.18,83.47 L463.93,87.05 L463.58,90.11 L463.13,92.76 L462.58,95.02 L461.92,96.93 L461.16,98.49 L460.27,99.70 L459.24,100.57 L457.98,101.09 L455.90,101.26 L453.82,101.09 L452.56,100.57 L451.53,99.70 L450.64,98.49 L449.88,96.93 L449.22,95.02 L448.67,92.76 L448.22,90.11 L447.87,87.05 L447.62,83.47 L447.47,79.13 L447.42,71.93 L447.47,64.72 L447.62,60.38 L447.87,56.80 L448.22,53.74 L448.67,51.09 L449.22,48.83 L449.88,46.92 L450.64,45.36 L451.53,44.15 L452.56,43.28 L453.82,42.76 L455.90,42.59 L457.98,42.76 L459.24,43.28 L460.27,44.15 L461.16,45.36 L461.92,46.92 L462.58,48.83 L463.13,51.09 L463.58,53.74 L463.93,56.80 L464.18,60.38 L464.33,64.72 Z" fill="#cbcbcb" stroke="#6e6e6e" stroke-width="0.22"/><path d="M463.37,71.30 L463.32,77.91 L463.19,81.90 L462.96,85.18 L462.65,87.99 L462.25,90.42 L461.76,92.50 L461.17,94.25 L460.49,95.68 L459.70,96.79 L458.78,97.58 L457.66,98.06 L455.80,98.22 L453.94,98.06 L452.82,97.58 L451.90,96.79 L451.11,95.68 L450.43,94.25 L449.84,92.50 L449.35,90.42 L448.95,87.99 L448.64,85.18 L448.41,81.90 L448.28,77.91 L448.23,71.30 L448.28,64.69 L448.41,60.70 L448.64,57.42 L448.95,54.61 L449.35,52.18 L449.84,50.10 L450.43,48.35 L451.11,46.92 L451.90,45.81 L452.82,45.02 L453.94,44.54 L455.80,44.38 L457.66,44.54 L458.78,45.02 L459.70,45.81 L460.49,46.92 L461.17,48.35 L461.76,50.10 L462.25,52.18 L462.65,54.61 L462.96,57.42 L463.19,60.70 L463.32,64.69 Z" fill="#bebebe" stroke="#6e6e6e" stroke-width="0.22"/><path d="M462.35,70.67 L462.31,76.69 L462.19,80.32 L462.00,83.31 L461.72,85.87 L461.37,88.08 L460.94,89.97 L460.42,91.57 L459.82,92.87 L459.13,93.88 L458.32,94.60 L457.33,95.04 L455.70,95.18 L454.07,95.04 L453.08,94.60 L452.27,93.88 L451.58,92.87 L450.98,91.57 L450.46,89.97 L450.03,88.08 L449.68,85.87 L449.40,83.31 L449.21,80.32 L449.09,76.69 L449.05,70.68 L449.09,64.66 L449.21,61.03 L449.40,58.04 L449.68,55.48 L450.03,53.27 L450.46,51.38 L450.98,49.78 L451.58,48.48 L452.27,47.47 L453.08,46.75 L454.07,46.31 L455.70,46.17 L457.33,46.31 L458.32,46.75 L459.13,47.47 L459.82,48.48 L460.42,49.78 L460.94,51.38 L461.37,53.27 L461.72,55.48 L462.00,58.04 L462.19,61.03 L462.31,64.66 Z" fill="#afafaf" stroke="#6e6e6e" stroke-width="0.22"/><path d="M461.33,70.05 L461.30,75.47 L461.20,78.75 L461.03,81.44 L460.79,83.75 L460.49,85.74 L460.11,87.45 L459.67,88.88 L459.16,90.06 L458.56,90.97 L457.86,91.62 L457.01,92.01 L455.60,92.14 L454.19,92.01 L453.34,91.62 L452.64,90.97 L452.04,90.06 L451.53,88.88 L451.09,87.45 L450.71,85.74 L450.41,83.75 L450.17,81.44 L450.00,78.75 L449.90,75.47 L449.87,70.05 L449.90,64.63 L450.00,61.35 L450.17,58.66 L450.41,56.35 L450.71,54.36 L451.09,52.65 L451.53,51.22 L452.04,50.04 L452.64,49.13 L453.34,48.48 L454.19,48.09 L455.60,47.96 L457.01,48.09 L457.86,48.48 L458.56,49.13 L459.16,50.04 L459.67,51.22 L460.11,52.65 L460.49,54.36 L460.79,56.35 L461.03,58.66 L461.20,61.35 L461.30,64.63 Z" fill="#9f9f9f" stroke="#6e6e6e" stroke-width="0.22"/><path d="M460.32,69.42 L460.29,74.26 L460.20,77.17 L460.06,79.57 L459.86,81.62 L459.61,83.40 L459.29,84.92 L458.92,86.20 L458.49,87.24 L457.98,88.06 L457.40,88.64 L456.68,88.99 L455.50,89.10 L454.32,88.99 L453.60,88.64 L453.02,88.06 L452.51,87.24 L452.08,86.20 L451.71,84.92 L451.39,83.40 L451.14,81.62 L450.94,79.57 L450.80,77.17 L450.71,74.26 L450.68,69.43 L450.71,64.59 L450.80,61.68 L450.94,59.28 L451.14,57.23 L451.39,55.45 L451.71,53.93 L452.08,52.65 L452.51,51.61 L453.02,50.79 L453.60,50.21 L454.32,49.86 L455.50,49.75 L456.68,49.86 L457.40,50.21 L457.98,50.79 L458.49,51.61 L458.92,52.65 L459.29,53.93 L459.61,55.45 L459.86,57.23 L460.06,59.28 L460.20,61.68 L460.29,64.59 Z" fill="#8d8d8d" stroke="#6e6e6e" stroke-width="0.22"/><path d="M459.30,68.80 L459.28,73.04 L459.21,75.60 L459.09,77.70 L458.93,79.50 L458.73,81.06 L458.47,82.39 L458.17,83.52 L457.82,84.43 L457.41,85.15 L456.94,85.65 L456.36,85.96 L455.40,86.06 L454.44,85.96 L453.86,85.65 L453.39,85.15 L452.98,84.43 L452.63,83.52 L452.33,82.39 L452.07,81.06 L451.87,79.50 L451.71,77.70 L451.59,75.60 L451.52,73.04 L451.50,68.80 L451.52,64.56 L451.59,62.00 L451.71,59.90 L451.87,58.10 L452.07,56.54 L452.33,55.21 L452.63,54.08 L452.98,53.17 L453.39,52.45 L453.86,51.95 L454.44,51.64 L455.40,51.54 L456.36,51.64 L456.94,51.95 L457.41,52.45 L457.82,53.17 L458.17,54.08 L458.47,55.21 L458.73,56.54 L458.93,58.10 L459.09,59.90 L459.21,62.00 L459.28,64.56 Z" fill="#7b7b7b" stroke="#6e6e6e" stroke-width="0.22"/><path d="M458.28,68.17 L458.27,71.82 L458.21,74.02 L458.13,75.83 L458.00,77.38 L457.84,78.72 L457.65,79.87 L457.42,80.83 L457.15,81.62 L456.84,82.23 L456.48,82.67 L456.03,82.94 L455.30,83.02 L454.57,82.94 L454.12,82.67 L453.76,82.23 L453.45,81.62 L453.18,80.83 L452.95,79.87 L452.76,78.72 L452.60,77.38 L452.47,75.83 L452.39,74.02 L452.33,71.82 L452.32,68.18 L452.33,64.53 L452.39,62.33 L452.47,60.52 L452.60,58.97 L452.76,57.63 L452.95,56.48 L453.18,55.52 L453.45,54.73 L453.76,54.12 L454.12,53.68 L454.57,53.41 L455.30,53.33 L456.03,53.41 L456.48,53.68 L456.84,54.12 L457.15,54.73 L457.42,55.52 L457.65,56.48 L457.84,57.63 L458.00,58.97 L458.13,60.52 L458.21,62.33 L458.27,64.53 Z" fill="#696969" stroke="#6e6e6e" stroke-width="0.22"/><path d="M457.27,67.55 L457.26,70.60 L457.22,72.45 L457.16,73.96 L457.07,75.26 L456.96,76.38 L456.83,77.34 L456.67,78.15 L456.48,78.81 L456.27,79.32 L456.01,79.69 L455.71,79.91 L455.20,79.98 L454.69,79.91 L454.39,79.69 L454.13,79.32 L453.92,78.81 L453.73,78.15 L453.57,77.34 L453.44,76.38 L453.33,75.26 L453.24,73.96 L453.18,72.45 L453.14,70.60 L453.13,67.55 L453.14,64.50 L453.18,62.65 L453.24,61.14 L453.33,59.84 L453.44,58.72 L453.57,57.76 L453.73,56.95 L453.92,56.29 L454.13,55.78 L454.39,55.41 L454.69,55.19 L455.20,55.12 L455.71,55.19 L456.01,55.41 L456.27,55.78 L456.48,56.29 L456.67,56.95 L456.83,57.76 L456.96,58.72 L457.07,59.84 L457.16,61.14 L457.22,62.65 L457.26,64.50 Z" fill="#555555" stroke="#6e6e6e" stroke-width="0.22"/><ellipse cx="454.60" cy="66.00" rx="0.9" ry="10.00" fill="#f2f2f2" opacity="0.9"/></g>
<g fill="#b4b4b4"><rect x="458.3" y="105.1" width="0.7" height="0.7"/><rect x="451.7" y="72.6" width="0.7" height="0.7"/><rect x="448.2" y="49.1" width="0.7" height="0.7"/><rect x="461.8" y="50.8" width="0.7" height="0.7"/><rect x="451.5" y="85.4" width="0.7" height="0.7"/><rect x="458.4" y="67.0" width="0.7" height="0.7"/><rect x="451.8" y="52.8" width="0.7" height="0.7"/><rect x="459.8" y="88.7" width="0.7" height="0.7"/><rect x="461.3" y="95.1" width="0.7" height="0.7"/><rect x="452.3" y="59.5" width="0.7" height="0.7"/><rect x="456.3" y="78.0" width="0.7" height="0.7"/><rect x="450.8" y="66.3" width="0.7" height="0.7"/><rect x="464.2" y="44.6" width="0.7" height="0.7"/><rect x="447.4" y="44.0" width="0.7" height="0.7"/><rect x="451.3" y="54.0" width="0.7" height="0.7"/><rect x="457.2" y="105.8" width="0.7" height="0.7"/><rect x="457.2" y="38.4" width="0.7" height="0.7"/><rect x="455.5" y="82.3" width="0.7" height="0.7"/><rect x="469.9" y="87.0" width="0.7" height="0.7"/><rect x="451.3" y="90.4" width="0.7" height="0.7"/><rect x="447.9" y="98.9" width="0.7" height="0.7"/><rect x="456.9" y="44.6" width="0.7" height="0.7"/><rect x="451.4" y="48.1" width="0.7" height="0.7"/><rect x="445.8" y="92.7" width="0.7" height="0.7"/><rect x="465.0" y="92.2" width="0.7" height="0.7"/><rect x="439.7" y="63.4" width="0.7" height="0.7"/><rect x="446.5" y="51.6" width="0.7" height="0.7"/><rect x="450.4" y="48.1" width="0.7" height="0.7"/><rect x="442.0" y="92.2" width="0.7" height="0.7"/><rect x="447.8" y="71.4" width="0.7" height="0.7"/><rect x="462.9" y="105.7" width="0.7" height="0.7"/><rect x="439.8" y="106.6" width="0.7" height="0.7"/><rect x="447.6" y="46.1" width="0.7" height="0.7"/><rect x="466.9" y="47.2" width="0.7" height="0.7"/><rect x="451.5" y="78.7" width="0.7" height="0.7"/><rect x="455.7" y="41.0" width="0.7" height="0.7"/><rect x="458.2" y="63.1" width="0.7" height="0.7"/><rect x="457.9" y="79.3" width="0.7" height="0.7"/><rect x="454.1" y="100.1" width="0.7" height="0.7"/><rect x="448.7" y="79.8" width="0.7" height="0.7"/><rect x="464.5" y="92.0" width="0.7" height="0.7"/><rect x="436.4" y="65.7" width="0.7" height="0.7"/><rect x="458.3" y="52.2" width="0.7" height="0.7"/><rect x="459.9" y="45.4" width="0.7" height="0.7"/></g>
<g fill="#8e8e8e"><rect x="482.4" y="93.2" width="0.7" height="0.7"/><rect x="474.4" y="61.3" width="0.7" height="0.7"/><rect x="474.7" y="58.0" width="0.7" height="0.7"/><rect x="477.9" y="68.5" width="0.7" height="0.7"/><rect x="490.5" y="79.8" width="0.7" height="0.7"/><rect x="485.0" y="65.5" width="0.7" height="0.7"/><rect x="478.3" y="86.8" width="0.7" height="0.7"/><rect x="474.5" y="63.0" width="0.7" height="0.7"/><rect x="478.5" y="64.4" width="0.7" height="0.7"/><rect x="498.5" y="42.2" width="0.7" height="0.7"/><rect x="485.5" y="83.9" width="0.7" height="0.7"/><rect x="487.2" y="55.0" width="0.7" height="0.7"/><rect x="484.1" y="76.3" width="0.7" height="0.7"/></g>
<rect x="443.60" y="37.6" width="28.2" height="20.2" fill="none" stroke="#333" stroke-width="0.9"/>
<rect x="471.80" y="38.0" width="28.1" height="71.4" fill="none" stroke="#333" stroke-width="0.9"/>
<line x1="471.80" y1="73.50" x2="499.90" y2="73.50" stroke="#222" stroke-width="1.4"/>
<line x1="471.80" y1="38.00" x2="471.80" y2="109.40" stroke="#333" stroke-width="1.2"/>
<rect x="434.60" y="28.8" width="85.0" height="85.10" fill="none" stroke="#333" stroke-width="1"/>
<text x="457.60" y="37.30" font-size="7" text-anchor="middle">15.6</text>
<text x="501.80" y="55.70" font-size="7">0.62</text>
<text x="501.80" y="96.00" font-size="7">0.36</text>
<line x1="432.60" y1="50.00" x2="434.60" y2="50.00" stroke="#333" stroke-width="0.8"/>
<line x1="432.60" y1="74.40" x2="434.60" y2="74.40" stroke="#333" stroke-width="0.8"/>
<line x1="432.60" y1="93.50" x2="434.60" y2="93.50" stroke="#333" stroke-width="0.8"/>
<line x1="433.40" y1="33.50" x2="434.60" y2="33.50" stroke="#555" stroke-width="0.5"/>
<line x1="433.40" y1="40.50" x2="434.60" y2="40.50" stroke="#555" stroke-width="0.5"/>
<line x1="433.40" y1="44.50" x2="434.60" y2="44.50" stroke="#555" stroke-width="0.5"/>
<line x1="433.40" y1="47.50" x2="434.60" y2="47.50" stroke="#555" stroke-width="0.5"/>
<line x1="433.40" y1="56.50" x2="434.60" y2="56.50" stroke="#555" stroke-width="0.5"/>
<line x1="433.40" y1="60.50" x2="434.60" y2="60.50" stroke="#555" stroke-width="0.5"/>
<line x1="433.40" y1="64.50" x2="434.60" y2="64.50" stroke="#555" stroke-width="0.5"/>
<line x1="433.40" y1="68.50" x2="434.60" y2="68.50" stroke="#555" stroke-width="0.5"/>
<line x1="433.40" y1="80.00" x2="434.60" y2="80.00" stroke="#555" stroke-width="0.5"/>
<line x1="433.40" y1="86.00" x2="434.60" y2="86.00" stroke="#555" stroke-width="0.5"/>
<line x1="433.40" y1="101.00" x2="434.60" y2="101.00" stroke="#555" stroke-width="0.5"/>
<line x1="433.40" y1="107.00" x2="434.60" y2="107.00" stroke="#555" stroke-width="0.5"/>
<text x="429.60" y="52.00" font-size="5.4" text-anchor="end" fill="#333">10<tspan dy="-2.2" font-size="3.6">4</tspan></text>
<text x="429.60" y="76.40" font-size="5.4" text-anchor="end" fill="#333">10<tspan dy="-2.2" font-size="3.6">3</tspan></text>
<text x="429.00" y="95.20" font-size="5.6" text-anchor="end" fill="#333">0</text>
<line x1="444.90" y1="113.90" x2="444.90" y2="115.90" stroke="#333" stroke-width="0.8"/>
<line x1="463.10" y1="113.90" x2="463.10" y2="115.90" stroke="#333" stroke-width="0.8"/>
<line x1="492.50" y1="113.90" x2="492.50" y2="115.90" stroke="#333" stroke-width="0.8"/>
<line x1="473.10" y1="113.90" x2="473.10" y2="115.10" stroke="#555" stroke-width="0.5"/>
<line x1="479.10" y1="113.90" x2="479.10" y2="115.10" stroke="#555" stroke-width="0.5"/>
<line x1="483.10" y1="113.90" x2="483.10" y2="115.10" stroke="#555" stroke-width="0.5"/>
<line x1="486.10" y1="113.90" x2="486.10" y2="115.10" stroke="#555" stroke-width="0.5"/>
<line x1="488.60" y1="113.90" x2="488.60" y2="115.10" stroke="#555" stroke-width="0.5"/>
<line x1="490.60" y1="113.90" x2="490.60" y2="115.10" stroke="#555" stroke-width="0.5"/>
<line x1="497.60" y1="113.90" x2="497.60" y2="115.10" stroke="#555" stroke-width="0.5"/>
<line x1="503.60" y1="113.90" x2="503.60" y2="115.10" stroke="#555" stroke-width="0.5"/>
<line x1="507.60" y1="113.90" x2="507.60" y2="115.10" stroke="#555" stroke-width="0.5"/>
<line x1="510.60" y1="113.90" x2="510.60" y2="115.10" stroke="#555" stroke-width="0.5"/>
<line x1="513.10" y1="113.90" x2="513.10" y2="115.10" stroke="#555" stroke-width="0.5"/>
<line x1="515.10" y1="113.90" x2="515.10" y2="115.10" stroke="#555" stroke-width="0.5"/>
<line x1="517.10" y1="113.90" x2="517.10" y2="115.10" stroke="#555" stroke-width="0.5"/>
<rect x="452.60" y="113.90" width="4" height="1.8" rx="0.8" fill="#111"/>
<rect x="433.30" y="91" width="1.3" height="6" fill="#111"/>
<text x="456.20" y="123.60" font-size="5.6" text-anchor="middle" fill="#333">0</text>
<text x="492.80" y="123.60" font-size="5.4" text-anchor="middle" fill="#333">10<tspan dy="-2.2" font-size="3.6">4</tspan></text>
<text x="9.50" y="115.60" font-size="10" textLength="15.20" lengthAdjust="spacingAndGlyphs" transform="rotate(-90 9.50 115.60)">PD1</text>
<path d="M5.6,131 V121 M5.6,118.2 l-2.4,4.4 h4.8 z M5.6,131 H17.5 M20.3,131 l-4.4,-2.4 v4.8 z" stroke="#111" stroke-width="1.1" fill="#111"/>
<text x="22.40" y="134.80" font-size="10" textLength="24.60" lengthAdjust="spacingAndGlyphs">CXCR5</text>
<text x="1.30" y="157.40" font-size="11.2" font-weight="bold" fill="#000">B</text>
<rect x="59.60" y="237.00" width="13.4" height="34.20" fill="#fcc894"/>
<rect x="82.00" y="248.20" width="13.4" height="23.00" fill="#919fc9"/>
<rect x="104.50" y="236.80" width="13.4" height="34.40" fill="#abd79c"/>
<rect x="126.70" y="259.70" width="13.4" height="11.50" fill="#a98cc4"/>
<rect x="148.90" y="264.10" width="13.4" height="7.10" fill="#f0917f"/>
<rect x="64.60" y="206.40" width="4.00" height="4.00" fill="none" stroke="#f7941d" stroke-width="1.0"/><circle cx="66.60" cy="208.40" r="0.55" fill="#f7941d"/>
<rect x="64.60" y="214.20" width="4.00" height="4.00" fill="none" stroke="#f7941d" stroke-width="1.0"/><circle cx="66.60" cy="216.20" r="0.55" fill="#f7941d"/>
<rect x="64.60" y="217.70" width="4.00" height="4.00" fill="none" stroke="#f7941d" stroke-width="1.0"/><circle cx="66.60" cy="219.70" r="0.55" fill="#f7941d"/>
<rect x="64.60" y="221.20" width="4.00" height="4.00" fill="none" stroke="#f7941d" stroke-width="1.0"/><circle cx="66.60" cy="223.20" r="0.55" fill="#f7941d"/>
<rect x="67.00" y="226.00" width="4.00" height="4.00" fill="none" stroke="#f7941d" stroke-width="1.0"/><circle cx="69.00" cy="228.00" r="0.55" fill="#f7941d"/>
<rect x="70.50" y="226.00" width="4.00" height="4.00" fill="none" stroke="#f7941d" stroke-width="1.0"/><circle cx="72.50" cy="228.00" r="0.55" fill="#f7941d"/>
<rect x="63.50" y="229.30" width="4.00" height="4.00" fill="none" stroke="#f7941d" stroke-width="1.0"/><circle cx="65.50" cy="231.30" r="0.55" fill="#f7941d"/>
<rect x="67.00" y="229.30" width="4.00" height="4.00" fill="none" stroke="#f7941d" stroke-width="1.0"/><circle cx="69.00" cy="231.30" r="0.55" fill="#f7941d"/>
<rect x="70.50" y="229.30" width="4.00" height="4.00" fill="none" stroke="#f7941d" stroke-width="1.0"/><circle cx="72.50" cy="231.30" r="0.55" fill="#f7941d"/>
<rect x="61.00" y="232.60" width="4.00" height="4.00" fill="none" stroke="#f7941d" stroke-width="1.0"/><circle cx="63.00" cy="234.60" r="0.55" fill="#f7941d"/>
<rect x="64.50" y="232.60" width="4.00" height="4.00" fill="none" stroke="#f7941d" stroke-width="1.0"/><circle cx="66.50" cy="234.60" r="0.55" fill="#f7941d"/>
<rect x="68.00" y="232.60" width="4.00" height="4.00" fill="none" stroke="#f7941d" stroke-width="1.0"/><circle cx="70.00" cy="234.60" r="0.55" fill="#f7941d"/>
<rect x="71.00" y="232.60" width="4.00" height="4.00" fill="none" stroke="#f7941d" stroke-width="1.0"/><circle cx="73.00" cy="234.60" r="0.55" fill="#f7941d"/>
<rect x="58.50" y="235.90" width="4.00" height="4.00" fill="none" stroke="#f7941d" stroke-width="1.0"/><circle cx="60.50" cy="237.90" r="0.55" fill="#f7941d"/>
<rect x="62.00" y="235.90" width="4.00" height="4.00" fill="none" stroke="#f7941d" stroke-width="1.0"/><circle cx="64.00" cy="237.90" r="0.55" fill="#f7941d"/>
<rect x="65.50" y="235.90" width="4.00" height="4.00" fill="none" stroke="#f7941d" stroke-width="1.0"/><circle cx="67.50" cy="237.90" r="0.55" fill="#f7941d"/>
<rect x="69.00" y="235.90" width="4.00" height="4.00" fill="none" stroke="#f7941d" stroke-width="1.0"/><circle cx="71.00" cy="237.90" r="0.55" fill="#f7941d"/>
<rect x="71.50" y="235.90" width="4.00" height="4.00" fill="none" stroke="#f7941d" stroke-width="1.0"/><circle cx="73.50" cy="237.90" r="0.55" fill="#f7941d"/>
<rect x="59.00" y="239.20" width="4.00" height="4.00" fill="none" stroke="#f7941d" stroke-width="1.0"/><circle cx="61.00" cy="241.20" r="0.55" fill="#f7941d"/>
<rect x="62.50" y="239.20" width="4.00" height="4.00" fill="none" stroke="#f7941d" stroke-width="1.0"/><circle cx="64.50" cy="241.20" r="0.55" fill="#f7941d"/>
<rect x="66.00" y="239.20" width="4.00" height="4.00" fill="none" stroke="#f7941d" stroke-width="1.0"/><circle cx="68.00" cy="241.20" r="0.55" fill="#f7941d"/>
<rect x="69.50" y="239.20" width="4.00" height="4.00" fill="none" stroke="#f7941d" stroke-width="1.0"/><circle cx="71.50" cy="241.20" r="0.55" fill="#f7941d"/>
<rect x="58.50" y="244.50" width="4.00" height="4.00" fill="none" stroke="#f7941d" stroke-width="1.0"/><circle cx="60.50" cy="246.50" r="0.55" fill="#f7941d"/>
<rect x="62.00" y="244.50" width="4.00" height="4.00" fill="none" stroke="#f7941d" stroke-width="1.0"/><circle cx="64.00" cy="246.50" r="0.55" fill="#f7941d"/>
<rect x="65.50" y="244.50" width="4.00" height="4.00" fill="none" stroke="#f7941d" stroke-width="1.0"/><circle cx="67.50" cy="246.50" r="0.55" fill="#f7941d"/>
<rect x="69.00" y="244.50" width="4.00" height="4.00" fill="none" stroke="#f7941d" stroke-width="1.0"/><circle cx="71.00" cy="246.50" r="0.55" fill="#f7941d"/>
<rect x="71.50" y="244.50" width="4.00" height="4.00" fill="none" stroke="#f7941d" stroke-width="1.0"/><circle cx="73.50" cy="246.50" r="0.55" fill="#f7941d"/>
<rect x="60.00" y="247.80" width="4.00" height="4.00" fill="none" stroke="#f7941d" stroke-width="1.0"/><circle cx="62.00" cy="249.80" r="0.55" fill="#f7941d"/>
<rect x="63.50" y="247.80" width="4.00" height="4.00" fill="none" stroke="#f7941d" stroke-width="1.0"/><circle cx="65.50" cy="249.80" r="0.55" fill="#f7941d"/>
<rect x="67.00" y="247.80" width="4.00" height="4.00" fill="none" stroke="#f7941d" stroke-width="1.0"/><circle cx="69.00" cy="249.80" r="0.55" fill="#f7941d"/>
<rect x="70.50" y="247.80" width="4.00" height="4.00" fill="none" stroke="#f7941d" stroke-width="1.0"/><circle cx="72.50" cy="249.80" r="0.55" fill="#f7941d"/>
<path d="M93.70,234.19 L96.45,238.86 L90.95,238.86 Z" fill="none" stroke="#1e3f7a" stroke-width="1.2" stroke-linejoin="miter"/>
<path d="M88.60,236.69 L91.35,241.36 L85.85,241.36 Z" fill="none" stroke="#1e3f7a" stroke-width="1.2" stroke-linejoin="miter"/>
<path d="M83.90,238.59 L86.65,243.26 L81.15,243.26 Z" fill="none" stroke="#1e3f7a" stroke-width="1.2" stroke-linejoin="miter"/>
<path d="M88.60,240.49 L91.35,245.16 L85.85,245.16 Z" fill="none" stroke="#1e3f7a" stroke-width="1.2" stroke-linejoin="miter"/>
<path d="M88.60,244.89 L91.35,249.56 L85.85,249.56 Z" fill="none" stroke="#1e3f7a" stroke-width="1.2" stroke-linejoin="miter"/>
<path d="M88.60,251.29 L91.35,255.96 L85.85,255.96 Z" fill="none" stroke="#1e3f7a" stroke-width="1.2" stroke-linejoin="miter"/>
<path d="M93.00,251.89 L95.75,256.56 L90.25,256.56 Z" fill="none" stroke="#1e3f7a" stroke-width="1.2" stroke-linejoin="miter"/>
<path d="M83.90,256.99 L86.65,261.66 L81.15,261.66 Z" fill="none" stroke="#1e3f7a" stroke-width="1.2" stroke-linejoin="miter"/>
<rect x="103.40" y="201.50" width="4.60" height="4.60" fill="none" stroke="#3f9e49" stroke-width="1.15"/>
<rect x="113.60" y="203.00" width="4.60" height="4.60" fill="none" stroke="#3f9e49" stroke-width="1.15"/>
<rect x="103.40" y="233.90" width="4.60" height="4.60" fill="none" stroke="#3f9e49" stroke-width="1.15"/>
<rect x="113.60" y="235.50" width="4.60" height="4.60" fill="none" stroke="#3f9e49" stroke-width="1.15"/>
<rect x="103.40" y="242.40" width="4.60" height="4.60" fill="none" stroke="#3f9e49" stroke-width="1.15"/>
<rect x="113.60" y="244.40" width="4.60" height="4.60" fill="none" stroke="#3f9e49" stroke-width="1.15"/>
<rect x="108.90" y="257.40" width="4.60" height="4.60" fill="none" stroke="#3f9e49" stroke-width="1.15"/>
<circle cx="133.30" cy="222.90" r="2.30" fill="none" stroke="#5b2c80" stroke-width="1.2"/>
<circle cx="133.30" cy="250.10" r="2.30" fill="none" stroke="#5b2c80" stroke-width="1.2"/>
<circle cx="128.60" cy="262.20" r="2.30" fill="none" stroke="#5b2c80" stroke-width="1.2"/>
<circle cx="133.30" cy="261.60" r="2.30" fill="none" stroke="#5b2c80" stroke-width="1.2"/>
<circle cx="137.80" cy="262.20" r="2.30" fill="none" stroke="#5b2c80" stroke-width="1.2"/>
<circle cx="128.60" cy="266.00" r="2.30" fill="none" stroke="#5b2c80" stroke-width="1.2"/>
<circle cx="133.30" cy="265.40" r="2.30" fill="none" stroke="#5b2c80" stroke-width="1.2"/>
<circle cx="137.80" cy="266.00" r="2.30" fill="none" stroke="#5b2c80" stroke-width="1.2"/>
<circle cx="128.60" cy="269.20" r="2.30" fill="none" stroke="#5b2c80" stroke-width="1.2"/>
<circle cx="133.30" cy="269.20" r="2.30" fill="none" stroke="#5b2c80" stroke-width="1.2"/>
<path d="M153.30,254.41 L156.05,249.74 L150.55,249.74 Z" fill="none" stroke="#cc1a40" stroke-width="1.2"/>
<path d="M158.70,254.41 L161.45,249.74 L155.95,249.74 Z" fill="none" stroke="#cc1a40" stroke-width="1.2"/>
<path d="M155.90,257.81 L158.65,253.14 L153.15,253.14 Z" fill="none" stroke="#cc1a40" stroke-width="1.2"/>
<path d="M150.10,269.91 L152.85,265.24 L147.35,265.24 Z" fill="none" stroke="#cc1a40" stroke-width="1.2"/>
<path d="M154.00,269.21 L156.75,264.54 L151.25,264.54 Z" fill="none" stroke="#cc1a40" stroke-width="1.2"/>
<path d="M157.80,269.21 L160.55,264.54 L155.05,264.54 Z" fill="none" stroke="#cc1a40" stroke-width="1.2"/>
<path d="M161.60,270.51 L164.35,265.84 L158.85,265.84 Z" fill="none" stroke="#cc1a40" stroke-width="1.2"/>
<path d="M152.00,271.81 L154.75,267.14 L149.25,267.14 Z" fill="none" stroke="#cc1a40" stroke-width="1.2"/>
<path d="M155.90,272.21 L158.65,267.54 L153.15,267.54 Z" fill="none" stroke="#cc1a40" stroke-width="1.2"/>
<path d="M159.70,272.21 L162.45,267.54 L156.95,267.54 Z" fill="none" stroke="#cc1a40" stroke-width="1.2"/>
<line x1="66.30" y1="228.00" x2="66.30" y2="242.40" stroke="#f7941d" stroke-width="1.0"/>
<line x1="63.30" y1="228.00" x2="69.30" y2="228.00" stroke="#f7941d" stroke-width="1.0"/>
<line x1="88.70" y1="243.00" x2="88.70" y2="251.32" stroke="#1e3f7a" stroke-width="1.0"/>
<line x1="85.70" y1="243.00" x2="91.70" y2="243.00" stroke="#1e3f7a" stroke-width="1.0"/>
<line x1="111.20" y1="225.40" x2="111.20" y2="243.64" stroke="#3f9e49" stroke-width="1.0"/>
<line x1="108.20" y1="225.40" x2="114.20" y2="225.40" stroke="#3f9e49" stroke-width="1.0"/>
<line x1="133.40" y1="250.00" x2="133.40" y2="265.52" stroke="#5b2c80" stroke-width="1.0"/>
<line x1="130.40" y1="250.00" x2="136.40" y2="250.00" stroke="#5b2c80" stroke-width="1.0"/>
<line x1="155.60" y1="260.70" x2="155.60" y2="266.14" stroke="#cc1a40" stroke-width="1.0"/>
<line x1="152.60" y1="260.70" x2="158.60" y2="260.70" stroke="#cc1a40" stroke-width="1.0"/>
<line x1="51.40" y1="169.20" x2="51.40" y2="271.70" stroke="#231f20" stroke-width="1.15"/>
<line x1="50.90" y1="271.20" x2="165.40" y2="271.20" stroke="#231f20" stroke-width="1.25"/>
<line x1="48.40" y1="271.20" x2="51.40" y2="271.20" stroke="#231f20" stroke-width="1.0"/>
<text x="45.40" y="274.10" font-size="8.5" text-anchor="end">0</text>
<line x1="48.40" y1="238.40" x2="51.40" y2="238.40" stroke="#231f20" stroke-width="1.0"/>
<text x="45.40" y="241.30" font-size="8.5" text-anchor="end">10</text>
<line x1="48.40" y1="205.40" x2="51.40" y2="205.40" stroke="#231f20" stroke-width="1.0"/>
<text x="45.40" y="208.30" font-size="8.5" text-anchor="end">20</text>
<line x1="48.40" y1="172.00" x2="51.40" y2="172.00" stroke="#231f20" stroke-width="1.0"/>
<text x="45.40" y="174.90" font-size="8.5" text-anchor="end">30</text>
<line x1="66.30" y1="271.20" x2="66.30" y2="274.70" stroke="#231f20" stroke-width="1.0"/>
<line x1="88.70" y1="271.20" x2="88.70" y2="274.70" stroke="#231f20" stroke-width="1.0"/>
<line x1="111.20" y1="271.20" x2="111.20" y2="274.70" stroke="#231f20" stroke-width="1.0"/>
<line x1="133.40" y1="271.20" x2="133.40" y2="274.70" stroke="#231f20" stroke-width="1.0"/>
<line x1="155.60" y1="271.20" x2="155.60" y2="274.70" stroke="#231f20" stroke-width="1.0"/>
<text x="29.60" y="219.30" font-size="10.2" text-anchor="middle" textLength="84.20" lengthAdjust="spacingAndGlyphs" transform="rotate(-90 29.60 219.30)">% PD1<tspan dy="-4.0" font-size="6.6">−</tspan><tspan dy="4.0">CXCR5</tspan><tspan dy="-4.0" font-size="6.6">+</tspan><tspan dy="4.0"> pre-Tfh</tspan></text>
<line x1="113.50" y1="186.20" x2="157.30" y2="186.20" stroke="#231f20" stroke-width="1.3"/>
<polygon points="133.33,180.60 133.77,181.74 134.99,181.81 134.04,182.58 134.35,183.77 133.33,183.10 132.30,183.77 132.61,182.58 131.66,181.81 132.88,181.74" fill="#231f20"/>
<polygon points="137.47,180.60 137.92,181.74 139.14,181.81 138.19,182.58 138.50,183.77 137.47,183.10 136.45,183.77 136.76,182.58 135.81,181.81 137.03,181.74" fill="#231f20"/>
<line x1="113.50" y1="196.50" x2="132.00" y2="196.50" stroke="#231f20" stroke-width="1.3"/>
<polygon points="122.75,190.90 123.19,192.04 124.41,192.11 123.46,192.88 123.78,194.07 122.75,193.40 121.72,194.07 122.04,192.88 121.09,192.11 122.31,192.04" fill="#231f20"/>
<rect x="228.80" y="245.50" width="13.4" height="22.50" fill="#fcc894"/>
<rect x="250.70" y="236.30" width="13.4" height="31.70" fill="#919fc9"/>
<rect x="273.30" y="241.90" width="13.4" height="26.10" fill="#abd79c"/>
<rect x="295.10" y="258.30" width="13.4" height="9.70" fill="#a98cc4"/>
<rect x="316.90" y="256.10" width="13.4" height="11.90" fill="#f0917f"/>
<rect x="230.50" y="232.50" width="4.00" height="4.00" fill="none" stroke="#f7941d" stroke-width="1.0"/><circle cx="232.50" cy="234.50" r="0.55" fill="#f7941d"/>
<rect x="233.80" y="232.50" width="4.00" height="4.00" fill="none" stroke="#f7941d" stroke-width="1.0"/><circle cx="235.80" cy="234.50" r="0.55" fill="#f7941d"/>
<rect x="237.00" y="232.50" width="4.00" height="4.00" fill="none" stroke="#f7941d" stroke-width="1.0"/><circle cx="239.00" cy="234.50" r="0.55" fill="#f7941d"/>
<rect x="229.00" y="235.80" width="4.00" height="4.00" fill="none" stroke="#f7941d" stroke-width="1.0"/><circle cx="231.00" cy="237.80" r="0.55" fill="#f7941d"/>
<rect x="232.30" y="235.80" width="4.00" height="4.00" fill="none" stroke="#f7941d" stroke-width="1.0"/><circle cx="234.30" cy="237.80" r="0.55" fill="#f7941d"/>
<rect x="235.60" y="235.80" width="4.00" height="4.00" fill="none" stroke="#f7941d" stroke-width="1.0"/><circle cx="237.60" cy="237.80" r="0.55" fill="#f7941d"/>
<rect x="238.50" y="235.80" width="4.00" height="4.00" fill="none" stroke="#f7941d" stroke-width="1.0"/><circle cx="240.50" cy="237.80" r="0.55" fill="#f7941d"/>
<rect x="227.20" y="239.10" width="4.00" height="4.00" fill="none" stroke="#f7941d" stroke-width="1.0"/><circle cx="229.20" cy="241.10" r="0.55" fill="#f7941d"/>
<rect x="230.40" y="239.10" width="4.00" height="4.00" fill="none" stroke="#f7941d" stroke-width="1.0"/><circle cx="232.40" cy="241.10" r="0.55" fill="#f7941d"/>
<rect x="233.60" y="239.10" width="4.00" height="4.00" fill="none" stroke="#f7941d" stroke-width="1.0"/><circle cx="235.60" cy="241.10" r="0.55" fill="#f7941d"/>
<rect x="236.80" y="239.10" width="4.00" height="4.00" fill="none" stroke="#f7941d" stroke-width="1.0"/><circle cx="238.80" cy="241.10" r="0.55" fill="#f7941d"/>
<rect x="239.80" y="239.10" width="4.00" height="4.00" fill="none" stroke="#f7941d" stroke-width="1.0"/><circle cx="241.80" cy="241.10" r="0.55" fill="#f7941d"/>
<rect x="227.20" y="242.40" width="4.00" height="4.00" fill="none" stroke="#f7941d" stroke-width="1.0"/><circle cx="229.20" cy="244.40" r="0.55" fill="#f7941d"/>
<rect x="230.40" y="242.40" width="4.00" height="4.00" fill="none" stroke="#f7941d" stroke-width="1.0"/><circle cx="232.40" cy="244.40" r="0.55" fill="#f7941d"/>
<rect x="233.60" y="242.40" width="4.00" height="4.00" fill="none" stroke="#f7941d" stroke-width="1.0"/><circle cx="235.60" cy="244.40" r="0.55" fill="#f7941d"/>
<rect x="236.80" y="242.40" width="4.00" height="4.00" fill="none" stroke="#f7941d" stroke-width="1.0"/><circle cx="238.80" cy="244.40" r="0.55" fill="#f7941d"/>
<rect x="239.80" y="242.40" width="4.00" height="4.00" fill="none" stroke="#f7941d" stroke-width="1.0"/><circle cx="241.80" cy="244.40" r="0.55" fill="#f7941d"/>
<rect x="227.20" y="245.70" width="4.00" height="4.00" fill="none" stroke="#f7941d" stroke-width="1.0"/><circle cx="229.20" cy="247.70" r="0.55" fill="#f7941d"/>
<rect x="230.40" y="245.70" width="4.00" height="4.00" fill="none" stroke="#f7941d" stroke-width="1.0"/><circle cx="232.40" cy="247.70" r="0.55" fill="#f7941d"/>
<rect x="233.60" y="245.70" width="4.00" height="4.00" fill="none" stroke="#f7941d" stroke-width="1.0"/><circle cx="235.60" cy="247.70" r="0.55" fill="#f7941d"/>
<rect x="236.80" y="245.70" width="4.00" height="4.00" fill="none" stroke="#f7941d" stroke-width="1.0"/><circle cx="238.80" cy="247.70" r="0.55" fill="#f7941d"/>
<rect x="239.80" y="245.70" width="4.00" height="4.00" fill="none" stroke="#f7941d" stroke-width="1.0"/><circle cx="241.80" cy="247.70" r="0.55" fill="#f7941d"/>
<rect x="228.50" y="249.00" width="4.00" height="4.00" fill="none" stroke="#f7941d" stroke-width="1.0"/><circle cx="230.50" cy="251.00" r="0.55" fill="#f7941d"/>
<rect x="231.80" y="249.00" width="4.00" height="4.00" fill="none" stroke="#f7941d" stroke-width="1.0"/><circle cx="233.80" cy="251.00" r="0.55" fill="#f7941d"/>
<rect x="235.10" y="249.00" width="4.00" height="4.00" fill="none" stroke="#f7941d" stroke-width="1.0"/><circle cx="237.10" cy="251.00" r="0.55" fill="#f7941d"/>
<rect x="238.40" y="249.00" width="4.00" height="4.00" fill="none" stroke="#f7941d" stroke-width="1.0"/><circle cx="240.40" cy="251.00" r="0.55" fill="#f7941d"/>
<rect x="230.00" y="252.30" width="4.00" height="4.00" fill="none" stroke="#f7941d" stroke-width="1.0"/><circle cx="232.00" cy="254.30" r="0.55" fill="#f7941d"/>
<rect x="233.30" y="252.30" width="4.00" height="4.00" fill="none" stroke="#f7941d" stroke-width="1.0"/><circle cx="235.30" cy="254.30" r="0.55" fill="#f7941d"/>
<rect x="236.60" y="252.30" width="4.00" height="4.00" fill="none" stroke="#f7941d" stroke-width="1.0"/><circle cx="238.60" cy="254.30" r="0.55" fill="#f7941d"/>
<path d="M257.60,212.39 L260.35,217.06 L254.85,217.06 Z" fill="none" stroke="#1e3f7a" stroke-width="1.2" stroke-linejoin="miter"/>
<path d="M252.00,226.79 L254.75,231.46 L249.25,231.46 Z" fill="none" stroke="#1e3f7a" stroke-width="1.2" stroke-linejoin="miter"/>
<path d="M257.60,227.99 L260.35,232.66 L254.85,232.66 Z" fill="none" stroke="#1e3f7a" stroke-width="1.2" stroke-linejoin="miter"/>
<path d="M262.60,227.39 L265.35,232.06 L259.85,232.06 Z" fill="none" stroke="#1e3f7a" stroke-width="1.2" stroke-linejoin="miter"/>
<path d="M256.40,229.89 L259.15,234.56 L253.65,234.56 Z" fill="none" stroke="#1e3f7a" stroke-width="1.2" stroke-linejoin="miter"/>
<path d="M257.60,241.79 L260.35,246.46 L254.85,246.46 Z" fill="none" stroke="#1e3f7a" stroke-width="1.2" stroke-linejoin="miter"/>
<path d="M252.60,246.79 L255.35,251.46 L249.85,251.46 Z" fill="none" stroke="#1e3f7a" stroke-width="1.2" stroke-linejoin="miter"/>
<path d="M262.00,244.89 L264.75,249.56 L259.25,249.56 Z" fill="none" stroke="#1e3f7a" stroke-width="1.2" stroke-linejoin="miter"/>
<rect x="277.45" y="214.60" width="4.60" height="4.60" fill="none" stroke="#3f9e49" stroke-width="1.15"/>
<rect x="277.45" y="230.45" width="4.60" height="4.60" fill="none" stroke="#3f9e49" stroke-width="1.15"/>
<rect x="277.45" y="235.80" width="4.60" height="4.60" fill="none" stroke="#3f9e49" stroke-width="1.15"/>
<rect x="272.20" y="244.60" width="4.60" height="4.60" fill="none" stroke="#3f9e49" stroke-width="1.15"/>
<rect x="277.45" y="246.45" width="4.60" height="4.60" fill="none" stroke="#3f9e49" stroke-width="1.15"/>
<rect x="282.20" y="248.95" width="4.60" height="4.60" fill="none" stroke="#3f9e49" stroke-width="1.15"/>
<rect x="272.20" y="251.45" width="4.60" height="4.60" fill="none" stroke="#3f9e49" stroke-width="1.15"/>
<circle cx="304.10" cy="249.40" r="2.30" fill="none" stroke="#5b2c80" stroke-width="1.2"/>
<circle cx="299.80" cy="253.00" r="2.30" fill="none" stroke="#5b2c80" stroke-width="1.2"/>
<circle cx="301.60" cy="257.30" r="2.30" fill="none" stroke="#5b2c80" stroke-width="1.2"/>
<circle cx="296.80" cy="261.00" r="2.30" fill="none" stroke="#5b2c80" stroke-width="1.2"/>
<circle cx="302.20" cy="261.00" r="2.30" fill="none" stroke="#5b2c80" stroke-width="1.2"/>
<circle cx="307.10" cy="262.20" r="2.30" fill="none" stroke="#5b2c80" stroke-width="1.2"/>
<circle cx="296.80" cy="266.50" r="2.30" fill="none" stroke="#5b2c80" stroke-width="1.2"/>
<circle cx="302.20" cy="265.90" r="2.30" fill="none" stroke="#5b2c80" stroke-width="1.2"/>
<path d="M326.00,236.71 L328.75,232.04 L323.25,232.04 Z" fill="none" stroke="#cc1a40" stroke-width="1.2"/>
<path d="M322.40,241.61 L325.15,236.94 L319.65,236.94 Z" fill="none" stroke="#cc1a40" stroke-width="1.2"/>
<path d="M326.00,252.41 L328.75,247.74 L323.25,247.74 Z" fill="none" stroke="#cc1a40" stroke-width="1.2"/>
<path d="M322.40,253.81 L325.15,249.14 L319.65,249.14 Z" fill="none" stroke="#cc1a40" stroke-width="1.2"/>
<path d="M319.30,267.81 L322.05,263.14 L316.55,263.14 Z" fill="none" stroke="#cc1a40" stroke-width="1.2"/>
<path d="M323.00,265.41 L325.75,260.74 L320.25,260.74 Z" fill="none" stroke="#cc1a40" stroke-width="1.2"/>
<path d="M326.60,266.01 L329.35,261.34 L323.85,261.34 Z" fill="none" stroke="#cc1a40" stroke-width="1.2"/>
<path d="M329.70,265.41 L332.45,260.74 L326.95,260.74 Z" fill="none" stroke="#cc1a40" stroke-width="1.2"/>
<path d="M319.90,269.71 L322.65,265.04 L317.15,265.04 Z" fill="none" stroke="#cc1a40" stroke-width="1.2"/>
<path d="M324.20,269.41 L326.95,264.74 L321.45,264.74 Z" fill="none" stroke="#cc1a40" stroke-width="1.2"/>
<path d="M328.50,269.41 L331.25,264.74 L325.75,264.74 Z" fill="none" stroke="#cc1a40" stroke-width="1.2"/>
<line x1="235.50" y1="241.00" x2="235.50" y2="248.20" stroke="#f7941d" stroke-width="1.0"/>
<line x1="232.50" y1="241.00" x2="238.50" y2="241.00" stroke="#f7941d" stroke-width="1.0"/>
<line x1="257.40" y1="232.70" x2="257.40" y2="238.46" stroke="#1e3f7a" stroke-width="1.0"/>
<line x1="254.40" y1="232.70" x2="260.40" y2="232.70" stroke="#1e3f7a" stroke-width="1.0"/>
<line x1="280.00" y1="236.20" x2="280.00" y2="245.32" stroke="#3f9e49" stroke-width="1.0"/>
<line x1="277.00" y1="236.20" x2="283.00" y2="236.20" stroke="#3f9e49" stroke-width="1.0"/>
<line x1="301.80" y1="255.50" x2="301.80" y2="259.98" stroke="#5b2c80" stroke-width="1.0"/>
<line x1="298.80" y1="255.50" x2="304.80" y2="255.50" stroke="#5b2c80" stroke-width="1.0"/>
<line x1="323.60" y1="251.50" x2="323.60" y2="258.86" stroke="#cc1a40" stroke-width="1.0"/>
<line x1="320.60" y1="251.50" x2="326.60" y2="251.50" stroke="#cc1a40" stroke-width="1.0"/>
<line x1="220.50" y1="165.70" x2="220.50" y2="268.50" stroke="#231f20" stroke-width="1.15"/>
<line x1="220.00" y1="268.00" x2="335.00" y2="268.00" stroke="#231f20" stroke-width="1.25"/>
<line x1="217.50" y1="268.00" x2="220.50" y2="268.00" stroke="#231f20" stroke-width="1.0"/>
<text x="214.50" y="270.90" font-size="8.5" text-anchor="end">0</text>
<line x1="217.50" y1="243.40" x2="220.50" y2="243.40" stroke="#231f20" stroke-width="1.0"/>
<text x="214.50" y="246.30" font-size="8.5" text-anchor="end">5</text>
<line x1="217.50" y1="218.20" x2="220.50" y2="218.20" stroke="#231f20" stroke-width="1.0"/>
<text x="214.50" y="221.10" font-size="8.5" text-anchor="end">10</text>
<line x1="217.50" y1="193.10" x2="220.50" y2="193.10" stroke="#231f20" stroke-width="1.0"/>
<text x="214.50" y="196.00" font-size="8.5" text-anchor="end">15</text>
<line x1="217.50" y1="168.50" x2="220.50" y2="168.50" stroke="#231f20" stroke-width="1.0"/>
<text x="214.50" y="171.40" font-size="8.5" text-anchor="end">20</text>
<line x1="235.50" y1="268.00" x2="235.50" y2="271.50" stroke="#231f20" stroke-width="1.0"/>
<line x1="257.40" y1="268.00" x2="257.40" y2="271.50" stroke="#231f20" stroke-width="1.0"/>
<line x1="280.00" y1="268.00" x2="280.00" y2="271.50" stroke="#231f20" stroke-width="1.0"/>
<line x1="301.80" y1="268.00" x2="301.80" y2="271.50" stroke="#231f20" stroke-width="1.0"/>
<line x1="323.60" y1="268.00" x2="323.60" y2="271.50" stroke="#231f20" stroke-width="1.0"/>
<text x="198.50" y="216.20" font-size="10.2" text-anchor="middle" textLength="71.20" lengthAdjust="spacingAndGlyphs" transform="rotate(-90 198.50 216.20)">% PD1<tspan dy="-4.0" font-size="6.6">+</tspan><tspan dy="4.0">CXCR5</tspan><tspan dy="-4.0" font-size="6.6">+</tspan><tspan dy="4.0"> Tfh</tspan></text>
<line x1="257.60" y1="180.00" x2="303.50" y2="180.00" stroke="#231f20" stroke-width="1.3"/>
<polygon points="276.40,174.40 276.84,175.54 278.06,175.61 277.11,176.38 277.43,177.57 276.40,176.90 275.37,177.57 275.69,176.38 274.74,175.61 275.96,175.54" fill="#231f20"/>
<polygon points="280.55,174.40 280.99,175.54 282.21,175.61 281.26,176.38 281.58,177.57 280.55,176.90 279.52,177.57 279.84,176.38 278.89,175.61 280.11,175.54" fill="#231f20"/>
<polygon points="284.70,174.40 285.14,175.54 286.36,175.61 285.41,176.38 285.73,177.57 284.70,176.90 283.67,177.57 283.99,176.38 283.04,175.61 284.26,175.54" fill="#231f20"/>
<line x1="257.60" y1="190.80" x2="325.00" y2="190.80" stroke="#231f20" stroke-width="1.3"/>
<polygon points="289.23,185.20 289.67,186.34 290.89,186.41 289.94,187.18 290.25,188.37 289.23,187.70 288.20,188.37 288.51,187.18 287.56,186.41 288.78,186.34" fill="#231f20"/>
<polygon points="293.38,185.20 293.82,186.34 295.04,186.41 294.09,187.18 294.40,188.37 293.38,187.70 292.35,188.37 292.66,187.18 291.71,186.41 292.93,186.34" fill="#231f20"/>
<line x1="279.50" y1="200.80" x2="325.00" y2="200.80" stroke="#231f20" stroke-width="1.3"/>
<polygon points="302.25,195.20 302.69,196.34 303.91,196.41 302.96,197.18 303.28,198.37 302.25,197.70 301.22,198.37 301.54,197.18 300.59,196.41 301.81,196.34" fill="#231f20"/>
<line x1="277.70" y1="210.50" x2="304.20" y2="210.50" stroke="#231f20" stroke-width="1.3"/>
<polygon points="288.88,204.90 289.32,206.04 290.54,206.11 289.59,206.88 289.90,208.07 288.88,207.40 287.85,208.07 288.16,206.88 287.21,206.11 288.43,206.04" fill="#231f20"/>
<polygon points="293.02,204.90 293.47,206.04 294.69,206.11 293.74,206.88 294.05,208.07 293.02,207.40 292.00,208.07 292.31,206.88 291.36,206.11 292.58,206.04" fill="#231f20"/>
<rect x="396.80" y="259.50" width="13.4" height="8.90" fill="#fcc894"/>
<rect x="419.10" y="256.50" width="13.4" height="11.90" fill="#919fc9"/>
<rect x="441.10" y="258.50" width="13.4" height="9.90" fill="#abd79c"/>
<rect x="463.60" y="244.50" width="13.4" height="23.90" fill="#a98cc4"/>
<rect x="485.80" y="236.60" width="13.4" height="31.80" fill="#f0917f"/>
<rect x="399.50" y="251.00" width="4.00" height="4.00" fill="none" stroke="#f7941d" stroke-width="1.0"/><circle cx="401.50" cy="253.00" r="0.55" fill="#f7941d"/>
<rect x="403.00" y="251.00" width="4.00" height="4.00" fill="none" stroke="#f7941d" stroke-width="1.0"/><circle cx="405.00" cy="253.00" r="0.55" fill="#f7941d"/>
<rect x="397.00" y="253.80" width="4.00" height="4.00" fill="none" stroke="#f7941d" stroke-width="1.0"/><circle cx="399.00" cy="255.80" r="0.55" fill="#f7941d"/>
<rect x="400.50" y="253.80" width="4.00" height="4.00" fill="none" stroke="#f7941d" stroke-width="1.0"/><circle cx="402.50" cy="255.80" r="0.55" fill="#f7941d"/>
<rect x="404.00" y="253.80" width="4.00" height="4.00" fill="none" stroke="#f7941d" stroke-width="1.0"/><circle cx="406.00" cy="255.80" r="0.55" fill="#f7941d"/>
<rect x="407.00" y="253.80" width="4.00" height="4.00" fill="none" stroke="#f7941d" stroke-width="1.0"/><circle cx="409.00" cy="255.80" r="0.55" fill="#f7941d"/>
<rect x="395.50" y="256.60" width="4.00" height="4.00" fill="none" stroke="#f7941d" stroke-width="1.0"/><circle cx="397.50" cy="258.60" r="0.55" fill="#f7941d"/>
<rect x="398.80" y="256.60" width="4.00" height="4.00" fill="none" stroke="#f7941d" stroke-width="1.0"/><circle cx="400.80" cy="258.60" r="0.55" fill="#f7941d"/>
<rect x="402.10" y="256.60" width="4.00" height="4.00" fill="none" stroke="#f7941d" stroke-width="1.0"/><circle cx="404.10" cy="258.60" r="0.55" fill="#f7941d"/>
<rect x="405.40" y="256.60" width="4.00" height="4.00" fill="none" stroke="#f7941d" stroke-width="1.0"/><circle cx="407.40" cy="258.60" r="0.55" fill="#f7941d"/>
<rect x="408.20" y="256.60" width="4.00" height="4.00" fill="none" stroke="#f7941d" stroke-width="1.0"/><circle cx="410.20" cy="258.60" r="0.55" fill="#f7941d"/>
<rect x="395.00" y="259.40" width="4.00" height="4.00" fill="none" stroke="#f7941d" stroke-width="1.0"/><circle cx="397.00" cy="261.40" r="0.55" fill="#f7941d"/>
<rect x="398.30" y="259.40" width="4.00" height="4.00" fill="none" stroke="#f7941d" stroke-width="1.0"/><circle cx="400.30" cy="261.40" r="0.55" fill="#f7941d"/>
<rect x="401.60" y="259.40" width="4.00" height="4.00" fill="none" stroke="#f7941d" stroke-width="1.0"/><circle cx="403.60" cy="261.40" r="0.55" fill="#f7941d"/>
<rect x="404.90" y="259.40" width="4.00" height="4.00" fill="none" stroke="#f7941d" stroke-width="1.0"/><circle cx="406.90" cy="261.40" r="0.55" fill="#f7941d"/>
<rect x="408.00" y="259.40" width="4.00" height="4.00" fill="none" stroke="#f7941d" stroke-width="1.0"/><circle cx="410.00" cy="261.40" r="0.55" fill="#f7941d"/>
<rect x="395.00" y="262.20" width="4.00" height="4.00" fill="none" stroke="#f7941d" stroke-width="1.0"/><circle cx="397.00" cy="264.20" r="0.55" fill="#f7941d"/>
<rect x="398.30" y="262.20" width="4.00" height="4.00" fill="none" stroke="#f7941d" stroke-width="1.0"/><circle cx="400.30" cy="264.20" r="0.55" fill="#f7941d"/>
<rect x="401.60" y="262.20" width="4.00" height="4.00" fill="none" stroke="#f7941d" stroke-width="1.0"/><circle cx="403.60" cy="264.20" r="0.55" fill="#f7941d"/>
<rect x="404.90" y="262.20" width="4.00" height="4.00" fill="none" stroke="#f7941d" stroke-width="1.0"/><circle cx="406.90" cy="264.20" r="0.55" fill="#f7941d"/>
<rect x="408.00" y="262.20" width="4.00" height="4.00" fill="none" stroke="#f7941d" stroke-width="1.0"/><circle cx="410.00" cy="264.20" r="0.55" fill="#f7941d"/>
<rect x="396.50" y="264.50" width="4.00" height="4.00" fill="none" stroke="#f7941d" stroke-width="1.0"/><circle cx="398.50" cy="266.50" r="0.55" fill="#f7941d"/>
<rect x="400.00" y="264.50" width="4.00" height="4.00" fill="none" stroke="#f7941d" stroke-width="1.0"/><circle cx="402.00" cy="266.50" r="0.55" fill="#f7941d"/>
<rect x="403.50" y="264.50" width="4.00" height="4.00" fill="none" stroke="#f7941d" stroke-width="1.0"/><circle cx="405.50" cy="266.50" r="0.55" fill="#f7941d"/>
<rect x="407.00" y="264.50" width="4.00" height="4.00" fill="none" stroke="#f7941d" stroke-width="1.0"/><circle cx="409.00" cy="266.50" r="0.55" fill="#f7941d"/>
<path d="M424.20,248.19 L426.95,252.86 L421.45,252.86 Z" fill="none" stroke="#1e3f7a" stroke-width="1.2" stroke-linejoin="miter"/>
<path d="M427.50,247.09 L430.25,251.76 L424.75,251.76 Z" fill="none" stroke="#1e3f7a" stroke-width="1.2" stroke-linejoin="miter"/>
<path d="M421.10,255.59 L423.85,260.26 L418.35,260.26 Z" fill="none" stroke="#1e3f7a" stroke-width="1.2" stroke-linejoin="miter"/>
<path d="M424.90,255.19 L427.65,259.86 L422.15,259.86 Z" fill="none" stroke="#1e3f7a" stroke-width="1.2" stroke-linejoin="miter"/>
<path d="M430.60,255.19 L433.35,259.86 L427.85,259.86 Z" fill="none" stroke="#1e3f7a" stroke-width="1.2" stroke-linejoin="miter"/>
<path d="M425.40,259.39 L428.15,264.06 L422.65,264.06 Z" fill="none" stroke="#1e3f7a" stroke-width="1.2" stroke-linejoin="miter"/>
<path d="M427.70,259.89 L430.45,264.56 L424.95,264.56 Z" fill="none" stroke="#1e3f7a" stroke-width="1.2" stroke-linejoin="miter"/>
<rect x="445.80" y="235.20" width="4.60" height="4.60" fill="none" stroke="#3f9e49" stroke-width="1.15"/>
<rect x="441.20" y="254.50" width="4.60" height="4.60" fill="none" stroke="#3f9e49" stroke-width="1.15"/>
<rect x="445.70" y="254.50" width="4.60" height="4.60" fill="none" stroke="#3f9e49" stroke-width="1.15"/>
<rect x="450.20" y="254.50" width="4.60" height="4.60" fill="none" stroke="#3f9e49" stroke-width="1.15"/>
<rect x="439.20" y="257.20" width="4.60" height="4.60" fill="none" stroke="#3f9e49" stroke-width="1.15"/>
<rect x="443.70" y="257.20" width="4.60" height="4.60" fill="none" stroke="#3f9e49" stroke-width="1.15"/>
<rect x="448.20" y="257.20" width="4.60" height="4.60" fill="none" stroke="#3f9e49" stroke-width="1.15"/>
<rect x="451.70" y="257.20" width="4.60" height="4.60" fill="none" stroke="#3f9e49" stroke-width="1.15"/>
<rect x="440.70" y="260.20" width="4.60" height="4.60" fill="none" stroke="#3f9e49" stroke-width="1.15"/>
<rect x="445.20" y="260.20" width="4.60" height="4.60" fill="none" stroke="#3f9e49" stroke-width="1.15"/>
<rect x="449.70" y="260.20" width="4.60" height="4.60" fill="none" stroke="#3f9e49" stroke-width="1.15"/>
<circle cx="470.20" cy="225.60" r="2.30" fill="none" stroke="#5b2c80" stroke-width="1.2"/>
<circle cx="470.20" cy="237.20" r="2.30" fill="none" stroke="#5b2c80" stroke-width="1.2"/>
<circle cx="465.40" cy="245.10" r="2.30" fill="none" stroke="#5b2c80" stroke-width="1.2"/>
<circle cx="470.20" cy="243.90" r="2.30" fill="none" stroke="#5b2c80" stroke-width="1.2"/>
<circle cx="475.70" cy="246.60" r="2.30" fill="none" stroke="#5b2c80" stroke-width="1.2"/>
<circle cx="470.20" cy="253.00" r="2.30" fill="none" stroke="#5b2c80" stroke-width="1.2"/>
<circle cx="475.70" cy="256.70" r="2.30" fill="none" stroke="#5b2c80" stroke-width="1.2"/>
<circle cx="465.40" cy="259.80" r="2.30" fill="none" stroke="#5b2c80" stroke-width="1.2"/>
<path d="M492.60,207.51 L495.35,202.84 L489.85,202.84 Z" fill="none" stroke="#cc1a40" stroke-width="1.2"/>
<path d="M492.60,215.41 L495.35,210.74 L489.85,210.74 Z" fill="none" stroke="#cc1a40" stroke-width="1.2"/>
<path d="M487.90,240.41 L490.65,235.74 L485.15,235.74 Z" fill="none" stroke="#cc1a40" stroke-width="1.2"/>
<path d="M492.20,239.21 L494.95,234.54 L489.45,234.54 Z" fill="none" stroke="#cc1a40" stroke-width="1.2"/>
<path d="M496.50,239.21 L499.25,234.54 L493.75,234.54 Z" fill="none" stroke="#cc1a40" stroke-width="1.2"/>
<path d="M498.30,236.71 L501.05,232.04 L495.55,232.04 Z" fill="none" stroke="#cc1a40" stroke-width="1.2"/>
<path d="M497.70,242.81 L500.45,238.14 L494.95,238.14 Z" fill="none" stroke="#cc1a40" stroke-width="1.2"/>
<path d="M490.40,255.01 L493.15,250.34 L487.65,250.34 Z" fill="none" stroke="#cc1a40" stroke-width="1.2"/>
<path d="M495.20,252.61 L497.95,247.94 L492.45,247.94 Z" fill="none" stroke="#cc1a40" stroke-width="1.2"/>
<line x1="403.50" y1="255.00" x2="403.50" y2="262.20" stroke="#f7941d" stroke-width="1.0"/>
<line x1="400.50" y1="255.00" x2="406.50" y2="255.00" stroke="#f7941d" stroke-width="1.0"/>
<line x1="425.80" y1="252.50" x2="425.80" y2="258.90" stroke="#1e3f7a" stroke-width="1.0"/>
<line x1="422.80" y1="252.50" x2="428.80" y2="252.50" stroke="#1e3f7a" stroke-width="1.0"/>
<line x1="447.80" y1="254.00" x2="447.80" y2="261.20" stroke="#3f9e49" stroke-width="1.0"/>
<line x1="444.80" y1="254.00" x2="450.80" y2="254.00" stroke="#3f9e49" stroke-width="1.0"/>
<line x1="470.30" y1="242.70" x2="470.30" y2="245.58" stroke="#5b2c80" stroke-width="1.0"/>
<line x1="467.30" y1="242.70" x2="473.30" y2="242.70" stroke="#5b2c80" stroke-width="1.0"/>
<line x1="492.50" y1="228.70" x2="492.50" y2="241.34" stroke="#cc1a40" stroke-width="1.0"/>
<line x1="489.50" y1="228.70" x2="495.50" y2="228.70" stroke="#cc1a40" stroke-width="1.0"/>
<line x1="388.60" y1="165.20" x2="388.60" y2="268.90" stroke="#231f20" stroke-width="1.15"/>
<line x1="388.10" y1="268.40" x2="500.40" y2="268.40" stroke="#231f20" stroke-width="1.25"/>
<line x1="385.60" y1="268.40" x2="388.60" y2="268.40" stroke="#231f20" stroke-width="1.0"/>
<text x="382.60" y="271.30" font-size="8.5" text-anchor="end">0</text>
<line x1="385.60" y1="235.00" x2="388.60" y2="235.00" stroke="#231f20" stroke-width="1.0"/>
<text x="382.60" y="237.90" font-size="8.5" text-anchor="end">10</text>
<line x1="385.60" y1="201.50" x2="388.60" y2="201.50" stroke="#231f20" stroke-width="1.0"/>
<text x="382.60" y="204.40" font-size="8.5" text-anchor="end">20</text>
<line x1="385.60" y1="168.00" x2="388.60" y2="168.00" stroke="#231f20" stroke-width="1.0"/>
<text x="382.60" y="170.90" font-size="8.5" text-anchor="end">30</text>
<line x1="403.50" y1="268.40" x2="403.50" y2="271.90" stroke="#231f20" stroke-width="1.0"/>
<line x1="425.80" y1="268.40" x2="425.80" y2="271.90" stroke="#231f20" stroke-width="1.0"/>
<line x1="447.80" y1="268.40" x2="447.80" y2="271.90" stroke="#231f20" stroke-width="1.0"/>
<line x1="470.30" y1="268.40" x2="470.30" y2="271.90" stroke="#231f20" stroke-width="1.0"/>
<line x1="492.50" y1="268.40" x2="492.50" y2="271.90" stroke="#231f20" stroke-width="1.0"/>
<text x="366.40" y="215.70" font-size="10.2" text-anchor="middle" textLength="71.50" lengthAdjust="spacingAndGlyphs" transform="rotate(-90 366.40 215.70)">% PD1<tspan dy="-4.3" font-size="5.8">hi</tspan><tspan dy="4.3">CXCR5</tspan><tspan dy="-4.0" font-size="6.6">−</tspan><tspan dy="4.0">Tph</tspan></text>
<line x1="423.00" y1="188.10" x2="493.50" y2="188.10" stroke="#231f20" stroke-width="1.3"/>
<polygon points="454.10,182.50 454.54,183.64 455.76,183.71 454.81,184.48 455.13,185.67 454.10,185.00 453.07,185.67 453.39,184.48 452.44,183.71 453.66,183.64" fill="#231f20"/>
<polygon points="458.25,182.50 458.69,183.64 459.91,183.71 458.96,184.48 459.28,185.67 458.25,185.00 457.22,185.67 457.54,184.48 456.59,183.71 457.81,183.64" fill="#231f20"/>
<polygon points="462.40,182.50 462.84,183.64 464.06,183.71 463.11,184.48 463.43,185.67 462.40,185.00 461.37,185.67 461.69,184.48 460.74,183.71 461.96,183.64" fill="#231f20"/>
<line x1="449.60" y1="198.50" x2="493.50" y2="198.50" stroke="#231f20" stroke-width="1.3"/>
<polygon points="469.48,192.90 469.92,194.04 471.14,194.11 470.19,194.88 470.50,196.07 469.48,195.40 468.45,196.07 468.76,194.88 467.81,194.11 469.03,194.04" fill="#231f20"/>
<polygon points="473.62,192.90 474.07,194.04 475.29,194.11 474.34,194.88 474.65,196.07 473.62,195.40 472.60,196.07 472.91,194.88 471.96,194.11 473.18,194.04" fill="#231f20"/>
<rect x="62.20" y="352.00" width="13.4" height="34.30" fill="#fcc894"/>
<rect x="84.40" y="371.00" width="13.4" height="15.30" fill="#919fc9"/>
<rect x="106.10" y="369.00" width="13.4" height="17.30" fill="#abd79c"/>
<rect x="128.20" y="380.60" width="13.4" height="5.70" fill="#a98cc4"/>
<rect x="149.90" y="381.30" width="13.4" height="5.00" fill="#f0917f"/>
<rect x="72.00" y="316.80" width="4.00" height="4.00" fill="none" stroke="#f7941d" stroke-width="1.0"/><circle cx="74.00" cy="318.80" r="0.55" fill="#f7941d"/>
<rect x="69.90" y="319.50" width="4.00" height="4.00" fill="none" stroke="#f7941d" stroke-width="1.0"/><circle cx="71.90" cy="321.50" r="0.55" fill="#f7941d"/>
<rect x="67.20" y="321.60" width="4.00" height="4.00" fill="none" stroke="#f7941d" stroke-width="1.0"/><circle cx="69.20" cy="323.60" r="0.55" fill="#f7941d"/>
<rect x="66.60" y="341.20" width="4.00" height="4.00" fill="none" stroke="#f7941d" stroke-width="1.0"/><circle cx="68.60" cy="343.20" r="0.55" fill="#f7941d"/>
<rect x="72.00" y="346.60" width="4.00" height="4.00" fill="none" stroke="#f7941d" stroke-width="1.0"/><circle cx="74.00" cy="348.60" r="0.55" fill="#f7941d"/>
<rect x="63.20" y="348.70" width="4.00" height="4.00" fill="none" stroke="#f7941d" stroke-width="1.0"/><circle cx="65.20" cy="350.70" r="0.55" fill="#f7941d"/>
<rect x="66.60" y="351.40" width="4.00" height="4.00" fill="none" stroke="#f7941d" stroke-width="1.0"/><circle cx="68.60" cy="353.40" r="0.55" fill="#f7941d"/>
<rect x="67.90" y="351.40" width="4.00" height="4.00" fill="none" stroke="#f7941d" stroke-width="1.0"/><circle cx="69.90" cy="353.40" r="0.55" fill="#f7941d"/>
<rect x="67.90" y="354.70" width="4.00" height="4.00" fill="none" stroke="#f7941d" stroke-width="1.0"/><circle cx="69.90" cy="356.70" r="0.55" fill="#f7941d"/>
<rect x="62.50" y="360.80" width="4.00" height="4.00" fill="none" stroke="#f7941d" stroke-width="1.0"/><circle cx="64.50" cy="362.80" r="0.55" fill="#f7941d"/>
<rect x="67.20" y="363.60" width="4.00" height="4.00" fill="none" stroke="#f7941d" stroke-width="1.0"/><circle cx="69.20" cy="365.60" r="0.55" fill="#f7941d"/>
<rect x="72.00" y="364.20" width="4.00" height="4.00" fill="none" stroke="#f7941d" stroke-width="1.0"/><circle cx="74.00" cy="366.20" r="0.55" fill="#f7941d"/>
<rect x="61.80" y="367.60" width="4.00" height="4.00" fill="none" stroke="#f7941d" stroke-width="1.0"/><circle cx="63.80" cy="369.60" r="0.55" fill="#f7941d"/>
<rect x="65.20" y="365.60" width="4.00" height="4.00" fill="none" stroke="#f7941d" stroke-width="1.0"/><circle cx="67.20" cy="367.60" r="0.55" fill="#f7941d"/>
<rect x="63.50" y="356.50" width="4.00" height="4.00" fill="none" stroke="#f7941d" stroke-width="1.0"/><circle cx="65.50" cy="358.50" r="0.55" fill="#f7941d"/>
<rect x="70.50" y="358.00" width="4.00" height="4.00" fill="none" stroke="#f7941d" stroke-width="1.0"/><circle cx="72.50" cy="360.00" r="0.55" fill="#f7941d"/>
<path d="M90.90,345.29 L93.65,349.96 L88.15,349.96 Z" fill="none" stroke="#1e3f7a" stroke-width="1.2" stroke-linejoin="miter"/>
<path d="M86.80,370.39 L89.55,375.06 L84.05,375.06 Z" fill="none" stroke="#1e3f7a" stroke-width="1.2" stroke-linejoin="miter"/>
<path d="M90.50,369.09 L93.25,373.76 L87.75,373.76 Z" fill="none" stroke="#1e3f7a" stroke-width="1.2" stroke-linejoin="miter"/>
<path d="M96.30,370.39 L99.05,375.06 L93.55,375.06 Z" fill="none" stroke="#1e3f7a" stroke-width="1.2" stroke-linejoin="miter"/>
<path d="M88.90,373.79 L91.65,378.46 L86.15,378.46 Z" fill="none" stroke="#1e3f7a" stroke-width="1.2" stroke-linejoin="miter"/>
<path d="M92.90,373.09 L95.65,377.76 L90.15,377.76 Z" fill="none" stroke="#1e3f7a" stroke-width="1.2" stroke-linejoin="miter"/>
<path d="M89.60,378.49 L92.35,383.16 L86.85,383.16 Z" fill="none" stroke="#1e3f7a" stroke-width="1.2" stroke-linejoin="miter"/>
<path d="M92.90,379.19 L95.65,383.86 L90.15,383.86 Z" fill="none" stroke="#1e3f7a" stroke-width="1.2" stroke-linejoin="miter"/>
<rect x="110.80" y="349.60" width="4.60" height="4.60" fill="none" stroke="#3f9e49" stroke-width="1.15"/>
<rect x="110.80" y="357.10" width="4.60" height="4.60" fill="none" stroke="#3f9e49" stroke-width="1.15"/>
<rect x="105.80" y="367.10" width="4.60" height="4.60" fill="none" stroke="#3f9e49" stroke-width="1.15"/>
<rect x="110.20" y="366.45" width="4.60" height="4.60" fill="none" stroke="#3f9e49" stroke-width="1.15"/>
<rect x="115.20" y="367.70" width="4.60" height="4.60" fill="none" stroke="#3f9e49" stroke-width="1.15"/>
<rect x="107.70" y="369.60" width="4.60" height="4.60" fill="none" stroke="#3f9e49" stroke-width="1.15"/>
<rect x="112.70" y="369.60" width="4.60" height="4.60" fill="none" stroke="#3f9e49" stroke-width="1.15"/>
<rect x="116.45" y="370.20" width="4.60" height="4.60" fill="none" stroke="#3f9e49" stroke-width="1.15"/>
<rect x="110.80" y="380.80" width="4.60" height="4.60" fill="none" stroke="#3f9e49" stroke-width="1.15"/>
<circle cx="135.00" cy="365.60" r="2.30" fill="none" stroke="#5b2c80" stroke-width="1.2"/>
<circle cx="135.00" cy="373.10" r="2.30" fill="none" stroke="#5b2c80" stroke-width="1.2"/>
<circle cx="140.00" cy="380.00" r="2.30" fill="none" stroke="#5b2c80" stroke-width="1.2"/>
<circle cx="129.40" cy="383.75" r="2.30" fill="none" stroke="#5b2c80" stroke-width="1.2"/>
<circle cx="133.10" cy="382.50" r="2.30" fill="none" stroke="#5b2c80" stroke-width="1.2"/>
<circle cx="137.50" cy="383.10" r="2.30" fill="none" stroke="#5b2c80" stroke-width="1.2"/>
<circle cx="141.25" cy="385.00" r="2.30" fill="none" stroke="#5b2c80" stroke-width="1.2"/>
<circle cx="131.25" cy="385.00" r="2.30" fill="none" stroke="#5b2c80" stroke-width="1.2"/>
<circle cx="139.40" cy="386.90" r="2.30" fill="none" stroke="#5b2c80" stroke-width="1.2"/>
<path d="M159.40,377.01 L162.15,372.34 L156.65,372.34 Z" fill="none" stroke="#cc1a40" stroke-width="1.2"/>
<path d="M156.90,379.51 L159.65,374.84 L154.15,374.84 Z" fill="none" stroke="#cc1a40" stroke-width="1.2"/>
<path d="M155.00,380.71 L157.75,376.04 L152.25,376.04 Z" fill="none" stroke="#cc1a40" stroke-width="1.2"/>
<path d="M151.25,385.71 L154.00,381.04 L148.50,381.04 Z" fill="none" stroke="#cc1a40" stroke-width="1.2"/>
<path d="M155.00,385.71 L157.75,381.04 L152.25,381.04 Z" fill="none" stroke="#cc1a40" stroke-width="1.2"/>
<path d="M158.75,385.71 L161.50,381.04 L156.00,381.04 Z" fill="none" stroke="#cc1a40" stroke-width="1.2"/>
<path d="M162.50,386.36 L165.25,381.69 L159.75,381.69 Z" fill="none" stroke="#cc1a40" stroke-width="1.2"/>
<path d="M153.10,387.61 L155.85,382.94 L150.35,382.94 Z" fill="none" stroke="#cc1a40" stroke-width="1.2"/>
<path d="M157.50,387.61 L160.25,382.94 L154.75,382.94 Z" fill="none" stroke="#cc1a40" stroke-width="1.2"/>
<path d="M161.25,388.21 L164.00,383.54 L158.50,383.54 Z" fill="none" stroke="#cc1a40" stroke-width="1.2"/>
<line x1="68.90" y1="345.00" x2="68.90" y2="356.20" stroke="#f7941d" stroke-width="1.0"/>
<line x1="65.90" y1="345.00" x2="71.90" y2="345.00" stroke="#f7941d" stroke-width="1.0"/>
<line x1="91.10" y1="367.60" x2="91.10" y2="373.04" stroke="#1e3f7a" stroke-width="1.0"/>
<line x1="88.10" y1="367.60" x2="94.10" y2="367.60" stroke="#1e3f7a" stroke-width="1.0"/>
<line x1="112.80" y1="365.30" x2="112.80" y2="371.22" stroke="#3f9e49" stroke-width="1.0"/>
<line x1="109.80" y1="365.30" x2="115.80" y2="365.30" stroke="#3f9e49" stroke-width="1.0"/>
<line x1="134.90" y1="377.00" x2="134.90" y2="382.76" stroke="#5b2c80" stroke-width="1.0"/>
<line x1="131.90" y1="377.00" x2="137.90" y2="377.00" stroke="#5b2c80" stroke-width="1.0"/>
<line x1="156.60" y1="378.00" x2="156.60" y2="383.28" stroke="#cc1a40" stroke-width="1.0"/>
<line x1="153.60" y1="378.00" x2="159.60" y2="378.00" stroke="#cc1a40" stroke-width="1.0"/>
<line x1="54.30" y1="285.50" x2="54.30" y2="386.80" stroke="#231f20" stroke-width="1.15"/>
<line x1="53.80" y1="386.30" x2="165.40" y2="386.30" stroke="#231f20" stroke-width="1.25"/>
<line x1="51.30" y1="386.30" x2="54.30" y2="386.30" stroke="#231f20" stroke-width="1.0"/>
<text x="48.30" y="389.20" font-size="8.5" text-anchor="end">0</text>
<line x1="51.30" y1="354.10" x2="54.30" y2="354.10" stroke="#231f20" stroke-width="1.0"/>
<text x="48.30" y="357.00" font-size="8.5" text-anchor="end">50</text>
<line x1="51.30" y1="321.20" x2="54.30" y2="321.20" stroke="#231f20" stroke-width="1.0"/>
<text x="48.30" y="324.10" font-size="8.5" text-anchor="end">100</text>
<line x1="51.30" y1="288.30" x2="54.30" y2="288.30" stroke="#231f20" stroke-width="1.0"/>
<text x="48.30" y="291.20" font-size="8.5" text-anchor="end">150</text>
<line x1="68.90" y1="386.30" x2="68.90" y2="389.80" stroke="#231f20" stroke-width="1.0"/>
<line x1="91.10" y1="386.30" x2="91.10" y2="389.80" stroke="#231f20" stroke-width="1.0"/>
<line x1="112.80" y1="386.30" x2="112.80" y2="389.80" stroke="#231f20" stroke-width="1.0"/>
<line x1="134.90" y1="386.30" x2="134.90" y2="389.80" stroke="#231f20" stroke-width="1.0"/>
<line x1="156.60" y1="386.30" x2="156.60" y2="389.80" stroke="#231f20" stroke-width="1.0"/>
<text x="27.90" y="335.30" font-size="10.2" text-anchor="middle" textLength="70.00" lengthAdjust="spacingAndGlyphs" transform="rotate(-90 27.90 335.30)">No. pre-Tfh cells/μL</text>
<line x1="71.20" y1="312.40" x2="91.10" y2="312.40" stroke="#231f20" stroke-width="1.3"/>
<polygon points="79.08,306.80 79.52,307.94 80.74,308.01 79.79,308.78 80.10,309.97 79.08,309.30 78.05,309.97 78.36,308.78 77.41,308.01 78.63,307.94" fill="#231f20"/>
<polygon points="83.23,306.80 83.67,307.94 84.89,308.01 83.94,308.78 84.25,309.97 83.23,309.30 82.20,309.97 82.51,308.78 81.56,308.01 82.78,307.94" fill="#231f20"/>
<text x="70.60" y="396.20" font-size="9.2" text-anchor="end" textLength="12.50" lengthAdjust="spacingAndGlyphs" transform="rotate(-45 70.60 396.20)">HD</text>
<text x="92.80" y="396.20" font-size="9.2" text-anchor="end" textLength="37.50" lengthAdjust="spacingAndGlyphs" transform="rotate(-45 92.80 396.20)">No GVHD</text>
<text x="114.50" y="396.20" font-size="9.2" text-anchor="end" textLength="16.20" lengthAdjust="spacingAndGlyphs" transform="rotate(-45 114.50 396.20)">Mild</text>
<text x="136.60" y="396.20" font-size="9.2" text-anchor="end" textLength="35.30" lengthAdjust="spacingAndGlyphs" transform="rotate(-45 136.60 396.20)">Moderate</text>
<text x="158.30" y="396.20" font-size="9.2" text-anchor="end" textLength="26.50" lengthAdjust="spacingAndGlyphs" transform="rotate(-45 158.30 396.20)">Severe</text>
<line x1="99.80" y1="429.00" x2="159.80" y2="429.00" stroke="#231f20" stroke-width="1.1"/>
<text x="129.80" y="442.70" font-size="10.6" text-anchor="middle" textLength="34.00" lengthAdjust="spacingAndGlyphs">cGVHD</text>
<rect x="225.80" y="353.40" width="13.4" height="34.60" fill="#fcc894"/>
<rect x="248.30" y="356.10" width="13.4" height="31.90" fill="#919fc9"/>
<rect x="270.30" y="370.50" width="13.4" height="17.50" fill="#abd79c"/>
<rect x="292.80" y="381.10" width="13.4" height="6.90" fill="#a98cc4"/>
<rect x="315.30" y="381.10" width="13.4" height="6.90" fill="#f0917f"/>
<rect x="225.00" y="339.50" width="4.00" height="4.00" fill="none" stroke="#f7941d" stroke-width="1.0"/><circle cx="227.00" cy="341.50" r="0.55" fill="#f7941d"/>
<rect x="228.50" y="339.50" width="4.00" height="4.00" fill="none" stroke="#f7941d" stroke-width="1.0"/><circle cx="230.50" cy="341.50" r="0.55" fill="#f7941d"/>
<rect x="232.00" y="339.50" width="4.00" height="4.00" fill="none" stroke="#f7941d" stroke-width="1.0"/><circle cx="234.00" cy="341.50" r="0.55" fill="#f7941d"/>
<rect x="235.50" y="339.50" width="4.00" height="4.00" fill="none" stroke="#f7941d" stroke-width="1.0"/><circle cx="237.50" cy="341.50" r="0.55" fill="#f7941d"/>
<rect x="238.00" y="339.50" width="4.00" height="4.00" fill="none" stroke="#f7941d" stroke-width="1.0"/><circle cx="240.00" cy="341.50" r="0.55" fill="#f7941d"/>
<rect x="224.50" y="342.50" width="4.00" height="4.00" fill="none" stroke="#f7941d" stroke-width="1.0"/><circle cx="226.50" cy="344.50" r="0.55" fill="#f7941d"/>
<rect x="228.00" y="342.50" width="4.00" height="4.00" fill="none" stroke="#f7941d" stroke-width="1.0"/><circle cx="230.00" cy="344.50" r="0.55" fill="#f7941d"/>
<rect x="231.50" y="342.50" width="4.00" height="4.00" fill="none" stroke="#f7941d" stroke-width="1.0"/><circle cx="233.50" cy="344.50" r="0.55" fill="#f7941d"/>
<rect x="235.00" y="342.50" width="4.00" height="4.00" fill="none" stroke="#f7941d" stroke-width="1.0"/><circle cx="237.00" cy="344.50" r="0.55" fill="#f7941d"/>
<rect x="238.00" y="342.50" width="4.00" height="4.00" fill="none" stroke="#f7941d" stroke-width="1.0"/><circle cx="240.00" cy="344.50" r="0.55" fill="#f7941d"/>
<rect x="227.00" y="346.00" width="4.00" height="4.00" fill="none" stroke="#f7941d" stroke-width="1.0"/><circle cx="229.00" cy="348.00" r="0.55" fill="#f7941d"/>
<rect x="230.50" y="346.00" width="4.00" height="4.00" fill="none" stroke="#f7941d" stroke-width="1.0"/><circle cx="232.50" cy="348.00" r="0.55" fill="#f7941d"/>
<rect x="234.00" y="346.00" width="4.00" height="4.00" fill="none" stroke="#f7941d" stroke-width="1.0"/><circle cx="236.00" cy="348.00" r="0.55" fill="#f7941d"/>
<rect x="237.00" y="346.00" width="4.00" height="4.00" fill="none" stroke="#f7941d" stroke-width="1.0"/><circle cx="239.00" cy="348.00" r="0.55" fill="#f7941d"/>
<rect x="228.00" y="349.50" width="4.00" height="4.00" fill="none" stroke="#f7941d" stroke-width="1.0"/><circle cx="230.00" cy="351.50" r="0.55" fill="#f7941d"/>
<rect x="231.50" y="349.50" width="4.00" height="4.00" fill="none" stroke="#f7941d" stroke-width="1.0"/><circle cx="233.50" cy="351.50" r="0.55" fill="#f7941d"/>
<rect x="235.00" y="349.50" width="4.00" height="4.00" fill="none" stroke="#f7941d" stroke-width="1.0"/><circle cx="237.00" cy="351.50" r="0.55" fill="#f7941d"/>
<rect x="227.50" y="353.00" width="4.00" height="4.00" fill="none" stroke="#f7941d" stroke-width="1.0"/><circle cx="229.50" cy="355.00" r="0.55" fill="#f7941d"/>
<rect x="231.00" y="353.00" width="4.00" height="4.00" fill="none" stroke="#f7941d" stroke-width="1.0"/><circle cx="233.00" cy="355.00" r="0.55" fill="#f7941d"/>
<rect x="234.50" y="353.00" width="4.00" height="4.00" fill="none" stroke="#f7941d" stroke-width="1.0"/><circle cx="236.50" cy="355.00" r="0.55" fill="#f7941d"/>
<rect x="228.50" y="356.50" width="4.00" height="4.00" fill="none" stroke="#f7941d" stroke-width="1.0"/><circle cx="230.50" cy="358.50" r="0.55" fill="#f7941d"/>
<rect x="232.00" y="356.50" width="4.00" height="4.00" fill="none" stroke="#f7941d" stroke-width="1.0"/><circle cx="234.00" cy="358.50" r="0.55" fill="#f7941d"/>
<rect x="235.00" y="356.50" width="4.00" height="4.00" fill="none" stroke="#f7941d" stroke-width="1.0"/><circle cx="237.00" cy="358.50" r="0.55" fill="#f7941d"/>
<rect x="227.50" y="360.00" width="4.00" height="4.00" fill="none" stroke="#f7941d" stroke-width="1.0"/><circle cx="229.50" cy="362.00" r="0.55" fill="#f7941d"/>
<rect x="231.00" y="360.00" width="4.00" height="4.00" fill="none" stroke="#f7941d" stroke-width="1.0"/><circle cx="233.00" cy="362.00" r="0.55" fill="#f7941d"/>
<rect x="234.50" y="360.00" width="4.00" height="4.00" fill="none" stroke="#f7941d" stroke-width="1.0"/><circle cx="236.50" cy="362.00" r="0.55" fill="#f7941d"/>
<rect x="228.50" y="363.50" width="4.00" height="4.00" fill="none" stroke="#f7941d" stroke-width="1.0"/><circle cx="230.50" cy="365.50" r="0.55" fill="#f7941d"/>
<rect x="232.00" y="363.50" width="4.00" height="4.00" fill="none" stroke="#f7941d" stroke-width="1.0"/><circle cx="234.00" cy="365.50" r="0.55" fill="#f7941d"/>
<rect x="228.00" y="367.00" width="4.00" height="4.00" fill="none" stroke="#f7941d" stroke-width="1.0"/><circle cx="230.00" cy="369.00" r="0.55" fill="#f7941d"/>
<rect x="231.50" y="367.00" width="4.00" height="4.00" fill="none" stroke="#f7941d" stroke-width="1.0"/><circle cx="233.50" cy="369.00" r="0.55" fill="#f7941d"/>
<rect x="234.50" y="367.00" width="4.00" height="4.00" fill="none" stroke="#f7941d" stroke-width="1.0"/><circle cx="236.50" cy="369.00" r="0.55" fill="#f7941d"/>
<rect x="229.50" y="370.00" width="4.00" height="4.00" fill="none" stroke="#f7941d" stroke-width="1.0"/><circle cx="231.50" cy="372.00" r="0.55" fill="#f7941d"/>
<rect x="232.50" y="370.00" width="4.00" height="4.00" fill="none" stroke="#f7941d" stroke-width="1.0"/><circle cx="234.50" cy="372.00" r="0.55" fill="#f7941d"/>
<path d="M254.80,312.79 L257.55,317.46 L252.05,317.46 Z" fill="none" stroke="#1e3f7a" stroke-width="1.2" stroke-linejoin="miter"/>
<path d="M254.80,329.79 L257.55,334.46 L252.05,334.46 Z" fill="none" stroke="#1e3f7a" stroke-width="1.2" stroke-linejoin="miter"/>
<path d="M249.80,355.49 L252.55,360.16 L247.05,360.16 Z" fill="none" stroke="#1e3f7a" stroke-width="1.2" stroke-linejoin="miter"/>
<path d="M254.50,358.89 L257.25,363.56 L251.75,363.56 Z" fill="none" stroke="#1e3f7a" stroke-width="1.2" stroke-linejoin="miter"/>
<path d="M254.50,368.39 L257.25,373.06 L251.75,373.06 Z" fill="none" stroke="#1e3f7a" stroke-width="1.2" stroke-linejoin="miter"/>
<path d="M249.80,373.79 L252.55,378.46 L247.05,378.46 Z" fill="none" stroke="#1e3f7a" stroke-width="1.2" stroke-linejoin="miter"/>
<path d="M259.90,373.79 L262.65,378.46 L257.15,378.46 Z" fill="none" stroke="#1e3f7a" stroke-width="1.2" stroke-linejoin="miter"/>
<rect x="274.80" y="336.40" width="4.60" height="4.60" fill="none" stroke="#3f9e49" stroke-width="1.15"/>
<rect x="274.80" y="358.90" width="4.60" height="4.60" fill="none" stroke="#3f9e49" stroke-width="1.15"/>
<rect x="268.80" y="368.10" width="4.60" height="4.60" fill="none" stroke="#3f9e49" stroke-width="1.15"/>
<rect x="274.10" y="368.70" width="4.60" height="4.60" fill="none" stroke="#3f9e49" stroke-width="1.15"/>
<rect x="279.50" y="368.10" width="4.60" height="4.60" fill="none" stroke="#3f9e49" stroke-width="1.15"/>
<rect x="274.80" y="385.60" width="4.60" height="4.60" fill="none" stroke="#3f9e49" stroke-width="1.15"/>
<circle cx="296.60" cy="371.70" r="2.30" fill="none" stroke="#5b2c80" stroke-width="1.2"/>
<circle cx="301.10" cy="373.70" r="2.30" fill="none" stroke="#5b2c80" stroke-width="1.2"/>
<circle cx="302.70" cy="375.10" r="2.30" fill="none" stroke="#5b2c80" stroke-width="1.2"/>
<circle cx="293.90" cy="385.20" r="2.30" fill="none" stroke="#5b2c80" stroke-width="1.2"/>
<circle cx="298.60" cy="383.80" r="2.30" fill="none" stroke="#5b2c80" stroke-width="1.2"/>
<circle cx="303.40" cy="385.20" r="2.30" fill="none" stroke="#5b2c80" stroke-width="1.2"/>
<circle cx="296.00" cy="387.20" r="2.30" fill="none" stroke="#5b2c80" stroke-width="1.2"/>
<circle cx="300.70" cy="387.20" r="2.30" fill="none" stroke="#5b2c80" stroke-width="1.2"/>
<circle cx="304.70" cy="387.20" r="2.30" fill="none" stroke="#5b2c80" stroke-width="1.2"/>
<path d="M321.50,362.91 L324.25,358.24 L318.75,358.24 Z" fill="none" stroke="#cc1a40" stroke-width="1.2"/>
<path d="M321.50,368.91 L324.25,364.24 L318.75,364.24 Z" fill="none" stroke="#cc1a40" stroke-width="1.2"/>
<path d="M315.50,385.81 L318.25,381.14 L312.75,381.14 Z" fill="none" stroke="#cc1a40" stroke-width="1.2"/>
<path d="M319.50,385.11 L322.25,380.44 L316.75,380.44 Z" fill="none" stroke="#cc1a40" stroke-width="1.2"/>
<path d="M324.20,385.11 L326.95,380.44 L321.45,380.44 Z" fill="none" stroke="#cc1a40" stroke-width="1.2"/>
<path d="M327.60,386.41 L330.35,381.74 L324.85,381.74 Z" fill="none" stroke="#cc1a40" stroke-width="1.2"/>
<path d="M317.50,387.81 L320.25,383.14 L314.75,383.14 Z" fill="none" stroke="#cc1a40" stroke-width="1.2"/>
<path d="M321.50,388.51 L324.25,383.84 L318.75,383.84 Z" fill="none" stroke="#cc1a40" stroke-width="1.2"/>
<path d="M326.20,388.51 L328.95,383.84 L323.45,383.84 Z" fill="none" stroke="#cc1a40" stroke-width="1.2"/>
<line x1="232.50" y1="350.00" x2="232.50" y2="355.44" stroke="#f7941d" stroke-width="1.0"/>
<line x1="229.50" y1="350.00" x2="235.50" y2="350.00" stroke="#f7941d" stroke-width="1.0"/>
<line x1="255.00" y1="346.60" x2="255.00" y2="361.80" stroke="#1e3f7a" stroke-width="1.0"/>
<line x1="252.00" y1="346.60" x2="258.00" y2="346.60" stroke="#1e3f7a" stroke-width="1.0"/>
<line x1="277.00" y1="361.60" x2="277.00" y2="375.84" stroke="#3f9e49" stroke-width="1.0"/>
<line x1="274.00" y1="361.60" x2="280.00" y2="361.60" stroke="#3f9e49" stroke-width="1.0"/>
<line x1="299.50" y1="378.00" x2="299.50" y2="382.96" stroke="#5b2c80" stroke-width="1.0"/>
<line x1="296.50" y1="378.00" x2="302.50" y2="378.00" stroke="#5b2c80" stroke-width="1.0"/>
<line x1="322.00" y1="376.40" x2="322.00" y2="383.92" stroke="#cc1a40" stroke-width="1.0"/>
<line x1="319.00" y1="376.40" x2="325.00" y2="376.40" stroke="#cc1a40" stroke-width="1.0"/>
<line x1="217.30" y1="285.30" x2="217.30" y2="388.50" stroke="#231f20" stroke-width="1.15"/>
<line x1="216.80" y1="388.00" x2="332.50" y2="388.00" stroke="#231f20" stroke-width="1.25"/>
<line x1="214.30" y1="388.00" x2="217.30" y2="388.00" stroke="#231f20" stroke-width="1.0"/>
<text x="211.30" y="390.90" font-size="8.5" text-anchor="end">0</text>
<line x1="214.30" y1="355.30" x2="217.30" y2="355.30" stroke="#231f20" stroke-width="1.0"/>
<text x="211.30" y="358.20" font-size="8.5" text-anchor="end">20</text>
<line x1="214.30" y1="321.50" x2="217.30" y2="321.50" stroke="#231f20" stroke-width="1.0"/>
<text x="211.30" y="324.40" font-size="8.5" text-anchor="end">40</text>
<line x1="214.30" y1="288.10" x2="217.30" y2="288.10" stroke="#231f20" stroke-width="1.0"/>
<text x="211.30" y="291.00" font-size="8.5" text-anchor="end">60</text>
<line x1="232.50" y1="388.00" x2="232.50" y2="391.50" stroke="#231f20" stroke-width="1.0"/>
<line x1="255.00" y1="388.00" x2="255.00" y2="391.50" stroke="#231f20" stroke-width="1.0"/>
<line x1="277.00" y1="388.00" x2="277.00" y2="391.50" stroke="#231f20" stroke-width="1.0"/>
<line x1="299.50" y1="388.00" x2="299.50" y2="391.50" stroke="#231f20" stroke-width="1.0"/>
<line x1="322.00" y1="388.00" x2="322.00" y2="391.50" stroke="#231f20" stroke-width="1.0"/>
<text x="195.00" y="336.40" font-size="10.2" text-anchor="middle" textLength="55.30" lengthAdjust="spacingAndGlyphs" transform="rotate(-90 195.00 336.40)">No. Tfh cells/μL</text>
<line x1="255.00" y1="295.00" x2="322.00" y2="295.00" stroke="#231f20" stroke-width="1.3"/>
<polygon points="286.43,289.40 286.87,290.54 288.09,290.61 287.14,291.38 287.45,292.57 286.43,291.90 285.40,292.57 285.71,291.38 284.76,290.61 285.98,290.54" fill="#231f20"/>
<polygon points="290.57,289.40 291.02,290.54 292.24,290.61 291.29,291.38 291.60,292.57 290.57,291.90 289.55,292.57 289.86,291.38 288.91,290.61 290.13,290.54" fill="#231f20"/>
<line x1="255.00" y1="308.00" x2="300.50" y2="308.00" stroke="#231f20" stroke-width="1.3"/>
<polygon points="275.68,302.40 276.12,303.54 277.34,303.61 276.39,304.38 276.70,305.57 275.68,304.90 274.65,305.57 274.96,304.38 274.01,303.61 275.23,303.54" fill="#231f20"/>
<polygon points="279.82,302.40 280.27,303.54 281.49,303.61 280.54,304.38 280.85,305.57 279.82,304.90 278.80,305.57 279.11,304.38 278.16,303.61 279.38,303.54" fill="#231f20"/>
<text x="234.20" y="397.90" font-size="9.2" text-anchor="end" textLength="12.50" lengthAdjust="spacingAndGlyphs" transform="rotate(-45 234.20 397.90)">HD</text>
<text x="256.70" y="397.90" font-size="9.2" text-anchor="end" textLength="37.50" lengthAdjust="spacingAndGlyphs" transform="rotate(-45 256.70 397.90)">No GVHD</text>
<text x="278.70" y="397.90" font-size="9.2" text-anchor="end" textLength="16.20" lengthAdjust="spacingAndGlyphs" transform="rotate(-45 278.70 397.90)">Mild</text>
<text x="301.20" y="397.90" font-size="9.2" text-anchor="end" textLength="35.30" lengthAdjust="spacingAndGlyphs" transform="rotate(-45 301.20 397.90)">Moderate</text>
<text x="323.70" y="397.90" font-size="9.2" text-anchor="end" textLength="26.50" lengthAdjust="spacingAndGlyphs" transform="rotate(-45 323.70 397.90)">Severe</text>
<line x1="266.00" y1="430.30" x2="325.80" y2="430.30" stroke="#231f20" stroke-width="1.1"/>
<text x="295.90" y="444.00" font-size="10.6" text-anchor="middle" textLength="34.00" lengthAdjust="spacingAndGlyphs">cGVHD</text>
<rect x="394.55" y="376.00" width="13.4" height="12.00" fill="#fcc894"/>
<rect x="416.30" y="376.40" width="13.4" height="11.60" fill="#919fc9"/>
<rect x="437.80" y="377.10" width="13.4" height="10.90" fill="#abd79c"/>
<rect x="460.80" y="362.30" width="13.4" height="25.70" fill="#a98cc4"/>
<rect x="483.30" y="356.10" width="13.4" height="31.90" fill="#f0917f"/>
<rect x="398.80" y="354.90" width="4.00" height="4.00" fill="none" stroke="#f7941d" stroke-width="1.0"/><circle cx="400.80" cy="356.90" r="0.55" fill="#f7941d"/>
<rect x="398.80" y="359.00" width="4.00" height="4.00" fill="none" stroke="#f7941d" stroke-width="1.0"/><circle cx="400.80" cy="361.00" r="0.55" fill="#f7941d"/>
<rect x="400.80" y="361.00" width="4.00" height="4.00" fill="none" stroke="#f7941d" stroke-width="1.0"/><circle cx="402.80" cy="363.00" r="0.55" fill="#f7941d"/>
<rect x="396.80" y="364.30" width="4.00" height="4.00" fill="none" stroke="#f7941d" stroke-width="1.0"/><circle cx="398.80" cy="366.30" r="0.55" fill="#f7941d"/>
<rect x="400.80" y="365.00" width="4.00" height="4.00" fill="none" stroke="#f7941d" stroke-width="1.0"/><circle cx="402.80" cy="367.00" r="0.55" fill="#f7941d"/>
<rect x="398.80" y="368.40" width="4.00" height="4.00" fill="none" stroke="#f7941d" stroke-width="1.0"/><circle cx="400.80" cy="370.40" r="0.55" fill="#f7941d"/>
<rect x="396.10" y="369.70" width="4.00" height="4.00" fill="none" stroke="#f7941d" stroke-width="1.0"/><circle cx="398.10" cy="371.70" r="0.55" fill="#f7941d"/>
<rect x="402.20" y="369.00" width="4.00" height="4.00" fill="none" stroke="#f7941d" stroke-width="1.0"/><circle cx="404.20" cy="371.00" r="0.55" fill="#f7941d"/>
<rect x="394.10" y="373.80" width="4.00" height="4.00" fill="none" stroke="#f7941d" stroke-width="1.0"/><circle cx="396.10" cy="375.80" r="0.55" fill="#f7941d"/>
<rect x="398.10" y="373.10" width="4.00" height="4.00" fill="none" stroke="#f7941d" stroke-width="1.0"/><circle cx="400.10" cy="375.10" r="0.55" fill="#f7941d"/>
<rect x="402.80" y="373.80" width="4.00" height="4.00" fill="none" stroke="#f7941d" stroke-width="1.0"/><circle cx="404.80" cy="375.80" r="0.55" fill="#f7941d"/>
<rect x="393.40" y="377.80" width="4.00" height="4.00" fill="none" stroke="#f7941d" stroke-width="1.0"/><circle cx="395.40" cy="379.80" r="0.55" fill="#f7941d"/>
<rect x="398.10" y="377.10" width="4.00" height="4.00" fill="none" stroke="#f7941d" stroke-width="1.0"/><circle cx="400.10" cy="379.10" r="0.55" fill="#f7941d"/>
<rect x="403.50" y="378.50" width="4.00" height="4.00" fill="none" stroke="#f7941d" stroke-width="1.0"/><circle cx="405.50" cy="380.50" r="0.55" fill="#f7941d"/>
<rect x="395.40" y="379.80" width="4.00" height="4.00" fill="none" stroke="#f7941d" stroke-width="1.0"/><circle cx="397.40" cy="381.80" r="0.55" fill="#f7941d"/>
<rect x="400.80" y="379.80" width="4.00" height="4.00" fill="none" stroke="#f7941d" stroke-width="1.0"/><circle cx="402.80" cy="381.80" r="0.55" fill="#f7941d"/>
<path d="M422.70,356.29 L425.45,360.96 L419.95,360.96 Z" fill="none" stroke="#1e3f7a" stroke-width="1.2" stroke-linejoin="miter"/>
<path d="M422.70,364.39 L425.45,369.06 L419.95,369.06 Z" fill="none" stroke="#1e3f7a" stroke-width="1.2" stroke-linejoin="miter"/>
<path d="M418.30,374.49 L421.05,379.16 L415.55,379.16 Z" fill="none" stroke="#1e3f7a" stroke-width="1.2" stroke-linejoin="miter"/>
<path d="M423.00,373.19 L425.75,377.86 L420.25,377.86 Z" fill="none" stroke="#1e3f7a" stroke-width="1.2" stroke-linejoin="miter"/>
<path d="M427.70,377.19 L430.45,381.86 L424.95,381.86 Z" fill="none" stroke="#1e3f7a" stroke-width="1.2" stroke-linejoin="miter"/>
<path d="M420.30,377.89 L423.05,382.56 L417.55,382.56 Z" fill="none" stroke="#1e3f7a" stroke-width="1.2" stroke-linejoin="miter"/>
<path d="M424.30,378.49 L427.05,383.16 L421.55,383.16 Z" fill="none" stroke="#1e3f7a" stroke-width="1.2" stroke-linejoin="miter"/>
<path d="M422.30,382.59 L425.05,387.26 L419.55,387.26 Z" fill="none" stroke="#1e3f7a" stroke-width="1.2" stroke-linejoin="miter"/>
<rect x="447.60" y="368.70" width="4.60" height="4.60" fill="none" stroke="#3f9e49" stroke-width="1.15"/>
<rect x="439.50" y="372.10" width="4.60" height="4.60" fill="none" stroke="#3f9e49" stroke-width="1.15"/>
<rect x="444.20" y="373.50" width="4.60" height="4.60" fill="none" stroke="#3f9e49" stroke-width="1.15"/>
<rect x="448.30" y="374.10" width="4.60" height="4.60" fill="none" stroke="#3f9e49" stroke-width="1.15"/>
<rect x="436.80" y="376.20" width="4.60" height="4.60" fill="none" stroke="#3f9e49" stroke-width="1.15"/>
<rect x="440.90" y="377.50" width="4.60" height="4.60" fill="none" stroke="#3f9e49" stroke-width="1.15"/>
<rect x="445.60" y="376.80" width="4.60" height="4.60" fill="none" stroke="#3f9e49" stroke-width="1.15"/>
<rect x="439.50" y="380.90" width="4.60" height="4.60" fill="none" stroke="#3f9e49" stroke-width="1.15"/>
<rect x="443.60" y="381.50" width="4.60" height="4.60" fill="none" stroke="#3f9e49" stroke-width="1.15"/>
<rect x="446.90" y="380.90" width="4.60" height="4.60" fill="none" stroke="#3f9e49" stroke-width="1.15"/>
<rect x="440.90" y="384.20" width="4.60" height="4.60" fill="none" stroke="#3f9e49" stroke-width="1.15"/>
<circle cx="467.10" cy="329.60" r="2.30" fill="none" stroke="#5b2c80" stroke-width="1.2"/>
<circle cx="467.10" cy="338.60" r="2.30" fill="none" stroke="#5b2c80" stroke-width="1.2"/>
<circle cx="467.10" cy="351.40" r="2.30" fill="none" stroke="#5b2c80" stroke-width="1.2"/>
<circle cx="467.10" cy="366.20" r="2.30" fill="none" stroke="#5b2c80" stroke-width="1.2"/>
<circle cx="462.00" cy="372.00" r="2.30" fill="none" stroke="#5b2c80" stroke-width="1.2"/>
<circle cx="467.50" cy="373.20" r="2.30" fill="none" stroke="#5b2c80" stroke-width="1.2"/>
<circle cx="472.40" cy="374.80" r="2.30" fill="none" stroke="#5b2c80" stroke-width="1.2"/>
<circle cx="462.00" cy="379.40" r="2.30" fill="none" stroke="#5b2c80" stroke-width="1.2"/>
<path d="M489.60,318.21 L492.35,313.54 L486.85,313.54 Z" fill="none" stroke="#cc1a40" stroke-width="1.2"/>
<path d="M489.60,351.71 L492.35,347.04 L486.85,347.04 Z" fill="none" stroke="#cc1a40" stroke-width="1.2"/>
<path d="M495.20,354.81 L497.95,350.14 L492.45,350.14 Z" fill="none" stroke="#cc1a40" stroke-width="1.2"/>
<path d="M484.60,359.51 L487.35,354.84 L481.85,354.84 Z" fill="none" stroke="#cc1a40" stroke-width="1.2"/>
<path d="M489.60,357.11 L492.35,352.44 L486.85,352.44 Z" fill="none" stroke="#cc1a40" stroke-width="1.2"/>
<path d="M490.80,361.01 L493.55,356.34 L488.05,356.34 Z" fill="none" stroke="#cc1a40" stroke-width="1.2"/>
<path d="M494.70,362.61 L497.45,357.94 L491.95,357.94 Z" fill="none" stroke="#cc1a40" stroke-width="1.2"/>
<path d="M489.00,364.11 L491.75,359.44 L486.25,359.44 Z" fill="none" stroke="#cc1a40" stroke-width="1.2"/>
<path d="M489.60,378.11 L492.35,373.44 L486.85,373.44 Z" fill="none" stroke="#cc1a40" stroke-width="1.2"/>
<line x1="401.25" y1="372.00" x2="401.25" y2="378.40" stroke="#f7941d" stroke-width="1.0"/>
<line x1="398.25" y1="372.00" x2="404.25" y2="372.00" stroke="#f7941d" stroke-width="1.0"/>
<line x1="423.00" y1="371.70" x2="423.00" y2="379.22" stroke="#1e3f7a" stroke-width="1.0"/>
<line x1="420.00" y1="371.70" x2="426.00" y2="371.70" stroke="#1e3f7a" stroke-width="1.0"/>
<line x1="444.50" y1="374.00" x2="444.50" y2="378.96" stroke="#3f9e49" stroke-width="1.0"/>
<line x1="441.50" y1="374.00" x2="447.50" y2="374.00" stroke="#3f9e49" stroke-width="1.0"/>
<line x1="467.50" y1="354.50" x2="467.50" y2="366.98" stroke="#5b2c80" stroke-width="1.0"/>
<line x1="464.50" y1="354.50" x2="470.50" y2="354.50" stroke="#5b2c80" stroke-width="1.0"/>
<line x1="490.00" y1="348.00" x2="490.00" y2="360.96" stroke="#cc1a40" stroke-width="1.0"/>
<line x1="487.00" y1="348.00" x2="493.00" y2="348.00" stroke="#cc1a40" stroke-width="1.0"/>
<line x1="385.90" y1="285.30" x2="385.90" y2="388.50" stroke="#231f20" stroke-width="1.15"/>
<line x1="385.40" y1="388.00" x2="502.50" y2="388.00" stroke="#231f20" stroke-width="1.25"/>
<line x1="382.90" y1="388.00" x2="385.90" y2="388.00" stroke="#231f20" stroke-width="1.0"/>
<text x="379.90" y="390.90" font-size="8.5" text-anchor="end">0</text>
<line x1="382.90" y1="354.80" x2="385.90" y2="354.80" stroke="#231f20" stroke-width="1.0"/>
<text x="379.90" y="357.70" font-size="8.5" text-anchor="end">20</text>
<line x1="382.90" y1="321.50" x2="385.90" y2="321.50" stroke="#231f20" stroke-width="1.0"/>
<text x="379.90" y="324.40" font-size="8.5" text-anchor="end">40</text>
<line x1="382.90" y1="288.10" x2="385.90" y2="288.10" stroke="#231f20" stroke-width="1.0"/>
<text x="379.90" y="291.00" font-size="8.5" text-anchor="end">60</text>
<line x1="401.25" y1="388.00" x2="401.25" y2="391.50" stroke="#231f20" stroke-width="1.0"/>
<line x1="423.00" y1="388.00" x2="423.00" y2="391.50" stroke="#231f20" stroke-width="1.0"/>
<line x1="444.50" y1="388.00" x2="444.50" y2="391.50" stroke="#231f20" stroke-width="1.0"/>
<line x1="467.50" y1="388.00" x2="467.50" y2="391.50" stroke="#231f20" stroke-width="1.0"/>
<line x1="490.00" y1="388.00" x2="490.00" y2="391.50" stroke="#231f20" stroke-width="1.0"/>
<text x="363.00" y="336.40" font-size="10.2" text-anchor="middle" textLength="58.80" lengthAdjust="spacingAndGlyphs" transform="rotate(-90 363.00 336.40)">No. Tph cells/μL</text>
<line x1="420.00" y1="295.50" x2="490.50" y2="295.50" stroke="#231f20" stroke-width="1.3"/>
<polygon points="455.25,289.90 455.69,291.04 456.91,291.11 455.96,291.88 456.28,293.07 455.25,292.40 454.22,293.07 454.54,291.88 453.59,291.11 454.81,291.04" fill="#231f20"/>
<line x1="446.25" y1="308.00" x2="490.50" y2="308.00" stroke="#231f20" stroke-width="1.3"/>
<polygon points="466.30,302.40 466.74,303.54 467.96,303.61 467.01,304.38 467.33,305.57 466.30,304.90 465.27,305.57 465.59,304.38 464.64,303.61 465.86,303.54" fill="#231f20"/>
<polygon points="470.45,302.40 470.89,303.54 472.11,303.61 471.16,304.38 471.48,305.57 470.45,304.90 469.42,305.57 469.74,304.38 468.79,303.61 470.01,303.54" fill="#231f20"/>
<line x1="446.25" y1="320.60" x2="465.90" y2="320.60" stroke="#231f20" stroke-width="1.3"/>
<polygon points="456.07,315.00 456.52,316.14 457.74,316.21 456.79,316.98 457.10,318.17 456.07,317.50 455.05,318.17 455.36,316.98 454.41,316.21 455.63,316.14" fill="#231f20"/>
<text x="402.95" y="397.90" font-size="9.2" text-anchor="end" textLength="12.50" lengthAdjust="spacingAndGlyphs" transform="rotate(-45 402.95 397.90)">HD</text>
<text x="424.70" y="397.90" font-size="9.2" text-anchor="end" textLength="37.50" lengthAdjust="spacingAndGlyphs" transform="rotate(-45 424.70 397.90)">No GVHD</text>
<text x="446.20" y="397.90" font-size="9.2" text-anchor="end" textLength="16.20" lengthAdjust="spacingAndGlyphs" transform="rotate(-45 446.20 397.90)">Mild</text>
<text x="469.20" y="397.90" font-size="9.2" text-anchor="end" textLength="35.30" lengthAdjust="spacingAndGlyphs" transform="rotate(-45 469.20 397.90)">Moderate</text>
<text x="491.70" y="397.90" font-size="9.2" text-anchor="end" textLength="26.50" lengthAdjust="spacingAndGlyphs" transform="rotate(-45 491.70 397.90)">Severe</text>
<line x1="433.90" y1="430.30" x2="493.10" y2="430.30" stroke="#231f20" stroke-width="1.1"/>
<text x="463.50" y="444.00" font-size="10.6" text-anchor="middle" textLength="34.00" lengthAdjust="spacingAndGlyphs">cGVHD</text>
<text x="1.40" y="462.00" font-size="11.2" font-weight="bold" fill="#000">C</text>
<path d="M58.80,481.23 L61.15,477.24 L56.45,477.24 Z" fill="none" stroke="#c8173d" stroke-width="1.15"/>
<path d="M77.30,492.03 L79.65,488.04 L74.95,488.04 Z" fill="none" stroke="#c8173d" stroke-width="1.15"/>
<path d="M53.70,506.83 L56.05,502.84 L51.35,502.84 Z" fill="none" stroke="#c8173d" stroke-width="1.15"/>
<path d="M63.30,521.23 L65.65,517.24 L60.95,517.24 Z" fill="none" stroke="#c8173d" stroke-width="1.15"/>
<path d="M60.80,523.73 L63.15,519.74 L58.45,519.74 Z" fill="none" stroke="#c8173d" stroke-width="1.15"/>
<path d="M79.60,521.83 L81.95,517.84 L77.25,517.84 Z" fill="none" stroke="#c8173d" stroke-width="1.15"/>
<path d="M81.00,521.83 L83.35,517.84 L78.65,517.84 Z" fill="none" stroke="#c8173d" stroke-width="1.15"/>
<path d="M107.50,518.93 L109.85,514.94 L105.15,514.94 Z" fill="none" stroke="#c8173d" stroke-width="1.15"/>
<path d="M100.20,526.03 L102.55,522.04 L97.85,522.04 Z" fill="none" stroke="#c8173d" stroke-width="1.15"/>
<path d="M56.00,530.93 L58.35,526.94 L53.65,526.94 Z" fill="none" stroke="#c8173d" stroke-width="1.15"/>
<path d="M67.10,529.93 L69.45,525.94 L64.75,525.94 Z" fill="none" stroke="#c8173d" stroke-width="1.15"/>
<path d="M66.50,533.43 L68.85,529.44 L64.15,529.44 Z" fill="none" stroke="#c8173d" stroke-width="1.15"/>
<path d="M53.70,538.93 L56.05,534.94 L51.35,534.94 Z" fill="none" stroke="#c8173d" stroke-width="1.15"/>
<path d="M54.00,540.93 L56.35,536.94 L51.65,536.94 Z" fill="none" stroke="#c8173d" stroke-width="1.15"/>
<path d="M83.50,541.83 L85.85,537.84 L81.15,537.84 Z" fill="none" stroke="#c8173d" stroke-width="1.15"/>
<path d="M61.90,545.93 L64.25,541.94 L59.55,541.94 Z" fill="none" stroke="#c8173d" stroke-width="1.15"/>
<path d="M85.40,547.23 L87.75,543.24 L83.05,543.24 Z" fill="none" stroke="#c8173d" stroke-width="1.15"/>
<path d="M86.30,548.23 L88.65,544.24 L83.95,544.24 Z" fill="none" stroke="#c8173d" stroke-width="1.15"/>
<path d="M77.70,550.13 L80.05,546.14 L75.35,546.14 Z" fill="none" stroke="#c8173d" stroke-width="1.15"/>
<path d="M76.30,552.63 L78.65,548.64 L73.95,548.64 Z" fill="none" stroke="#c8173d" stroke-width="1.15"/>
<path d="M103.00,552.03 L105.35,548.04 L100.65,548.04 Z" fill="none" stroke="#c8173d" stroke-width="1.15"/>
<path d="M112.70,550.73 L115.05,546.74 L110.35,546.74 Z" fill="none" stroke="#c8173d" stroke-width="1.15"/>
<path d="M138.30,548.53 L140.65,544.54 L135.95,544.54 Z" fill="none" stroke="#c8173d" stroke-width="1.15"/>
<line x1="52.20" y1="521.90" x2="138.30" y2="547.30" stroke="#231f20" stroke-width="1.3"/>
<line x1="52.20" y1="472.50" x2="52.20" y2="559.90" stroke="#231f20" stroke-width="1.15"/>
<line x1="51.70" y1="559.40" x2="177.30" y2="559.40" stroke="#231f20" stroke-width="1.25"/>
<line x1="49.20" y1="559.40" x2="52.20" y2="559.40" stroke="#231f20" stroke-width="1.0"/>
<text x="46.20" y="562.30" font-size="8.5" text-anchor="end">0</text>
<line x1="49.20" y1="538.30" x2="52.20" y2="538.30" stroke="#231f20" stroke-width="1.0"/>
<text x="46.20" y="541.20" font-size="8.5" text-anchor="end">5</text>
<line x1="49.20" y1="517.20" x2="52.20" y2="517.20" stroke="#231f20" stroke-width="1.0"/>
<text x="46.20" y="520.10" font-size="8.5" text-anchor="end">10</text>
<line x1="49.20" y1="496.20" x2="52.20" y2="496.20" stroke="#231f20" stroke-width="1.0"/>
<text x="46.20" y="499.10" font-size="8.5" text-anchor="end">15</text>
<line x1="49.20" y1="475.30" x2="52.20" y2="475.30" stroke="#231f20" stroke-width="1.0"/>
<text x="46.20" y="478.20" font-size="8.5" text-anchor="end">20</text>
<line x1="52.20" y1="559.40" x2="52.20" y2="562.40" stroke="#231f20" stroke-width="1.0"/>
<text x="52.20" y="573.20" font-size="8.5" text-anchor="middle">0</text>
<line x1="93.80" y1="559.40" x2="93.80" y2="562.40" stroke="#231f20" stroke-width="1.0"/>
<text x="93.80" y="573.20" font-size="8.5" text-anchor="middle">5</text>
<line x1="135.60" y1="559.40" x2="135.60" y2="562.40" stroke="#231f20" stroke-width="1.0"/>
<text x="135.60" y="573.20" font-size="8.5" text-anchor="middle">10</text>
<line x1="177.30" y1="559.40" x2="177.30" y2="562.40" stroke="#231f20" stroke-width="1.0"/>
<text x="177.30" y="573.20" font-size="8.5" text-anchor="middle">15</text>
<line x1="52.20" y1="559.40" x2="52.20" y2="561.00" stroke="#231f20" stroke-width="0.8"/>
<line x1="60.54" y1="559.40" x2="60.54" y2="561.00" stroke="#231f20" stroke-width="0.8"/>
<line x1="68.88" y1="559.40" x2="68.88" y2="561.00" stroke="#231f20" stroke-width="0.8"/>
<line x1="77.22" y1="559.40" x2="77.22" y2="561.00" stroke="#231f20" stroke-width="0.8"/>
<line x1="85.56" y1="559.40" x2="85.56" y2="561.00" stroke="#231f20" stroke-width="0.8"/>
<line x1="93.90" y1="559.40" x2="93.90" y2="561.00" stroke="#231f20" stroke-width="0.8"/>
<line x1="102.24" y1="559.40" x2="102.24" y2="561.00" stroke="#231f20" stroke-width="0.8"/>
<line x1="110.58" y1="559.40" x2="110.58" y2="561.00" stroke="#231f20" stroke-width="0.8"/>
<line x1="118.92" y1="559.40" x2="118.92" y2="561.00" stroke="#231f20" stroke-width="0.8"/>
<line x1="127.26" y1="559.40" x2="127.26" y2="561.00" stroke="#231f20" stroke-width="0.8"/>
<line x1="135.60" y1="559.40" x2="135.60" y2="561.00" stroke="#231f20" stroke-width="0.8"/>
<line x1="143.94" y1="559.40" x2="143.94" y2="561.00" stroke="#231f20" stroke-width="0.8"/>
<line x1="152.28" y1="559.40" x2="152.28" y2="561.00" stroke="#231f20" stroke-width="0.8"/>
<line x1="160.62" y1="559.40" x2="160.62" y2="561.00" stroke="#231f20" stroke-width="0.8"/>
<line x1="168.96" y1="559.40" x2="168.96" y2="561.00" stroke="#231f20" stroke-width="0.8"/>
<line x1="177.30" y1="559.40" x2="177.30" y2="561.00" stroke="#231f20" stroke-width="0.8"/>
<text x="31.50" y="514.80" font-size="10.2" text-anchor="middle" textLength="69.20" lengthAdjust="spacingAndGlyphs" transform="rotate(-90 31.50 514.80)">% PD1<tspan dy="-4.3" font-size="5.8">hi</tspan><tspan dy="4.3">CXCR5</tspan><tspan dy="-4.0" font-size="6.6">−</tspan><tspan dy="4.0">Tph</tspan></text>
<text x="116.40" y="587.60" font-size="10.4" text-anchor="middle" textLength="72.20" lengthAdjust="spacingAndGlyphs">% PD1<tspan dy="-4.0" font-size="6.6">+</tspan><tspan dy="4.0">CXCR5</tspan><tspan dy="-4.0" font-size="6.6">+</tspan><tspan dy="4.0"> Tfh</tspan></text>
<text x="124.00" y="484.10" font-size="8.1" textLength="43.50" lengthAdjust="spacingAndGlyphs">R = −0.4060</text>
<text x="124.00" y="494.00" font-size="8.1" textLength="34.60" lengthAdjust="spacingAndGlyphs"><tspan font-style="italic">P</tspan> = .0304</text>
<path d="M221.70,497.23 L224.05,493.24 L219.35,493.24 Z" fill="none" stroke="#c8173d" stroke-width="1.15"/>
<path d="M229.00,505.93 L231.35,501.94 L226.65,501.94 Z" fill="none" stroke="#c8173d" stroke-width="1.15"/>
<path d="M223.10,517.83 L225.45,513.84 L220.75,513.84 Z" fill="none" stroke="#c8173d" stroke-width="1.15"/>
<path d="M226.90,530.93 L229.25,526.94 L224.55,526.94 Z" fill="none" stroke="#c8173d" stroke-width="1.15"/>
<path d="M234.60,529.33 L236.95,525.34 L232.25,525.34 Z" fill="none" stroke="#c8173d" stroke-width="1.15"/>
<path d="M237.70,529.33 L240.05,525.34 L235.35,525.34 Z" fill="none" stroke="#c8173d" stroke-width="1.15"/>
<path d="M241.00,529.33 L243.35,525.34 L238.65,525.34 Z" fill="none" stroke="#c8173d" stroke-width="1.15"/>
<path d="M248.10,527.63 L250.45,523.64 L245.75,523.64 Z" fill="none" stroke="#c8173d" stroke-width="1.15"/>
<path d="M248.10,532.83 L250.45,528.84 L245.75,528.84 Z" fill="none" stroke="#c8173d" stroke-width="1.15"/>
<path d="M252.50,537.03 L254.85,533.04 L250.15,533.04 Z" fill="none" stroke="#c8173d" stroke-width="1.15"/>
<path d="M235.20,535.73 L237.55,531.74 L232.85,531.74 Z" fill="none" stroke="#c8173d" stroke-width="1.15"/>
<path d="M229.40,538.53 L231.75,534.54 L227.05,534.54 Z" fill="none" stroke="#c8173d" stroke-width="1.15"/>
<path d="M222.70,543.43 L225.05,539.44 L220.35,539.44 Z" fill="none" stroke="#c8173d" stroke-width="1.15"/>
<path d="M226.90,545.73 L229.25,541.74 L224.55,541.74 Z" fill="none" stroke="#c8173d" stroke-width="1.15"/>
<path d="M228.50,545.33 L230.85,541.34 L226.15,541.34 Z" fill="none" stroke="#c8173d" stroke-width="1.15"/>
<path d="M226.50,548.23 L228.85,544.24 L224.15,544.24 Z" fill="none" stroke="#c8173d" stroke-width="1.15"/>
<path d="M226.90,549.53 L229.25,545.54 L224.55,545.54 Z" fill="none" stroke="#c8173d" stroke-width="1.15"/>
<path d="M258.80,550.13 L261.15,546.14 L256.45,546.14 Z" fill="none" stroke="#c8173d" stroke-width="1.15"/>
<path d="M260.20,553.93 L262.55,549.94 L257.85,549.94 Z" fill="none" stroke="#c8173d" stroke-width="1.15"/>
<path d="M271.30,550.13 L273.65,546.14 L268.95,546.14 Z" fill="none" stroke="#c8173d" stroke-width="1.15"/>
<path d="M273.70,552.63 L276.05,548.64 L271.35,548.64 Z" fill="none" stroke="#c8173d" stroke-width="1.15"/>
<path d="M294.20,552.63 L296.55,548.64 L291.85,548.64 Z" fill="none" stroke="#c8173d" stroke-width="1.15"/>
<path d="M320.50,555.23 L322.85,551.24 L318.15,551.24 Z" fill="none" stroke="#c8173d" stroke-width="1.15"/>
<path d="M322.50,553.23 L324.85,549.24 L320.15,549.24 Z" fill="none" stroke="#c8173d" stroke-width="1.15"/>
<line x1="220.60" y1="527.30" x2="321.00" y2="557.80" stroke="#231f20" stroke-width="1.3"/>
<line x1="220.60" y1="473.10" x2="220.60" y2="559.90" stroke="#231f20" stroke-width="1.15"/>
<line x1="220.10" y1="559.40" x2="348.70" y2="559.40" stroke="#231f20" stroke-width="1.25"/>
<line x1="217.60" y1="559.40" x2="220.60" y2="559.40" stroke="#231f20" stroke-width="1.0"/>
<text x="214.60" y="562.30" font-size="8.5" text-anchor="end">0</text>
<line x1="217.60" y1="542.60" x2="220.60" y2="542.60" stroke="#231f20" stroke-width="1.0"/>
<text x="214.60" y="545.50" font-size="8.5" text-anchor="end">5</text>
<line x1="217.60" y1="525.80" x2="220.60" y2="525.80" stroke="#231f20" stroke-width="1.0"/>
<text x="214.60" y="528.70" font-size="8.5" text-anchor="end">10</text>
<line x1="217.60" y1="509.00" x2="220.60" y2="509.00" stroke="#231f20" stroke-width="1.0"/>
<text x="214.60" y="511.90" font-size="8.5" text-anchor="end">15</text>
<line x1="217.60" y1="492.50" x2="220.60" y2="492.50" stroke="#231f20" stroke-width="1.0"/>
<text x="214.60" y="495.40" font-size="8.5" text-anchor="end">20</text>
<line x1="217.60" y1="475.90" x2="220.60" y2="475.90" stroke="#231f20" stroke-width="1.0"/>
<text x="214.60" y="478.80" font-size="8.5" text-anchor="end">25</text>
<line x1="220.80" y1="559.40" x2="220.80" y2="562.40" stroke="#231f20" stroke-width="1.0"/>
<text x="220.80" y="573.20" font-size="8.5" text-anchor="middle">0</text>
<line x1="245.40" y1="559.40" x2="245.40" y2="562.40" stroke="#231f20" stroke-width="1.0"/>
<text x="245.40" y="573.20" font-size="8.5" text-anchor="middle">5</text>
<line x1="270.40" y1="559.40" x2="270.40" y2="562.40" stroke="#231f20" stroke-width="1.0"/>
<text x="270.40" y="573.20" font-size="8.5" text-anchor="middle">10</text>
<line x1="296.10" y1="559.40" x2="296.10" y2="562.40" stroke="#231f20" stroke-width="1.0"/>
<text x="296.10" y="573.20" font-size="8.5" text-anchor="middle">15</text>
<line x1="321.60" y1="559.40" x2="321.60" y2="562.40" stroke="#231f20" stroke-width="1.0"/>
<text x="321.60" y="573.20" font-size="8.5" text-anchor="middle">20</text>
<line x1="346.50" y1="559.40" x2="346.50" y2="562.40" stroke="#231f20" stroke-width="1.0"/>
<text x="346.50" y="573.20" font-size="8.5" text-anchor="middle">25</text>
<text x="198.70" y="514.90" font-size="10.2" text-anchor="middle" textLength="70.00" lengthAdjust="spacingAndGlyphs" transform="rotate(-90 198.70 514.90)">% PD1<tspan dy="-4.3" font-size="5.8">hi</tspan><tspan dy="4.3">CXCR5</tspan><tspan dy="-4.0" font-size="6.6">−</tspan><tspan dy="4.0">Tph</tspan></text>
<text x="284.80" y="587.60" font-size="10.4" text-anchor="middle" textLength="83.40" lengthAdjust="spacingAndGlyphs">% PD1<tspan dy="-4.0" font-size="6.6">−</tspan><tspan dy="4.0">CXCR5</tspan><tspan dy="-4.0" font-size="6.6">+</tspan><tspan dy="4.0"> pre-Tfh</tspan></text>
<text x="292.20" y="488.70" font-size="8.1" textLength="43.60" lengthAdjust="spacingAndGlyphs">R = −0.6445</text>
<text x="292.20" y="498.60" font-size="8.1" textLength="34.60" lengthAdjust="spacingAndGlyphs"><tspan font-style="italic">P</tspan> = .0006</text>
<path d="M387.10,500.13 L389.45,496.14 L384.75,496.14 Z" fill="none" stroke="#c8173d" stroke-width="1.15"/>
<path d="M406.00,511.63 L408.35,507.64 L403.65,507.64 Z" fill="none" stroke="#c8173d" stroke-width="1.15"/>
<path d="M388.70,518.93 L391.05,514.94 L386.35,514.94 Z" fill="none" stroke="#c8173d" stroke-width="1.15"/>
<path d="M418.10,528.93 L420.45,524.94 L415.75,524.94 Z" fill="none" stroke="#c8173d" stroke-width="1.15"/>
<path d="M428.10,529.93 L430.45,525.94 L425.75,525.94 Z" fill="none" stroke="#c8173d" stroke-width="1.15"/>
<path d="M389.20,531.43 L391.55,527.44 L386.85,527.44 Z" fill="none" stroke="#c8173d" stroke-width="1.15"/>
<path d="M391.90,534.73 L394.25,530.74 L389.55,530.74 Z" fill="none" stroke="#c8173d" stroke-width="1.15"/>
<path d="M407.90,533.73 L410.25,529.74 L405.55,529.74 Z" fill="none" stroke="#c8173d" stroke-width="1.15"/>
<path d="M389.60,538.23 L391.95,534.24 L387.25,534.24 Z" fill="none" stroke="#c8173d" stroke-width="1.15"/>
<path d="M394.40,538.53 L396.75,534.54 L392.05,534.54 Z" fill="none" stroke="#c8173d" stroke-width="1.15"/>
<path d="M396.70,541.83 L399.05,537.84 L394.35,537.84 Z" fill="none" stroke="#c8173d" stroke-width="1.15"/>
<path d="M392.50,547.23 L394.85,543.24 L390.15,543.24 Z" fill="none" stroke="#c8173d" stroke-width="1.15"/>
<path d="M391.20,548.73 L393.55,544.74 L388.85,544.74 Z" fill="none" stroke="#c8173d" stroke-width="1.15"/>
<path d="M391.90,550.73 L394.25,546.74 L389.55,546.74 Z" fill="none" stroke="#c8173d" stroke-width="1.15"/>
<path d="M427.70,550.13 L430.05,546.14 L425.35,546.14 Z" fill="none" stroke="#c8173d" stroke-width="1.15"/>
<path d="M428.70,556.83 L431.05,552.84 L426.35,552.84 Z" fill="none" stroke="#c8173d" stroke-width="1.15"/>
<path d="M436.70,551.03 L439.05,547.04 L434.35,547.04 Z" fill="none" stroke="#c8173d" stroke-width="1.15"/>
<path d="M437.10,552.63 L439.45,548.64 L434.75,548.64 Z" fill="none" stroke="#c8173d" stroke-width="1.15"/>
<path d="M452.10,553.43 L454.45,549.44 L449.75,549.44 Z" fill="none" stroke="#c8173d" stroke-width="1.15"/>
<path d="M472.80,547.13 L475.15,543.14 L470.45,543.14 Z" fill="none" stroke="#c8173d" stroke-width="1.15"/>
<path d="M495.00,553.13 L497.35,549.14 L492.65,549.14 Z" fill="none" stroke="#c8173d" stroke-width="1.15"/>
<path d="M395.40,560.33 L397.75,556.34 L393.05,556.34 Z" fill="none" stroke="#c8173d" stroke-width="1.15"/>
<line x1="385.90" y1="533.50" x2="494.30" y2="554.20" stroke="#231f20" stroke-width="1.3"/>
<line x1="385.90" y1="473.10" x2="385.90" y2="559.90" stroke="#231f20" stroke-width="1.15"/>
<line x1="385.40" y1="559.40" x2="513.00" y2="559.40" stroke="#231f20" stroke-width="1.25"/>
<line x1="382.90" y1="559.40" x2="385.90" y2="559.40" stroke="#231f20" stroke-width="1.0"/>
<text x="379.90" y="562.30" font-size="8.5" text-anchor="end">0</text>
<line x1="382.90" y1="531.80" x2="385.90" y2="531.80" stroke="#231f20" stroke-width="1.0"/>
<text x="379.90" y="534.70" font-size="8.5" text-anchor="end">20</text>
<line x1="382.90" y1="503.80" x2="385.90" y2="503.80" stroke="#231f20" stroke-width="1.0"/>
<text x="379.90" y="506.70" font-size="8.5" text-anchor="end">40</text>
<line x1="382.90" y1="475.90" x2="385.90" y2="475.90" stroke="#231f20" stroke-width="1.0"/>
<text x="379.90" y="478.80" font-size="8.5" text-anchor="end">60</text>
<line x1="385.80" y1="559.40" x2="385.80" y2="562.40" stroke="#231f20" stroke-width="1.0"/>
<text x="385.80" y="573.20" font-size="8.5" text-anchor="middle">0</text>
<line x1="428.10" y1="559.40" x2="428.10" y2="562.40" stroke="#231f20" stroke-width="1.0"/>
<text x="428.10" y="573.20" font-size="8.5" text-anchor="middle">20</text>
<line x1="470.20" y1="559.40" x2="470.20" y2="562.40" stroke="#231f20" stroke-width="1.0"/>
<text x="470.20" y="573.20" font-size="8.5" text-anchor="middle">40</text>
<line x1="512.20" y1="559.40" x2="512.20" y2="562.40" stroke="#231f20" stroke-width="1.0"/>
<text x="512.20" y="573.20" font-size="8.5" text-anchor="middle">60</text>
<line x1="385.80" y1="559.40" x2="385.80" y2="561.00" stroke="#231f20" stroke-width="0.8"/>
<line x1="390.03" y1="559.40" x2="390.03" y2="561.00" stroke="#231f20" stroke-width="0.8"/>
<line x1="394.26" y1="559.40" x2="394.26" y2="561.00" stroke="#231f20" stroke-width="0.8"/>
<line x1="398.49" y1="559.40" x2="398.49" y2="561.00" stroke="#231f20" stroke-width="0.8"/>
<line x1="402.72" y1="559.40" x2="402.72" y2="561.00" stroke="#231f20" stroke-width="0.8"/>
<line x1="406.95" y1="559.40" x2="406.95" y2="561.00" stroke="#231f20" stroke-width="0.8"/>
<line x1="411.18" y1="559.40" x2="411.18" y2="561.00" stroke="#231f20" stroke-width="0.8"/>
<line x1="415.41" y1="559.40" x2="415.41" y2="561.00" stroke="#231f20" stroke-width="0.8"/>
<line x1="419.64" y1="559.40" x2="419.64" y2="561.00" stroke="#231f20" stroke-width="0.8"/>
<line x1="423.87" y1="559.40" x2="423.87" y2="561.00" stroke="#231f20" stroke-width="0.8"/>
<line x1="428.10" y1="559.40" x2="428.10" y2="561.00" stroke="#231f20" stroke-width="0.8"/>
<line x1="432.33" y1="559.40" x2="432.33" y2="561.00" stroke="#231f20" stroke-width="0.8"/>
<line x1="436.56" y1="559.40" x2="436.56" y2="561.00" stroke="#231f20" stroke-width="0.8"/>
<line x1="440.79" y1="559.40" x2="440.79" y2="561.00" stroke="#231f20" stroke-width="0.8"/>
<line x1="445.02" y1="559.40" x2="445.02" y2="561.00" stroke="#231f20" stroke-width="0.8"/>
<line x1="449.25" y1="559.40" x2="449.25" y2="561.00" stroke="#231f20" stroke-width="0.8"/>
<line x1="453.48" y1="559.40" x2="453.48" y2="561.00" stroke="#231f20" stroke-width="0.8"/>
<line x1="457.71" y1="559.40" x2="457.71" y2="561.00" stroke="#231f20" stroke-width="0.8"/>
<line x1="461.94" y1="559.40" x2="461.94" y2="561.00" stroke="#231f20" stroke-width="0.8"/>
<line x1="466.17" y1="559.40" x2="466.17" y2="561.00" stroke="#231f20" stroke-width="0.8"/>
<line x1="470.40" y1="559.40" x2="470.40" y2="561.00" stroke="#231f20" stroke-width="0.8"/>
<line x1="474.63" y1="559.40" x2="474.63" y2="561.00" stroke="#231f20" stroke-width="0.8"/>
<line x1="478.86" y1="559.40" x2="478.86" y2="561.00" stroke="#231f20" stroke-width="0.8"/>
<line x1="483.09" y1="559.40" x2="483.09" y2="561.00" stroke="#231f20" stroke-width="0.8"/>
<line x1="487.32" y1="559.40" x2="487.32" y2="561.00" stroke="#231f20" stroke-width="0.8"/>
<line x1="491.55" y1="559.40" x2="491.55" y2="561.00" stroke="#231f20" stroke-width="0.8"/>
<line x1="495.78" y1="559.40" x2="495.78" y2="561.00" stroke="#231f20" stroke-width="0.8"/>
<line x1="500.01" y1="559.40" x2="500.01" y2="561.00" stroke="#231f20" stroke-width="0.8"/>
<line x1="504.24" y1="559.40" x2="504.24" y2="561.00" stroke="#231f20" stroke-width="0.8"/>
<line x1="508.47" y1="559.40" x2="508.47" y2="561.00" stroke="#231f20" stroke-width="0.8"/>
<line x1="512.70" y1="559.40" x2="512.70" y2="561.00" stroke="#231f20" stroke-width="0.8"/>
<text x="362.80" y="515.50" font-size="10.2" text-anchor="middle" textLength="58.20" lengthAdjust="spacingAndGlyphs" transform="rotate(-90 362.80 515.50)">No. Tph cells/μL</text>
<text x="447.90" y="587.60" font-size="10.4" text-anchor="middle" textLength="64.60" lengthAdjust="spacingAndGlyphs">No. pre-Tfh cells/μL</text>
<text x="457.30" y="488.70" font-size="8.1" textLength="43.70" lengthAdjust="spacingAndGlyphs">R = −0.5844</text>
<text x="457.30" y="498.60" font-size="8.1" textLength="34.60" lengthAdjust="spacingAndGlyphs"><tspan font-style="italic">P</tspan> = .0021</text>
</svg>
</body></html>
